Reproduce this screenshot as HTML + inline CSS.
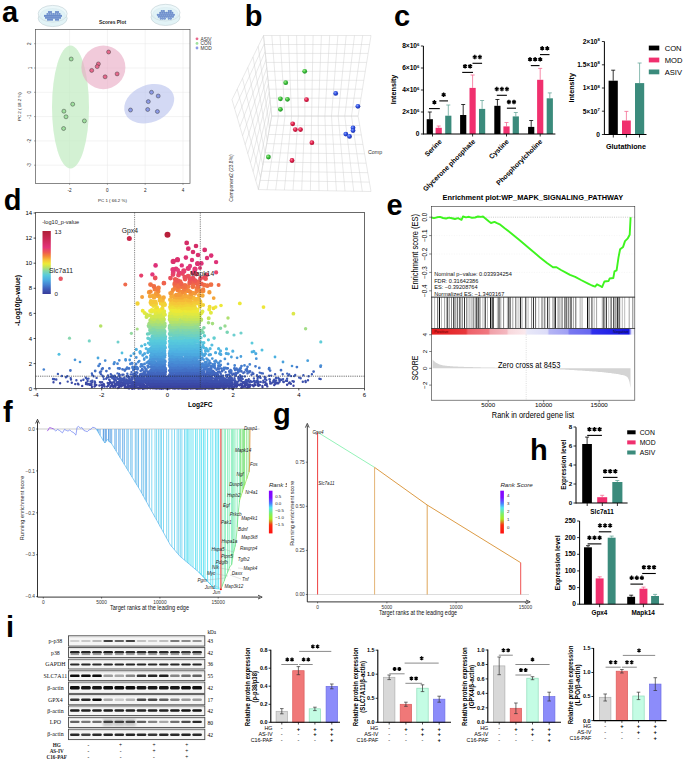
<!DOCTYPE html>
<html><head><meta charset="utf-8"><title>Figure</title>
<style>html,body{margin:0;padding:0;background:#fff;}svg{display:block;}</style>
</head><body>
<svg width="685" height="761" viewBox="0 0 685 761" font-family="'Liberation Sans', sans-serif">
<rect width="685" height="761" fill="#fff"/>
<text x="2.1" y="21.6" font-size="29" font-weight="bold">a</text>
<g transform="translate(52.7 13.7)"><ellipse cx="0" cy="4.6" rx="14.5" ry="8.3" fill="#e2f3f6" stroke="#bfcfd4" stroke-width="0.6"/><ellipse cx="0" cy="0" rx="14.5" ry="8.3" fill="#ecf8fa" stroke="#bfcfd4" stroke-width="0.6"/><ellipse cx="0" cy="1.4" rx="12.6" ry="6.6" fill="#e0f2f6" stroke="#d3e6eb" stroke-width="0.4"/><circle cx="-3.7" cy="-1.6" r="1.08" fill="#5a7ec4"/><circle cx="-1.7" cy="-1.6" r="1.08" fill="#5a7ec4"/><circle cx="3.3" cy="-1.6" r="1.08" fill="#5a7ec4"/><circle cx="5.3" cy="-1.6" r="1.08" fill="#5a7ec4"/><circle cx="-5.2" cy="0.3" r="1.08" fill="#5a7ec4"/><circle cx="-3.2" cy="0.3" r="1.08" fill="#5a7ec4"/><circle cx="-1.2" cy="0.3" r="1.08" fill="#5a7ec4"/><circle cx="0.8" cy="0.3" r="1.08" fill="#5a7ec4"/><circle cx="2.8" cy="0.3" r="1.08" fill="#5a7ec4"/><circle cx="4.8" cy="0.3" r="1.08" fill="#5a7ec4"/><circle cx="6.8" cy="0.3" r="1.08" fill="#5a7ec4"/><circle cx="-7.7" cy="2.2" r="1.08" fill="#5a7ec4"/><circle cx="-5.7" cy="2.2" r="1.08" fill="#5a7ec4"/><circle cx="-3.7" cy="2.2" r="1.08" fill="#5a7ec4"/><circle cx="-1.7" cy="2.2" r="1.08" fill="#5a7ec4"/><circle cx="0.3" cy="2.2" r="1.08" fill="#5a7ec4"/><circle cx="2.3" cy="2.2" r="1.08" fill="#5a7ec4"/><circle cx="4.3" cy="2.2" r="1.08" fill="#5a7ec4"/><circle cx="6.3" cy="2.2" r="1.08" fill="#5a7ec4"/><circle cx="8.3" cy="2.2" r="1.08" fill="#5a7ec4"/><circle cx="-6.7" cy="4.1" r="1.08" fill="#5a7ec4"/><circle cx="-4.7" cy="4.1" r="1.08" fill="#5a7ec4"/><circle cx="-2.7" cy="4.1" r="1.08" fill="#5a7ec4"/><circle cx="-0.7" cy="4.1" r="1.08" fill="#5a7ec4"/><circle cx="1.3" cy="4.1" r="1.08" fill="#5a7ec4"/><circle cx="3.3" cy="4.1" r="1.08" fill="#5a7ec4"/><circle cx="5.3" cy="4.1" r="1.08" fill="#5a7ec4"/><circle cx="7.3" cy="4.1" r="1.08" fill="#5a7ec4"/><circle cx="-4.7" cy="6" r="1.08" fill="#5a7ec4"/><circle cx="-2.7" cy="6" r="1.08" fill="#5a7ec4"/><circle cx="-0.7" cy="6" r="1.08" fill="#5a7ec4"/><circle cx="3.3" cy="6" r="1.08" fill="#5a7ec4"/><circle cx="5.3" cy="6" r="1.08" fill="#5a7ec4"/><circle cx="-3.7" cy="-1.6" r="0.5" fill="#9ab2e0"/><circle cx="-1.7" cy="-1.6" r="0.5" fill="#9ab2e0"/><circle cx="3.3" cy="-1.6" r="0.5" fill="#9ab2e0"/><circle cx="5.3" cy="-1.6" r="0.5" fill="#9ab2e0"/><circle cx="-5.2" cy="0.3" r="0.5" fill="#9ab2e0"/><circle cx="-3.2" cy="0.3" r="0.5" fill="#9ab2e0"/><circle cx="-1.2" cy="0.3" r="0.5" fill="#9ab2e0"/><circle cx="0.8" cy="0.3" r="0.5" fill="#9ab2e0"/><circle cx="2.8" cy="0.3" r="0.5" fill="#9ab2e0"/><circle cx="4.8" cy="0.3" r="0.5" fill="#9ab2e0"/><circle cx="6.8" cy="0.3" r="0.5" fill="#9ab2e0"/><circle cx="-7.7" cy="2.2" r="0.5" fill="#9ab2e0"/><circle cx="-5.7" cy="2.2" r="0.5" fill="#9ab2e0"/><circle cx="-3.7" cy="2.2" r="0.5" fill="#9ab2e0"/><circle cx="-1.7" cy="2.2" r="0.5" fill="#9ab2e0"/><circle cx="0.3" cy="2.2" r="0.5" fill="#9ab2e0"/><circle cx="2.3" cy="2.2" r="0.5" fill="#9ab2e0"/><circle cx="4.3" cy="2.2" r="0.5" fill="#9ab2e0"/><circle cx="6.3" cy="2.2" r="0.5" fill="#9ab2e0"/><circle cx="8.3" cy="2.2" r="0.5" fill="#9ab2e0"/><circle cx="-6.7" cy="4.1" r="0.5" fill="#9ab2e0"/><circle cx="-4.7" cy="4.1" r="0.5" fill="#9ab2e0"/><circle cx="-2.7" cy="4.1" r="0.5" fill="#9ab2e0"/><circle cx="-0.7" cy="4.1" r="0.5" fill="#9ab2e0"/><circle cx="1.3" cy="4.1" r="0.5" fill="#9ab2e0"/><circle cx="3.3" cy="4.1" r="0.5" fill="#9ab2e0"/><circle cx="5.3" cy="4.1" r="0.5" fill="#9ab2e0"/><circle cx="7.3" cy="4.1" r="0.5" fill="#9ab2e0"/><circle cx="-4.7" cy="6" r="0.5" fill="#9ab2e0"/><circle cx="-2.7" cy="6" r="0.5" fill="#9ab2e0"/><circle cx="-0.7" cy="6" r="0.5" fill="#9ab2e0"/><circle cx="3.3" cy="6" r="0.5" fill="#9ab2e0"/><circle cx="5.3" cy="6" r="0.5" fill="#9ab2e0"/></g>
<g transform="translate(165.5 12.6)"><ellipse cx="0" cy="4.6" rx="14.5" ry="8.3" fill="#e2f3f6" stroke="#bfcfd4" stroke-width="0.6"/><ellipse cx="0" cy="0" rx="14.5" ry="8.3" fill="#ecf8fa" stroke="#bfcfd4" stroke-width="0.6"/><ellipse cx="0" cy="1.4" rx="12.6" ry="6.6" fill="#e0f2f6" stroke="#d3e6eb" stroke-width="0.4"/><circle cx="-3.7" cy="-1.6" r="1.08" fill="#5a7ec4"/><circle cx="-1.7" cy="-1.6" r="1.08" fill="#5a7ec4"/><circle cx="3.3" cy="-1.6" r="1.08" fill="#5a7ec4"/><circle cx="5.3" cy="-1.6" r="1.08" fill="#5a7ec4"/><circle cx="-5.2" cy="0.3" r="1.08" fill="#5a7ec4"/><circle cx="-3.2" cy="0.3" r="1.08" fill="#5a7ec4"/><circle cx="-1.2" cy="0.3" r="1.08" fill="#5a7ec4"/><circle cx="0.8" cy="0.3" r="1.08" fill="#5a7ec4"/><circle cx="2.8" cy="0.3" r="1.08" fill="#5a7ec4"/><circle cx="4.8" cy="0.3" r="1.08" fill="#5a7ec4"/><circle cx="6.8" cy="0.3" r="1.08" fill="#5a7ec4"/><circle cx="-7.7" cy="2.2" r="1.08" fill="#5a7ec4"/><circle cx="-5.7" cy="2.2" r="1.08" fill="#5a7ec4"/><circle cx="-3.7" cy="2.2" r="1.08" fill="#5a7ec4"/><circle cx="-1.7" cy="2.2" r="1.08" fill="#5a7ec4"/><circle cx="0.3" cy="2.2" r="1.08" fill="#5a7ec4"/><circle cx="2.3" cy="2.2" r="1.08" fill="#5a7ec4"/><circle cx="4.3" cy="2.2" r="1.08" fill="#5a7ec4"/><circle cx="6.3" cy="2.2" r="1.08" fill="#5a7ec4"/><circle cx="8.3" cy="2.2" r="1.08" fill="#5a7ec4"/><circle cx="-6.7" cy="4.1" r="1.08" fill="#5a7ec4"/><circle cx="-4.7" cy="4.1" r="1.08" fill="#5a7ec4"/><circle cx="-2.7" cy="4.1" r="1.08" fill="#5a7ec4"/><circle cx="-0.7" cy="4.1" r="1.08" fill="#5a7ec4"/><circle cx="1.3" cy="4.1" r="1.08" fill="#5a7ec4"/><circle cx="3.3" cy="4.1" r="1.08" fill="#5a7ec4"/><circle cx="5.3" cy="4.1" r="1.08" fill="#5a7ec4"/><circle cx="7.3" cy="4.1" r="1.08" fill="#5a7ec4"/><circle cx="-4.7" cy="6" r="1.08" fill="#5a7ec4"/><circle cx="-2.7" cy="6" r="1.08" fill="#5a7ec4"/><circle cx="-0.7" cy="6" r="1.08" fill="#5a7ec4"/><circle cx="3.3" cy="6" r="1.08" fill="#5a7ec4"/><circle cx="5.3" cy="6" r="1.08" fill="#5a7ec4"/><circle cx="-3.7" cy="-1.6" r="0.5" fill="#9ab2e0"/><circle cx="-1.7" cy="-1.6" r="0.5" fill="#9ab2e0"/><circle cx="3.3" cy="-1.6" r="0.5" fill="#9ab2e0"/><circle cx="5.3" cy="-1.6" r="0.5" fill="#9ab2e0"/><circle cx="-5.2" cy="0.3" r="0.5" fill="#9ab2e0"/><circle cx="-3.2" cy="0.3" r="0.5" fill="#9ab2e0"/><circle cx="-1.2" cy="0.3" r="0.5" fill="#9ab2e0"/><circle cx="0.8" cy="0.3" r="0.5" fill="#9ab2e0"/><circle cx="2.8" cy="0.3" r="0.5" fill="#9ab2e0"/><circle cx="4.8" cy="0.3" r="0.5" fill="#9ab2e0"/><circle cx="6.8" cy="0.3" r="0.5" fill="#9ab2e0"/><circle cx="-7.7" cy="2.2" r="0.5" fill="#9ab2e0"/><circle cx="-5.7" cy="2.2" r="0.5" fill="#9ab2e0"/><circle cx="-3.7" cy="2.2" r="0.5" fill="#9ab2e0"/><circle cx="-1.7" cy="2.2" r="0.5" fill="#9ab2e0"/><circle cx="0.3" cy="2.2" r="0.5" fill="#9ab2e0"/><circle cx="2.3" cy="2.2" r="0.5" fill="#9ab2e0"/><circle cx="4.3" cy="2.2" r="0.5" fill="#9ab2e0"/><circle cx="6.3" cy="2.2" r="0.5" fill="#9ab2e0"/><circle cx="8.3" cy="2.2" r="0.5" fill="#9ab2e0"/><circle cx="-6.7" cy="4.1" r="0.5" fill="#9ab2e0"/><circle cx="-4.7" cy="4.1" r="0.5" fill="#9ab2e0"/><circle cx="-2.7" cy="4.1" r="0.5" fill="#9ab2e0"/><circle cx="-0.7" cy="4.1" r="0.5" fill="#9ab2e0"/><circle cx="1.3" cy="4.1" r="0.5" fill="#9ab2e0"/><circle cx="3.3" cy="4.1" r="0.5" fill="#9ab2e0"/><circle cx="5.3" cy="4.1" r="0.5" fill="#9ab2e0"/><circle cx="7.3" cy="4.1" r="0.5" fill="#9ab2e0"/><circle cx="-4.7" cy="6" r="0.5" fill="#9ab2e0"/><circle cx="-2.7" cy="6" r="0.5" fill="#9ab2e0"/><circle cx="-0.7" cy="6" r="0.5" fill="#9ab2e0"/><circle cx="3.3" cy="6" r="0.5" fill="#9ab2e0"/><circle cx="5.3" cy="6" r="0.5" fill="#9ab2e0"/></g>
<text x="112.6" y="24.3" font-size="5.8" text-anchor="middle" font-weight="bold" fill="#222" textLength="27" lengthAdjust="spacingAndGlyphs">Scores Plot</text>
<rect x="35.5" y="29.4" width="154.5" height="154" fill="#fff"/>
<line x1="69.6" y1="29.4" x2="69.6" y2="183.4" stroke="#e6e6e6" stroke-width="0.5"/>
<line x1="107.4" y1="29.4" x2="107.4" y2="183.4" stroke="#e6e6e6" stroke-width="0.5"/>
<line x1="145.2" y1="29.4" x2="145.2" y2="183.4" stroke="#e6e6e6" stroke-width="0.5"/>
<line x1="183" y1="29.4" x2="183" y2="183.4" stroke="#e6e6e6" stroke-width="0.5"/>
<line x1="35.5" y1="43.7" x2="190" y2="43.7" stroke="#e6e6e6" stroke-width="0.5"/>
<line x1="35.5" y1="68" x2="190" y2="68" stroke="#e6e6e6" stroke-width="0.5"/>
<line x1="35.5" y1="92.3" x2="190" y2="92.3" stroke="#e6e6e6" stroke-width="0.5"/>
<line x1="35.5" y1="116.6" x2="190" y2="116.6" stroke="#e6e6e6" stroke-width="0.5"/>
<line x1="35.5" y1="140.9" x2="190" y2="140.9" stroke="#e6e6e6" stroke-width="0.5"/>
<line x1="35.5" y1="165.2" x2="190" y2="165.2" stroke="#e6e6e6" stroke-width="0.5"/>
<ellipse cx="70.5" cy="107" rx="18.5" ry="61.5" fill="#c4ecc4" fill-opacity="0.75"/>
<ellipse cx="103.4" cy="67.4" rx="22" ry="21.8" fill="#e9aac4" fill-opacity="0.62"/>
<ellipse cx="149.2" cy="103.7" rx="25.9" ry="18.6" fill="#b8c2ee" fill-opacity="0.62" transform="rotate(-22 149.2 103.7)"/>
<circle cx="71.2" cy="59" r="2" fill="#9ee09e" stroke="#333" stroke-width="0.45"/>
<circle cx="72.7" cy="104.2" r="2" fill="#9ee09e" stroke="#333" stroke-width="0.45"/>
<circle cx="63.9" cy="111.2" r="2" fill="#9ee09e" stroke="#333" stroke-width="0.45"/>
<circle cx="66" cy="116.8" r="2" fill="#9ee09e" stroke="#333" stroke-width="0.45"/>
<circle cx="84.4" cy="120.9" r="2" fill="#9ee09e" stroke="#333" stroke-width="0.45"/>
<circle cx="63.6" cy="128.5" r="2" fill="#9ee09e" stroke="#333" stroke-width="0.45"/>
<circle cx="108.6" cy="52" r="2" fill="#e8688c" stroke="#333" stroke-width="0.45"/>
<circle cx="98.4" cy="63.9" r="2" fill="#e8688c" stroke="#333" stroke-width="0.45"/>
<circle cx="97.2" cy="66.6" r="2" fill="#e8688c" stroke="#333" stroke-width="0.45"/>
<circle cx="91.7" cy="70.4" r="2" fill="#e8688c" stroke="#333" stroke-width="0.45"/>
<circle cx="105.1" cy="76.8" r="2" fill="#e8688c" stroke="#333" stroke-width="0.45"/>
<circle cx="117.1" cy="73.9" r="2" fill="#e8688c" stroke="#333" stroke-width="0.45"/>
<circle cx="151.5" cy="92.3" r="2" fill="#8c9ae6" stroke="#333" stroke-width="0.45"/>
<circle cx="158.2" cy="96" r="2" fill="#8c9ae6" stroke="#333" stroke-width="0.45"/>
<circle cx="148.3" cy="101.6" r="2" fill="#8c9ae6" stroke="#333" stroke-width="0.45"/>
<circle cx="130.5" cy="110" r="2" fill="#8c9ae6" stroke="#333" stroke-width="0.45"/>
<circle cx="147.7" cy="109.5" r="2" fill="#8c9ae6" stroke="#333" stroke-width="0.45"/>
<circle cx="157.4" cy="111.5" r="2" fill="#8c9ae6" stroke="#333" stroke-width="0.45"/>
<rect x="35.5" y="29.4" width="154.5" height="154" fill="none" stroke="#555" stroke-width="0.7"/>
<line x1="69.6" y1="183.4" x2="69.6" y2="184.9" stroke="#555" stroke-width="0.5"/>
<text x="69.6" y="192.1" font-size="4.6" text-anchor="middle" fill="#222">-2</text>
<line x1="107.4" y1="183.4" x2="107.4" y2="184.9" stroke="#555" stroke-width="0.5"/>
<text x="107.4" y="192.1" font-size="4.6" text-anchor="middle" fill="#222">0</text>
<line x1="145.2" y1="183.4" x2="145.2" y2="184.9" stroke="#555" stroke-width="0.5"/>
<text x="145.2" y="192.1" font-size="4.6" text-anchor="middle" fill="#222">2</text>
<line x1="183" y1="183.4" x2="183" y2="184.9" stroke="#555" stroke-width="0.5"/>
<text x="183" y="192.1" font-size="4.6" text-anchor="middle" fill="#222">4</text>
<line x1="34" y1="43.7" x2="35.5" y2="43.7" stroke="#555" stroke-width="0.5"/>
<text x="31.5" y="43.7" font-size="4.6" text-anchor="middle" fill="#222" transform="rotate(-90 31.5 43.7)">2</text>
<line x1="34" y1="68" x2="35.5" y2="68" stroke="#555" stroke-width="0.5"/>
<text x="31.5" y="68" font-size="4.6" text-anchor="middle" fill="#222" transform="rotate(-90 31.5 68)">1</text>
<line x1="34" y1="92.3" x2="35.5" y2="92.3" stroke="#555" stroke-width="0.5"/>
<text x="31.5" y="92.3" font-size="4.6" text-anchor="middle" fill="#222" transform="rotate(-90 31.5 92.3)">0</text>
<line x1="34" y1="116.6" x2="35.5" y2="116.6" stroke="#555" stroke-width="0.5"/>
<text x="31.5" y="116.6" font-size="4.6" text-anchor="middle" fill="#222" transform="rotate(-90 31.5 116.6)">-1</text>
<line x1="34" y1="140.9" x2="35.5" y2="140.9" stroke="#555" stroke-width="0.5"/>
<text x="31.5" y="140.9" font-size="4.6" text-anchor="middle" fill="#222" transform="rotate(-90 31.5 140.9)">-2</text>
<line x1="34" y1="165.2" x2="35.5" y2="165.2" stroke="#555" stroke-width="0.5"/>
<text x="31.5" y="165.2" font-size="4.6" text-anchor="middle" fill="#222" transform="rotate(-90 31.5 165.2)">-3</text>
<text x="112.5" y="202.3" font-size="4.4" text-anchor="middle" fill="#222">PC 1 ( 66.2 %)</text>
<text x="20.8" y="106.6" font-size="4.4" text-anchor="middle" fill="#222" transform="rotate(-90 20.8 106.6)">PC 2 ( 18.2 %)</text>
<circle cx="197" cy="38.8" r="1.4" fill="#e8688c"/>
<text x="200.6" y="40.5" font-size="4.8" fill="#333">ASIV</text>
<circle cx="197" cy="43.4" r="1.4" fill="#9ee09e"/>
<text x="200.6" y="45.1" font-size="4.8" fill="#333">CON</text>
<circle cx="197" cy="48" r="1.4" fill="#8c9ae6"/>
<text x="200.6" y="49.7" font-size="4.8" fill="#333">MOD</text>
<text x="244.7" y="25.6" font-size="29" font-weight="bold">b</text>
<path d="M263.5 35.5L271.7 116.1M271.8 35.5L278.3 116.1M280 35.5L285 116.1M288.3 35.5L291.6 116.1M296.6 35.5L298.3 116.1M304.8 35.5L304.9 116.1M313.1 35.5L311.6 116.1M321.4 35.5L318.2 116.1M329.7 35.5L324.9 116.1M337.9 35.5L331.5 116.1M346.2 35.5L338.2 116.1M354.5 35.5L344.8 116.1M362.7 35.5L351.5 116.1M371 35.5L358.1 116.1M263.5 35.5L371 35.5M264.4 44.5L369.6 44.5M265.3 53.4L368.1 53.4M266.2 62.4L366.7 62.4M267.1 71.3L365.3 71.3M268.1 80.3L363.8 80.3M269 89.2L362.4 89.2M269.9 98.2L361 98.2M270.8 107.1L359.5 107.1M271.7 116.1L358.1 116.1M271.7 116.1L258.4 189.6M278.3 116.1L267.1 189.7M285 116.1L275.7 189.9M291.6 116.1L284.4 190M298.3 116.1L293 190.2M304.9 116.1L301.7 190.3M311.6 116.1L310.4 190.5M318.2 116.1L319 190.6M324.9 116.1L327.7 190.8M331.5 116.1L336.4 190.9M338.2 116.1L345 191.1M344.8 116.1L353.7 191.2M351.5 116.1L362.3 191.4M358.1 116.1L371 191.5M271.7 116.1L358.1 116.1M270 125.3L359.7 125.5M268.4 134.5L361.3 134.9M266.7 143.7L362.9 144.4M265 152.8L364.6 153.8M263.4 162L366.2 163.2M261.7 171.2L367.8 172.7M260.1 180.4L369.4 182.1M258.4 189.6L371 191.5M263.5 35.5L271.7 116.1M258.2 46.2L269.5 128.3M253 56.9L267.3 140.6M247.8 67.6L265 152.8M242.5 78.3L262.8 165.1M237.2 89L260.6 177.3M232 99.7L258.4 189.6M263.5 35.5L232 99.7M264.3 43.6L234.6 108.7M265.1 51.6L237.3 117.7M266 59.7L239.9 126.7M266.8 67.7L242.6 135.7M267.6 75.8L245.2 144.7M268.4 83.9L247.8 153.6M269.2 91.9L250.5 162.6M270.1 100L253.1 171.6M270.9 108L255.8 180.6M271.7 116.1L258.4 189.6" stroke="#d2d2d2" stroke-width="0.5" fill="none"/>
<defs><radialGradient id="sg" cx="0.38" cy="0.35" r="0.7"><stop offset="0" stop-color="#a6f08c"/><stop offset="0.45" stop-color="#3fbf3f"/><stop offset="1" stop-color="#1e8a23"/></radialGradient><radialGradient id="sr" cx="0.38" cy="0.35" r="0.7"><stop offset="0" stop-color="#ff8aa2"/><stop offset="0.45" stop-color="#e0204c"/><stop offset="1" stop-color="#a80f30"/></radialGradient><radialGradient id="sb" cx="0.38" cy="0.35" r="0.7"><stop offset="0" stop-color="#8aa4ff"/><stop offset="0.45" stop-color="#2f4fe0"/><stop offset="1" stop-color="#1a2fa0"/></radialGradient></defs>
<circle cx="304.7" cy="71.3" r="2.4" fill="url(#sg)"/>
<circle cx="285.7" cy="82.7" r="2.4" fill="url(#sg)"/>
<circle cx="280.4" cy="98.8" r="2.4" fill="url(#sg)"/>
<circle cx="287.4" cy="99.3" r="2.4" fill="url(#sg)"/>
<circle cx="280.4" cy="109.3" r="2.4" fill="url(#sg)"/>
<circle cx="268.4" cy="157" r="2.4" fill="url(#sg)"/>
<circle cx="306.5" cy="99.7" r="2.4" fill="url(#sr)"/>
<circle cx="292.7" cy="123.8" r="2.4" fill="url(#sr)"/>
<circle cx="295.3" cy="129.6" r="2.4" fill="url(#sr)"/>
<circle cx="300.5" cy="129.6" r="2.4" fill="url(#sr)"/>
<circle cx="311.9" cy="142.7" r="2.4" fill="url(#sr)"/>
<circle cx="292" cy="160.5" r="2.4" fill="url(#sr)"/>
<circle cx="335.7" cy="93.4" r="2.4" fill="url(#sb)"/>
<circle cx="357.9" cy="106.3" r="2.4" fill="url(#sb)"/>
<circle cx="353" cy="127.8" r="2.4" fill="url(#sb)"/>
<circle cx="353" cy="130.6" r="2.4" fill="url(#sb)"/>
<circle cx="345.8" cy="134.1" r="2.4" fill="url(#sb)"/>
<circle cx="349.5" cy="136.4" r="2.4" fill="url(#sb)"/>
<text x="368" y="154.3" font-size="5.3" fill="#333">Comp</text>
<text x="232.8" y="178" font-size="5" text-anchor="middle" fill="#333" transform="rotate(-90 232.8 178)">Component2 (23.8%)</text>
<text x="394" y="25.6" font-size="29" font-weight="bold">c</text>
<line x1="429.8" y1="119.2" x2="429.8" y2="112" stroke="#000" stroke-width="0.8"/>
<line x1="427.8" y1="112" x2="431.8" y2="112" stroke="#000" stroke-width="0.8"/>
<rect x="426.7" y="119.2" width="6.2" height="14.8" fill="#000000"/>
<line x1="438.7" y1="127.8" x2="438.7" y2="126" stroke="#f46c93" stroke-width="0.8"/>
<line x1="436.7" y1="126" x2="440.7" y2="126" stroke="#f46c93" stroke-width="0.8"/>
<rect x="435.6" y="127.8" width="6.2" height="6.2" fill="#f0306e"/>
<line x1="448.3" y1="115.7" x2="448.3" y2="105" stroke="#6aa89c" stroke-width="0.8"/>
<line x1="446.3" y1="105" x2="450.3" y2="105" stroke="#6aa89c" stroke-width="0.8"/>
<rect x="445.2" y="115.7" width="6.2" height="18.3" fill="#3b8b7c"/>
<line x1="463.2" y1="115" x2="463.2" y2="104.5" stroke="#000" stroke-width="0.8"/>
<line x1="461.2" y1="104.5" x2="465.2" y2="104.5" stroke="#000" stroke-width="0.8"/>
<rect x="460.1" y="115" width="6.2" height="19" fill="#000000"/>
<line x1="472.6" y1="87.9" x2="472.6" y2="75" stroke="#f46c93" stroke-width="0.8"/>
<line x1="470.6" y1="75" x2="474.6" y2="75" stroke="#f46c93" stroke-width="0.8"/>
<rect x="469.5" y="87.9" width="6.2" height="46.1" fill="#f0306e"/>
<line x1="482.1" y1="108.9" x2="482.1" y2="100.5" stroke="#6aa89c" stroke-width="0.8"/>
<line x1="480.1" y1="100.5" x2="484.1" y2="100.5" stroke="#6aa89c" stroke-width="0.8"/>
<rect x="479" y="108.9" width="6.2" height="25.1" fill="#3b8b7c"/>
<line x1="497.4" y1="105.8" x2="497.4" y2="99.5" stroke="#000" stroke-width="0.8"/>
<line x1="495.4" y1="99.5" x2="499.4" y2="99.5" stroke="#000" stroke-width="0.8"/>
<rect x="494.3" y="105.8" width="6.2" height="28.2" fill="#000000"/>
<line x1="506.5" y1="126.4" x2="506.5" y2="122.5" stroke="#f46c93" stroke-width="0.8"/>
<line x1="504.5" y1="122.5" x2="508.5" y2="122.5" stroke="#f46c93" stroke-width="0.8"/>
<rect x="503.4" y="126.4" width="6.2" height="7.6" fill="#f0306e"/>
<line x1="515.8" y1="116.4" x2="515.8" y2="112.5" stroke="#6aa89c" stroke-width="0.8"/>
<line x1="513.8" y1="112.5" x2="517.8" y2="112.5" stroke="#6aa89c" stroke-width="0.8"/>
<rect x="512.7" y="116.4" width="6.2" height="17.6" fill="#3b8b7c"/>
<line x1="531.2" y1="126.9" x2="531.2" y2="120.5" stroke="#000" stroke-width="0.8"/>
<line x1="529.2" y1="120.5" x2="533.2" y2="120.5" stroke="#000" stroke-width="0.8"/>
<rect x="528.1" y="126.9" width="6.2" height="7.1" fill="#000000"/>
<line x1="540.2" y1="79.8" x2="540.2" y2="68.4" stroke="#f46c93" stroke-width="0.8"/>
<line x1="538.2" y1="68.4" x2="542.2" y2="68.4" stroke="#f46c93" stroke-width="0.8"/>
<rect x="537.1" y="79.8" width="6.2" height="54.2" fill="#f0306e"/>
<line x1="549.8" y1="98.3" x2="549.8" y2="92.9" stroke="#6aa89c" stroke-width="0.8"/>
<line x1="547.8" y1="92.9" x2="551.8" y2="92.9" stroke="#6aa89c" stroke-width="0.8"/>
<rect x="546.7" y="98.3" width="6.2" height="35.7" fill="#3b8b7c"/>
<line x1="423.4" y1="46" x2="423.4" y2="134.5" stroke="#000" stroke-width="1"/>
<line x1="423.4" y1="134" x2="555.4" y2="134" stroke="#000" stroke-width="1"/>
<line x1="420.9" y1="134" x2="423.4" y2="134" stroke="#000" stroke-width="0.8"/>
<text x="419.4" y="136.2" font-size="6.6" text-anchor="end" font-weight="bold">0</text>
<line x1="420.9" y1="112" x2="423.4" y2="112" stroke="#000" stroke-width="0.8"/>
<text x="419.4" y="114.2" font-size="6.6" text-anchor="end" font-weight="bold">2×10<tspan font-size="4.2" dy="-2.6">6</tspan></text>
<line x1="420.9" y1="90" x2="423.4" y2="90" stroke="#000" stroke-width="0.8"/>
<text x="419.4" y="92.2" font-size="6.6" text-anchor="end" font-weight="bold">4×10<tspan font-size="4.2" dy="-2.6">6</tspan></text>
<line x1="420.9" y1="68" x2="423.4" y2="68" stroke="#000" stroke-width="0.8"/>
<text x="419.4" y="70.2" font-size="6.6" text-anchor="end" font-weight="bold">6×10<tspan font-size="4.2" dy="-2.6">6</tspan></text>
<line x1="420.9" y1="46" x2="423.4" y2="46" stroke="#000" stroke-width="0.8"/>
<text x="419.4" y="48.2" font-size="6.6" text-anchor="end" font-weight="bold">8×10<tspan font-size="4.2" dy="-2.6">6</tspan></text>
<line x1="432.5" y1="134" x2="432.5" y2="136.5" stroke="#000" stroke-width="0.8"/>
<line x1="472.6" y1="134" x2="472.6" y2="136.5" stroke="#000" stroke-width="0.8"/>
<line x1="506.5" y1="134" x2="506.5" y2="136.5" stroke="#000" stroke-width="0.8"/>
<line x1="540.2" y1="134" x2="540.2" y2="136.5" stroke="#000" stroke-width="0.8"/>
<text x="395.5" y="89.5" font-size="7.2" text-anchor="middle" font-weight="bold" transform="rotate(-90 395.5 89.5)">Intensity</text>
<text x="442.3" y="142" font-size="6.9" text-anchor="end" font-weight="bold" transform="rotate(-45 442.3 142)">Serine</text>
<text x="475.6" y="142" font-size="6.9" text-anchor="end" font-weight="bold" transform="rotate(-45 475.6 142)">Glycerone phosphate</text>
<text x="509.3" y="142" font-size="6.9" text-anchor="end" font-weight="bold" transform="rotate(-45 509.3 142)">Cystine</text>
<text x="542.8" y="142" font-size="6.9" text-anchor="end" font-weight="bold" transform="rotate(-45 542.8 142)">Phosphorylcholine</text>
<line x1="429" y1="108.6" x2="439.8" y2="108.6" stroke="#000" stroke-width="1.1"/>
<path d="M434.4 100.1V104.6M432.5 101.3L436.3 103.5M432.5 103.5L436.3 101.3" stroke="#000" stroke-width="1.35" fill="none"/>
<line x1="439.3" y1="100.9" x2="448" y2="100.9" stroke="#000" stroke-width="1.1"/>
<path d="M443.6 92.5V97M441.7 93.6L445.6 95.8M441.7 95.8L445.6 93.6" stroke="#000" stroke-width="1.35" fill="none"/>
<line x1="462.2" y1="72.4" x2="473" y2="72.4" stroke="#000" stroke-width="1.1"/>
<path d="M465.1 64V68.5M463.1 65.1L467 67.3M463.1 67.3L467 65.1M470.2 64V68.5M468.2 65.1L472.1 67.3M468.2 67.3L472.1 65.1" stroke="#000" stroke-width="1.35" fill="none"/>
<line x1="472.5" y1="63.3" x2="482.1" y2="63.3" stroke="#000" stroke-width="1.1"/>
<path d="M474.8 54.8V59.3M472.8 56L476.7 58.2M472.8 58.2L476.7 56M479.9 54.8V59.3M477.9 56L481.8 58.2M477.9 58.2L481.8 56" stroke="#000" stroke-width="1.35" fill="none"/>
<line x1="496.8" y1="95.3" x2="506.9" y2="95.3" stroke="#000" stroke-width="1.1"/>
<path d="M496.8 86.8V91.3M494.8 88L498.7 90.2M494.8 90.2L498.7 88M501.9 86.8V91.3M499.9 88L503.8 90.2M499.9 90.2L503.8 88M506.9 86.8V91.3M505 88L508.9 90.2M505 90.2L508.9 88" stroke="#000" stroke-width="1.35" fill="none"/>
<line x1="506.9" y1="108.2" x2="516" y2="108.2" stroke="#000" stroke-width="1.1"/>
<path d="M508.9 99.8V104.2M507 100.9L510.8 103.1M507 103.1L510.8 100.9M514 99.8V104.2M512.1 100.9L515.9 103.1M512.1 103.1L515.9 100.9" stroke="#000" stroke-width="1.35" fill="none"/>
<line x1="530.8" y1="65.6" x2="539.5" y2="65.6" stroke="#000" stroke-width="1.1"/>
<path d="M530 57.1V61.6M528.1 58.3L532 60.5M528.1 60.5L532 58.3M535.1 57.1V61.6M533.2 58.3L537.1 60.5M533.2 60.5L537.1 58.3M540.2 57.1V61.6M538.3 58.3L542.2 60.5M538.3 60.5L542.2 58.3" stroke="#000" stroke-width="1.35" fill="none"/>
<line x1="540" y1="54.6" x2="549.5" y2="54.6" stroke="#000" stroke-width="1.1"/>
<path d="M542.2 46.1V50.6M540.3 47.3L544.1 49.5M540.3 49.5L544.1 47.3M547.3 46.1V50.6M545.4 47.3L549.2 49.5M545.4 49.5L549.2 47.3" stroke="#000" stroke-width="1.35" fill="none"/>
<line x1="613.2" y1="80.7" x2="613.2" y2="70.2" stroke="#000" stroke-width="0.8"/>
<line x1="611.2" y1="70.2" x2="615.2" y2="70.2" stroke="#000" stroke-width="0.8"/>
<rect x="608.6" y="80.7" width="9.2" height="53.8" fill="#000000"/>
<line x1="626.4" y1="120.5" x2="626.4" y2="111.4" stroke="#f46c93" stroke-width="0.8"/>
<line x1="624.4" y1="111.4" x2="628.4" y2="111.4" stroke="#f46c93" stroke-width="0.8"/>
<rect x="622" y="120.5" width="8.8" height="14" fill="#f0306e"/>
<line x1="639.6" y1="83.1" x2="639.6" y2="63" stroke="#6aa89c" stroke-width="0.8"/>
<line x1="637.6" y1="63" x2="641.6" y2="63" stroke="#6aa89c" stroke-width="0.8"/>
<rect x="635" y="83.1" width="9.2" height="51.4" fill="#3b8b7c"/>
<line x1="604.4" y1="41.5" x2="604.4" y2="135" stroke="#000" stroke-width="1"/>
<line x1="604.4" y1="134.5" x2="646.5" y2="134.5" stroke="#000" stroke-width="1"/>
<line x1="601.9" y1="134.5" x2="604.4" y2="134.5" stroke="#000" stroke-width="0.8"/>
<text x="599.9" y="136.7" font-size="6.6" text-anchor="end" font-weight="bold">0</text>
<line x1="601.9" y1="111.2" x2="604.4" y2="111.2" stroke="#000" stroke-width="0.8"/>
<text x="599.9" y="113.5" font-size="6.6" text-anchor="end" font-weight="bold">5×10<tspan font-size="4.2" dy="-2.6">7</tspan></text>
<line x1="601.9" y1="88" x2="604.4" y2="88" stroke="#000" stroke-width="0.8"/>
<text x="599.9" y="90.2" font-size="6.6" text-anchor="end" font-weight="bold">1×10<tspan font-size="4.2" dy="-2.6">8</tspan></text>
<line x1="601.9" y1="64.8" x2="604.4" y2="64.8" stroke="#000" stroke-width="0.8"/>
<text x="599.9" y="67" font-size="6.6" text-anchor="end" font-weight="bold">1.5×10<tspan font-size="4.2" dy="-2.6">8</tspan></text>
<line x1="601.9" y1="41.5" x2="604.4" y2="41.5" stroke="#000" stroke-width="0.8"/>
<text x="599.9" y="43.7" font-size="6.6" text-anchor="end" font-weight="bold">2×10<tspan font-size="4.2" dy="-2.6">8</tspan></text>
<line x1="613.3" y1="134.5" x2="613.3" y2="137.5" stroke="#000" stroke-width="0.8"/>
<line x1="626.4" y1="134.5" x2="626.4" y2="137.5" stroke="#000" stroke-width="0.8"/>
<line x1="639.5" y1="134.5" x2="639.5" y2="137.5" stroke="#000" stroke-width="0.8"/>
<text x="626" y="148.8" font-size="7.2" text-anchor="middle" font-weight="bold">Glutathione</text>
<text x="574.5" y="87.8" font-size="7.2" text-anchor="middle" font-weight="bold" transform="rotate(-90 574.5 87.8)">Intensity</text>
<rect x="648.8" y="45.6" width="10.5" height="4.8" fill="#000000"/>
<text x="664.7" y="50.8" font-size="7.6">CON</text>
<rect x="648.8" y="57.6" width="10.5" height="4.8" fill="#f0306e"/>
<text x="664.7" y="62.8" font-size="7.6">MOD</text>
<rect x="648.8" y="69.5" width="10.5" height="4.8" fill="#3b8b7c"/>
<text x="664.7" y="74.7" font-size="7.6">ASIV</text>
<text x="3.8" y="209.9" font-size="29" font-weight="bold">d</text>
<path d="M192.9 388h0M189.1 387.5h0M177.8 388.1h0M191.4 387.8h0M196 387.4h0M142.3 387.8h0M178.3 388.5h0M159.1 387.7h0M160.9 388.1h0M205.8 388.3h0M210 388.4h0M187.8 387.4h0M158.2 387.6h0M179.1 387.6h0M190.9 387.8h0M179.8 387.7h0M117.9 388.1h0M199.2 387.3h0M179.4 387.7h0M210.1 387.6h0M187.1 387.7h0M162.9 387.7h0M144.8 388.2h0M167.5 387.6h0M196.9 388.5h0M187 387.8h0M141.6 387.5h0M175 388.1h0M124.8 387.4h0M181.9 388.2h0M161.2 387.4h0M141.1 387.4h0M160.8 388h0M174.3 388.3h0M187.6 388.2h0M168.6 388.4h0M182.2 387.6h0M225 387.6h0M162.8 388.2h0M196.7 388.7h0M165.4 387.8h0M125.1 387.9h0M201.4 388.5h0M187 388.2h0M155.5 388.4h0M159.6 388.6h0M179.1 387.5h0M163.5 388.1h0M172.8 388.3h0M247.2 387.5h0M161.3 388h0M184.8 388.6h0M209 388.6h0M186.9 388h0M172.2 388.1h0M203.4 388.3h0M187.2 388h0M132.2 388.7h0M208.4 387.8h0M135.2 387.8h0M196.6 387.4h0M145.5 388.1h0M206.8 387.4h0M159 388.4h0M139 387.7h0M231.6 388.3h0M149.1 387.9h0M155.9 387.7h0M156.8 388.5h0M212.5 388.6h0M212.3 387.8h0M163.4 388.1h0M208.5 387.5h0M186.3 388.3h0M210.8 387.4h0M199.7 388h0M166 388.3h0M182.4 388.3h0M187.2 388.5h0M125.1 387.3h0M219.4 388.1h0M192.6 388h0M153.2 387.6h0M203.5 387.8h0M151.4 387.8h0M208.9 387.8h0M160.6 388.1h0M183 387.5h0M175.2 388.4h0M176.3 387.4h0M157.4 387.5h0M197.2 388.7h0M164.9 388h0M163.6 388.1h0M202.2 387.7h0M196.3 388h0M218.8 387.9h0M162.7 387.4h0M188.4 387.7h0M147.4 387.3h0M213.8 388h0M222.9 387.6h0M174.5 387.5h0M210 387.7h0M190.4 387.8h0M166.4 387.6h0M179.1 387.8h0M133.1 388h0M171.5 387.9h0M181.1 387.9h0M192.8 387.4h0M206.4 388h0M160.6 387.8h0M177.7 387.6h0M187 387.5h0M126.4 387.8h0M196.5 388h0M213.7 388.5h0M162.2 387.9h0M183.3 388.4h0M207.4 388h0M209.1 388.4h0M190.1 387.8h0M165.8 387.5h0M178.2 388.5h0M217.5 387.4h0M154.5 387.4h0M193.5 387.4h0M217 388h0M169.1 388.1h0M154.5 387.5h0M169.9 388.3h0M194.9 387.5h0M138.5 388.6h0M198.8 387.5h0M186.6 387.4h0M176 387.6h0M165.6 387.7h0M186 388.5h0M153.7 388.1h0M207.2 387.4h0M172.8 388h0M193.9 387.6h0M208.4 387.6h0M192.4 387.8h0M163.4 388.5h0M159.8 388h0M181.9 388.5h0M196.8 387.7h0M200.6 388.3h0M142.9 388.7h0M135.4 387.9h0M197.4 387.5h0M153.7 387.7h0M156.8 387.3h0M214.1 387.8h0M177.3 388.1h0M139.7 387.7h0M197.3 387.3h0M159.7 388.1h0M161.6 388h0M166.7 388.6h0M203 388.5h0M193.2 388.2h0M183.1 388.2h0M232.9 388.7h0M199.8 388.6h0M186.6 388.2h0M161.3 387.8h0M201.3 388.4h0M142 387.6h0M159.6 388.6h0M151.8 387.6h0M207 388.1h0M155.9 388h0M155.8 387.9h0M168.6 387.7h0M174.9 388.5h0M183.3 387.4h0M194.7 387.6h0M168.6 387.6h0M200.7 388.3h0M131.5 387.7h0M223.8 388.7h0M205.3 388.3h0M179.7 388h0M170.1 387.9h0M179.1 387.4h0M128.1 388h0M170.1 387.4h0M182.9 387.4h0M172.6 387.4h0M136.9 387.6h0M188.2 387.5h0M199.5 388.1h0M150.4 388.3h0M180 388.3h0M194.4 387.4h0M203.3 387.9h0M183.8 388h0M208.3 388h0M163.4 388.5h0M161.3 388.4h0M180.6 387.4h0M179.8 388.4h0M177.2 387.8h0M160.9 388h0M166.4 388.4h0M175.8 388.3h0M175.9 387.6h0M205.2 388.7h0M200.2 387.6h0M174.5 387.8h0M141.8 388.1h0M184.1 388.2h0M163.9 388.3h0M118.6 387.6h0M177.6 388.1h0M134.3 388.6h0M158.8 388.2h0M195.4 388.4h0M216.2 387.4h0M192.5 387.5h0M178.1 388h0M152.1 387.4h0M163.8 387.7h0M187.9 388.2h0M211.5 388.5h0M210.1 387.9h0M218.3 388h0M198.8 387.9h0M173.3 387.4h0M182.8 387.7h0M217.9 387.4h0M194.5 387.4h0M196.3 388.5h0M183.1 388.5h0M152.4 387.6h0M185.9 388.6h0M140.5 387.7h0M150.5 387.4h0M171.4 387.8h0M224.8 387.5h0M202.7 388.4h0M187.7 388.7h0M182.7 387.9h0M197 387.7h0M198.1 388.5h0M174 388h0M151.5 387.6h0M190.6 388.6h0M168.1 387.7h0M168.5 388.5h0M165.7 388.3h0M166.9 388.6h0M153.9 387.5h0M167.9 387.4h0M191.6 388.4h0M174.8 387.9h0M191.7 388.3h0M201.5 387.9h0M144.1 387.6h0M139.8 388.4h0M194.6 387.7h0M147.2 388.3h0M161.9 388.1h0M129.1 388.4h0M213.7 387.4h0M153 388.3h0M143.1 388h0M186.9 387.4h0M197.2 388.5h0M159.5 387.5h0M190.8 388h0M167.5 388h0M229 388.3h0M152.1 387.9h0M163.9 387.5h0M151 387.4h0M183.6 387.6h0M172.5 388.2h0M160.7 387.7h0M168.8 387.8h0M152.2 387.6h0M119.1 387.4h0M164.4 388.1h0M158.8 388.3h0M207.6 387.6h0M191.3 387.9h0M161.5 388.7h0M168 388.2h0M207.6 387.4h0M192.2 387.5h0M220.2 387.4h0M174 387.7h0M241.4 387.7h0" stroke="#383c9a" stroke-width="2.4" stroke-linecap="round"/>
<path d="M151 386.8h0M192.5 386.2h0M184.3 386.6h0M149.1 384.8h0M212.4 385.6h0M210.9 385.9h0M167.1 385h0M167.8 384.7h0M222.1 384.9h0M133.9 385.9h0M216.3 385.3h0M176.7 385.6h0M156.4 385.3h0M131.5 385.7h0M157.3 387h0M156.8 387.2h0M262.4 386h0M193.5 385.3h0M89.7 384.7h0M157.2 384.7h0M171.8 384.8h0M220 387.2h0M169.1 385.7h0M132.1 384.7h0M150.2 386.9h0M134.6 385.5h0M151.1 385.3h0M205.3 385.1h0M194.9 385.2h0M143.1 386h0M122.4 385.3h0M188.8 387h0M175.5 385.7h0M203.3 385.5h0M162.9 384.8h0M165.8 385.3h0M184.9 386.7h0M199.6 384.7h0M163.4 387h0M184.5 386.1h0M197.1 387.3h0M190.6 387h0M168.7 385.4h0M234.5 385.9h0M183.4 384.8h0M164.2 386.1h0M203.3 384.9h0M162.3 385.9h0M130.2 386.2h0M122 385.4h0M213.6 386.2h0M91.9 387h0M185.1 386.2h0M172.8 385.7h0M257.9 385.2h0M159.1 386.6h0M210.6 387.2h0M194.8 386.4h0M125.5 387.1h0M244.5 385.9h0M163.5 386.7h0M144 385h0M187.9 385.4h0M177 384.9h0M197.3 386.9h0M168.5 385.5h0M203.7 386h0M125.1 384.7h0M133.2 386.8h0M181.6 386h0M144.9 385.6h0M177.3 385.8h0M141.1 384.8h0M248.6 384.8h0M186.9 386.7h0M230 385h0M154 385.7h0M149.4 385.1h0M184.1 384.8h0M190 385.6h0M163.1 384.8h0M216.3 385h0M191 384.9h0M136.1 385.8h0M154.6 384.6h0M178.4 385.9h0M184.9 386.9h0M223.2 384.8h0M149.2 385.5h0M131.6 385.1h0M187.4 384.9h0M215.4 386h0M127.8 385.8h0M140.9 384.7h0M122.9 385.6h0M162.1 387.3h0M173.1 385.2h0M189.7 386.7h0M197.8 386h0M155 386.6h0M203.6 385h0M115.1 384.7h0M202.4 385.5h0M133.4 387.3h0M212.8 384.8h0M234.5 387h0M173.9 386.7h0M114.4 386.2h0M160.9 385h0M178.3 385.4h0M177.2 384.8h0M196.2 385.9h0M192.9 385.2h0M229.3 387.2h0M197.2 387.1h0M174.1 386.4h0M112.6 386.1h0M165 384.8h0M115 386.1h0M120.1 386.4h0M236.7 386.7h0M212.5 385.6h0M172.9 385.2h0M192.5 386.2h0M225.9 385h0M143.4 386.8h0M192.6 387.1h0M177.6 385.2h0M176.6 386.9h0M144.5 386.6h0M196.4 385h0M211.8 384.9h0M177.9 384.9h0M159.2 387.1h0M169.7 386.6h0M157.3 386.3h0M259.8 384.9h0M205.4 385.3h0M179.6 386.6h0M227.3 386.2h0M228.8 386.4h0M182.4 386.9h0M196.1 386.6h0M200.8 384.8h0M221.6 386.5h0M238.9 384.8h0M158.1 387h0M184.7 386h0M183.7 386.6h0M181.3 386.6h0M120.5 386.3h0M230.2 385.6h0M212.6 384.7h0M167.1 387.2h0M253.6 386.3h0M147.2 386.2h0M250.2 384.7h0M155.3 387.3h0M175.1 387.1h0M178.4 385.7h0M210.6 385.7h0M131.4 385.8h0M220.6 385.1h0M129.2 385.6h0M179.4 386.2h0M213.8 387.1h0M184.7 385.2h0M174.2 384.8h0M125.2 386.2h0M153.1 385.5h0M177 385.9h0M141.2 385.2h0M208.3 386.8h0M96.3 385h0M180.7 387h0M170.3 387.1h0M189 385.4h0M177.6 385.3h0M206.2 385.8h0M198.4 386.8h0M232.5 386.9h0M227.4 386.5h0M221.2 385.5h0M157.8 385.4h0M255.2 385.1h0M130.9 387.2h0M168.2 385.1h0M219 386.3h0M227.6 385.8h0M185.5 386.3h0M178.9 387.2h0M213.4 385.4h0M115.5 385.4h0M230.9 385.1h0M157.6 385h0M163.4 385.1h0M212.2 385.1h0M262.5 387.1h0M131.2 385.6h0M128.1 386.4h0M224.6 385.3h0M204 384.9h0M136.4 385.4h0M156.9 385.1h0M168.9 385.2h0M195.3 386h0M207.4 384.9h0M244.8 384.8h0M203.4 387.1h0M153.8 386.5h0M207.1 386.5h0M161.5 386.1h0M204.5 385.9h0M242 385.8h0M170.6 385.9h0M182.7 385.8h0M163.2 385.1h0M180.6 387.1h0M124.2 384.7h0M160.5 386.1h0M193.9 386.5h0M127.6 387.2h0M94.5 386.5h0M147.1 385h0M104.6 386.5h0M182.3 386.1h0M220.5 387h0M82.2 385.9h0M155.4 386.7h0M171.4 384.8h0M208.2 384.9h0M120.4 385.3h0M140.5 385.5h0M169.8 385.8h0M224.3 385h0M226.3 386.9h0M191.3 385.3h0M194.6 387.3h0M252.4 385.2h0M185.5 386.9h0M245.7 384.8h0M171 386.6h0M146.4 386.5h0M162.4 386h0M174.8 386.6h0M152.4 386.3h0M197.1 385.3h0M134.1 385.2h0M154.9 386.5h0M193.5 385.7h0M232 384.7h0M189.4 386.2h0M182.9 386.6h0M169.7 385.3h0M182.2 385.5h0M248.5 384.8h0M190.9 386h0M199.3 385.6h0M189.6 384.9h0M190.2 386.3h0M194.1 384.7h0M139.5 385.1h0M153.5 385.7h0M184.5 386.1h0M199.3 387h0M104.3 386.3h0M147 385.5h0M237.1 385.4h0M157.2 385.3h0M184.6 385.7h0M239.6 385.2h0M152.7 385.2h0M213.4 386h0M118.2 385.2h0M166.4 386.3h0M178.5 384.9h0M229.6 387.2h0M185.7 386.8h0M159.9 386.6h0M168.9 384.9h0M190.9 385.1h0M227.6 384.9h0M193.3 385.3h0M107.1 386.6h0M177.5 387.3h0M118.8 385.8h0M191.2 385.7h0M236.5 385.6h0M147 386.6h0M182.9 385.9h0M136 386.9h0M114.5 385.6h0M185.5 387.2h0M199.4 385.8h0M186.7 385.2h0M167.5 384.6h0M133.4 386.2h0M154.5 385.3h0M197.3 385.1h0M113.3 387.1h0M201.9 384.7h0M171.6 386.7h0M247.3 384.7h0M186.3 385.7h0M218.2 385.7h0M190.8 385.7h0M156.8 384.9h0M222.7 385.7h0M205.5 386.3h0M139.4 385.9h0M170 386.4h0M212.8 385.9h0M193.8 385.9h0M185 386h0M195.4 385h0M184.9 386.8h0M189.4 384.8h0M187.4 386.4h0M149.4 385.8h0M213.9 384.8h0M199 387h0M201.3 387.2h0M193.6 385.9h0M192.8 387.1h0M134.5 386.5h0M188.6 387h0M206.5 386.3h0M226.5 386.2h0M187.1 386.6h0M197.8 386.7h0M195.2 385.5h0M182.2 385.1h0M165.9 385.6h0M188.8 385.4h0M185.9 385.4h0M249.9 386h0M196.6 386.2h0M193 386.5h0M183.9 387.2h0M215.3 386.3h0M102 387.1h0M207 385.7h0M259.4 385.2h0M191.6 387.3h0M222.9 387.1h0M175.2 385.9h0M206.2 385.9h0M168.9 386.6h0M189.6 385.5h0M151.8 386.3h0M189.5 386h0M214.6 384.7h0M247.7 384.8h0M202.2 386.6h0M205.1 385h0M180.8 386.5h0M164.7 386.8h0M181.3 385.9h0M168.8 387.1h0M192.3 385.6h0M172.2 386.6h0M184.7 385.8h0M188.6 386.8h0M187.9 386.9h0M179 385h0M166.9 386.4h0M155.5 386.2h0M216.7 385.9h0M131.7 386.2h0M204.9 385h0M203.8 386.8h0M132.4 386.2h0M184.9 385.3h0M231.1 385.8h0M179.7 387h0M163.3 387.1h0M114.4 385.8h0M184.2 386.3h0M230.3 386.4h0M178.2 385.2h0M154 386h0M180.2 386.9h0M174 385.8h0M167.3 385.3h0M217.5 386h0M161 387h0M158.2 386.3h0M209.1 386.1h0M218.8 386.4h0M153.8 384.9h0M183.7 386.8h0M198.3 386.1h0M180.6 386.9h0M247.3 384.8h0M184.1 385.1h0M253.9 385.4h0M186.9 385.1h0M198.6 386.5h0M206.7 384.7h0M139.8 386h0M179.8 385.7h0M167.8 386.4h0M198.7 385.3h0M142.1 385.6h0M155.7 385.7h0M175.3 387.1h0M183.9 386.1h0M161.9 387h0M168.6 385.7h0M157.9 385.6h0M156.4 387h0M154.2 385.9h0M187.9 387.2h0M143.3 386.7h0M134 385.2h0M189 386h0M132.8 384.8h0M170.1 386.9h0M199.7 386.7h0M287.1 384.8h0M159 384.9h0M118.3 385.2h0M206.7 386.3h0M212.4 385.5h0M142.5 385h0M181 387h0M193 387.2h0M192.1 387.1h0M177.8 385.8h0M165.1 386.4h0M146.8 384.9h0M193.6 385.1h0M181.3 385.2h0M226 385h0M166 385.3h0M169.1 385.4h0M188.8 387.2h0M208.4 385.6h0M194.4 387.2h0M232.1 386.1h0M175 386h0M169 384.8h0M162.5 386.2h0M218.1 386.8h0M188 386.1h0M173.6 386.2h0M136.7 386.2h0M186.3 386.4h0M193 385.9h0M184.7 387.3h0M161.9 384.6h0M149.5 385.5h0M198.1 386.6h0M160.4 386h0M274.2 385.1h0M156.5 386.5h0M172.4 386h0M133.8 386.6h0M215.8 386h0M210.5 385.9h0M121.2 386.6h0M183.8 387.2h0M214.6 385.9h0M135.6 385.8h0M149.6 385.6h0M180.1 386.2h0M170.5 385h0M166.1 384.8h0M157.5 386.1h0M157.8 386h0M218.1 387.1h0M130.5 386.2h0M165.7 387.2h0M191.3 386h0M207.3 385.9h0M152.5 384.7h0M197.7 385.3h0M167.1 385.4h0M171.7 385h0M181.3 385.4h0M189.1 385.6h0M165.2 385.2h0M162 387.1h0M149.7 386.5h0M180.6 386.6h0M267.3 386.4h0M156.4 386.4h0M134.4 385.3h0M193.8 384.8h0M184.3 386.8h0M151.3 384.9h0M191.9 385.1h0M193.5 384.6h0M193.8 386.1h0M206.8 385.4h0M241.5 384.9h0M161.3 384.7h0M206.6 384.8h0M165.4 385.3h0M180.7 384.7h0M178.7 385.4h0M173.7 384.8h0M128.7 386.8h0M190.8 385.8h0M179.7 386h0M169.6 386.4h0M204.3 386.3h0M203.6 387.1h0M220.6 386.3h0M159.9 387.3h0M115.5 386.6h0M176.1 387h0M162.8 387.3h0M234.8 385.9h0M156.7 385.9h0M186.1 385.4h0M161.5 385.6h0M133.4 384.9h0M202.2 387.2h0M152.3 385.5h0M218.7 385.9h0M153.7 386.4h0M181.7 386.7h0M151.8 384.6h0M162.2 384.8h0M183.4 385.1h0M179.4 385.9h0M203.1 386.4h0M195.4 386.4h0M293.5 385.8h0M179.3 387h0M178.9 386.1h0M110.3 387.2h0M190.2 386.4h0M140.6 386.5h0M224.1 386.5h0M172.9 386.3h0M115.1 386h0M158.3 385.3h0M218.6 385.7h0M206.9 385.5h0M175.9 386.3h0M201.5 386h0M190.6 386h0M163.8 384.9h0M127.6 386h0M161 386.3h0M217 386.3h0M161.2 386.9h0M183 385.6h0M190.2 385.4h0M186.6 385.3h0M186.6 385.9h0M157.8 387.3h0M207.2 385.2h0M197.6 387.3h0M257.7 384.9h0M265.2 384.9h0M189.1 386.1h0M187 386.5h0M142.8 387.3h0M210.2 385.1h0M172.7 384.7h0M225.7 385.1h0M91.5 384.9h0M155.9 387.1h0M191.9 386.9h0M151.2 386.1h0M243.7 386.6h0M155.5 386.7h0M201.8 386.5h0M175.6 387.1h0M226.8 386.3h0M186.5 385.5h0M160.2 385h0M157.8 387h0M208.6 386.3h0M202.5 387.2h0M236.1 384.9h0M194.3 385.4h0M201.6 387.2h0M248.1 386.5h0M192 387.1h0M178.5 386.3h0M212.6 386.1h0M182.4 384.9h0M171.9 385.3h0M167.8 386.5h0M197.9 386.1h0M115.5 386.8h0M186.5 384.7h0M119.8 385.8h0M133.5 386.5h0M201.9 385.3h0M243.3 386.8h0M226.3 385.3h0M174 386.4h0M172.7 385.5h0M188.2 385.6h0M172.9 385.9h0M241.8 387.3h0M188.7 385.5h0M150.7 385.3h0M163.9 384.9h0M175.6 385.8h0M151.9 385.7h0M211.3 385h0M163.8 387.2h0M162.9 384.8h0M145.3 386.4h0M165.3 386.8h0M155.1 386.3h0M186.7 385.2h0M176.5 386.1h0M159.3 385.5h0M223.9 386.6h0M190.6 385h0M183.7 387.2h0M230.6 385.6h0M266.7 384.7h0M188.4 386.9h0M183.3 384.7h0M138.9 385.3h0M187.7 384.7h0M157.7 387.2h0M187.3 386.1h0M142.9 385.2h0M216 385h0M210.7 385.1h0M176.3 387.2h0M162.7 384.8h0M147.8 384.9h0M175.2 387.3h0M187.5 385.1h0M199.9 385.2h0M202.3 387.1h0M221.1 385.6h0M208.4 386.4h0M171.1 386.5h0M224.3 386.3h0M249.8 386.8h0M194.6 385h0M132.7 386h0M99.4 385.5h0M193.3 385.1h0M180.8 386.4h0M188.6 386.9h0M161.4 385.4h0M213.8 386h0M258.4 385.7h0M179.1 386.3h0M181.2 386.8h0M102.7 385h0M202.4 386.9h0M185.1 387.1h0M151.4 385.2h0M193.3 386.8h0M196.1 384.6h0M196.3 385.3h0M225 385.6h0M186.5 385.5h0M183.4 386.8h0M155.7 386.8h0M121.8 385.1h0M221 384.9h0M121 385.5h0M255 384.9h0M111.6 385.8h0M167.8 386.7h0M112.3 385h0M187.5 386h0M163 386.2h0M202.9 384.8h0M168.9 386.2h0M170.9 386.1h0M192.6 385.5h0M219.1 385.8h0M144.2 386.8h0M178.2 386.5h0M128.6 385.5h0M191.6 386.1h0M142.8 384.9h0M183.1 386.6h0M101.6 384.9h0M222.6 386.2h0M157.8 385.1h0M156 386.1h0M150.6 384.9h0M171.4 386.4h0M196.6 386.7h0M179 387h0M162.7 385.2h0M198.7 385.1h0M108.1 385.8h0M142.5 385.3h0M157.3 386.8h0M185.6 385.2h0M116.2 384.7h0M167.4 386.5h0M158.2 385.2h0M151.6 386.4h0M149.6 385.6h0M215.8 385h0M162.5 385.7h0M132.9 386.7h0M177.5 385.2h0M170.6 384.9h0M168.2 386.7h0M207.8 386.9h0M153.6 385.6h0M151.6 386.2h0M164.8 386.8h0M209.6 386.8h0M195.1 385.4h0M193.1 385h0M189.6 385.8h0M133.4 386.4h0M167.1 386.4h0M125.3 387.1h0M191 386.2h0M151.5 387.2h0M111.2 385.7h0M155.3 385.2h0M236.9 386.6h0M151.7 385.9h0M194.8 385.2h0M156.9 384.9h0M214.1 386.4h0M198.8 386.2h0M193 386.3h0M189.7 387.1h0M154.6 386.2h0M180.4 384.7h0M190.1 386.2h0M248.7 387.2h0M214.7 386.9h0M159.7 386.5h0M151.8 387h0M164.7 386.2h0M208 385.1h0M224.2 384.9h0M209.8 386.4h0M150.9 387h0M242.6 387h0M158.8 387.2h0M152.1 385.2h0M175.9 386.5h0M95 386.1h0M195.4 386.6h0M134 386.7h0M187.7 385.7h0M172 385.9h0M206.2 385.1h0M137.8 384.9h0M95.6 385.3h0M177.9 384.8h0M245.1 386.8h0M192.7 385.3h0M166.5 386.5h0" stroke="#3943a0" stroke-width="2.4" stroke-linecap="round"/>
<path d="M195.8 383h0M182.7 384.2h0M174.7 384h0M162.8 382.7h0M188.9 383.3h0M187.8 384.5h0M166.9 384.1h0M189.8 383.6h0M169.5 383.1h0M192.7 383.6h0M119.7 382h0M171.4 383.3h0M157.2 382.9h0M194.3 382.4h0M165 383.5h0M162.3 382.3h0M186.9 383.9h0M186.3 382.2h0M161.8 384.3h0M167.6 381.9h0M176 384.5h0M193.9 382.8h0M225.2 382.2h0M166.2 382.2h0M133.4 382.8h0M172.4 383.5h0M182.4 384.5h0M198 383.1h0M166.3 384.2h0M60.1 383.2h0M102.1 382.1h0M86.5 382.9h0M174.8 383.1h0M158.4 382.1h0M169.8 382.6h0M158.8 382.1h0M161.5 382.3h0M193.9 384h0M266.5 383.7h0M161.9 384.4h0M222.8 383.2h0M197.7 383.1h0M163.8 383.2h0M162.8 382.9h0M158.3 383.6h0M194.1 382.7h0M175.1 383.1h0M182.5 382.1h0M132.9 383.4h0M218.6 383.9h0M163.3 383.6h0M277 382.8h0M161.1 384.2h0M119 384.1h0M151.5 384.1h0M199.1 384h0M202.4 382.6h0M137 384.4h0M218.6 383h0M195.3 382.6h0M223.6 382h0M203.3 384.5h0M236.5 383.4h0M165 382.5h0M133 383.6h0M179.6 383.2h0M206.4 384.1h0M196.8 384.3h0M203.3 382.9h0M165 383.5h0M223.9 382.6h0M177.6 383h0M174.2 382.9h0M168.7 382.2h0M179.7 382.2h0M199.5 384.3h0M180.1 383.5h0M192.3 383.8h0M87.8 384.4h0M263.3 382.4h0M235.5 382.9h0M167.9 383.5h0M230.7 384.2h0M257.6 383.6h0M201.5 382.9h0M225.9 382.9h0M178.9 382.1h0M191.8 383.1h0M226.5 384h0M135.9 383.9h0M174.3 383h0M216.7 383.5h0M215.8 382.4h0M140 382.3h0M219.3 383.9h0M177.7 384.2h0M185.7 384.3h0M154 383.2h0M148.7 382.5h0M156.6 383h0M221.9 383.3h0M208.7 383.7h0M112.1 382.5h0M165.7 384.5h0M150.2 383.9h0M133.1 383.5h0M186.7 383.5h0M208.7 384.1h0M190.9 383.7h0M220.4 383.6h0M227.7 383.2h0M265.4 382.2h0M211.5 384.4h0M189.3 382.2h0M94.8 384.2h0M180.9 383.9h0M170.7 382.3h0M177.7 384.1h0M135.9 384.2h0M186.6 383.7h0M192.5 384h0M192.9 381.9h0M288.9 383.2h0M151.8 383.1h0M99.9 382.1h0M138.7 384h0M200.8 382h0M156.2 384.4h0M156.5 382.1h0M135 383.8h0M172.9 383h0M175.8 383.8h0M209.2 383.8h0M198.8 384.2h0M201.3 384.3h0M208.5 384.2h0M171.3 384.2h0M146.2 382.6h0M168.2 383.5h0M172.1 384h0M77.9 383.7h0M176.2 384.5h0M191.5 382.5h0M172.3 383.7h0M153.3 382.6h0M178.7 384.3h0M161.8 384.1h0M200.9 383.6h0M240.7 383.7h0M192 384.3h0M164.5 382.6h0M168.2 384.6h0M158.7 384.5h0M119.3 382.5h0M194.4 382.6h0M103.6 384h0M160.1 383.3h0M208.9 381.9h0M194 382.8h0M155.6 382.2h0M188.5 384.2h0M196.6 383.4h0M172.9 381.9h0M95.1 382.5h0M176.7 382.2h0M217 384h0M177.9 382.7h0M187.6 384.5h0M216.8 384.5h0M148.5 382.2h0M172.2 384.5h0M174.5 384.3h0M121.4 384.6h0M272.8 382.4h0M127.6 383.9h0M177.3 384.5h0M217.7 382.1h0M173.2 383.9h0M86.7 383.2h0M128.6 384.1h0M199.4 383.4h0M199.2 383h0M227.1 382.8h0M146.7 384.5h0M243.7 382.2h0M207 382.7h0M177.2 383.1h0M224.2 383.6h0M186.5 382h0M254.6 383.2h0M146.6 382h0M197.3 383.2h0M195.9 382.7h0M71.8 382.7h0M156.6 384h0M169.4 382.1h0M215.2 383.7h0M174.8 382.1h0M171.3 382.6h0M256.2 382.1h0M188.4 382.3h0M100.9 382.5h0M156.7 384.6h0M191 382.6h0M107.7 383h0M283.7 382h0M168.4 383.3h0M201.7 382.9h0M86 384.1h0M164.2 382.5h0M154.9 382.5h0M175 384h0M172.5 384.5h0M143.3 383.2h0M147 383.4h0M131.1 382.6h0M162.5 384.5h0M179 383.7h0M114.9 383.6h0M176 382.3h0M150.6 384.6h0M160.6 383.9h0M109.2 384.5h0M53.5 382.3h0M207.2 382.9h0M148.1 383.6h0M160.8 383.7h0M137 382.6h0M149.2 384.4h0M189 383.7h0M195.8 382.4h0M137.6 382.9h0M220.6 383.5h0M206.2 384.3h0M159.7 383.7h0M217.9 383.2h0M160.1 382.8h0M176.4 383.4h0M180.5 382h0M173 382.2h0M138.6 383.3h0M138.3 384.3h0M211.8 382.6h0M191.5 383.5h0M172.2 383.4h0M161.1 382.3h0M185.8 384h0M203.3 384.2h0M217.2 384h0M192.6 382.4h0M206.6 384.5h0M160.6 384.2h0M152.6 383h0M142.8 383.3h0M206.9 383.6h0M161.8 384.1h0M183.5 383.1h0M216.3 382.7h0M177.3 384.4h0M149.5 384.3h0M197.1 384.4h0M215.8 384.3h0M208.2 383.4h0M275.1 384h0M278.4 383.3h0M118.6 383.6h0M203.5 383.5h0M186.3 382.5h0M136.7 383.9h0M134.6 382.2h0M186.3 382.1h0M135.1 384h0M125 384.5h0M194.8 382.1h0M178.9 382.3h0M110.1 382h0M173.1 382.9h0M196.1 384.4h0M154.8 382.4h0M154.6 384.2h0M163.2 382.3h0M109 382.9h0M119.5 382.3h0M158.8 384.5h0M145.5 382.7h0M156.9 382.3h0M127.8 383.8h0M216.1 383.3h0M165.2 382.8h0M204.7 383.2h0M192.8 382.3h0M149.7 382.7h0M168.4 382.4h0M132.9 382h0M223.2 382.9h0M155.8 384.2h0M178.9 383.1h0M149 382.8h0M166.6 382.5h0M265.8 384h0M152.6 382.2h0M151.9 383h0M170.3 383.6h0M161.5 384.4h0M130.8 382.5h0M171.7 383.6h0M191.1 382.5h0M164.7 384.3h0M177.4 382.1h0M219.7 383.5h0M162.9 383.5h0M187.1 382.2h0M177.6 382h0M189.4 384.4h0M141.8 383.4h0M169.4 384.5h0M181.8 382.4h0M289.7 382.5h0M214 384.4h0M197.1 382.1h0M225.1 384.1h0M206.6 383.1h0M204.9 383.1h0M186.3 382.4h0M177.7 383.1h0M231.3 384.1h0M213.2 382.4h0M88.8 384h0M191.4 382.8h0M164.8 382.3h0M178.8 381.9h0M155.8 382.3h0M185.1 382.6h0M118 382.3h0M247.2 384.6h0M167.3 383.2h0M184.4 384.6h0M116.8 382.3h0M202.2 383.3h0M163.7 383.2h0M151.2 384h0M205.1 382.4h0M234.9 382.9h0M123.8 382.7h0M205.2 382.1h0M174 383h0M171.6 383.6h0M157.7 382.5h0M225.1 382.7h0M258.4 383.6h0M171.1 382.2h0M148.1 384.5h0M208.9 384.1h0M290.9 383.7h0M244.8 382.3h0M138.6 384.5h0M132.7 382.6h0M170.9 382.1h0M139.4 383.5h0M91.1 383.9h0M198.4 382.1h0M173.1 381.9h0M162.8 383.2h0M148.8 381.9h0M180.3 382.4h0M184.3 383.5h0M177.2 383.5h0M194.9 383.2h0M169 383.3h0M195.7 384h0M134.4 383h0M276.4 383h0M194 382.4h0M213.9 382.8h0M171.9 382.7h0M185.4 383.4h0M141.4 384h0M151.8 382.9h0M78.5 384.4h0M110.9 382.9h0M159.5 382.9h0M190.1 383.6h0M187.8 382h0M155 383.3h0M169.9 383.5h0M185 384.4h0M172.8 383h0M199.9 382.5h0M141.4 383.9h0M166.4 382.9h0M178 382.4h0M150.9 384.2h0M208.5 384.4h0M188.2 382.8h0M222.3 382h0M86.1 382.8h0M179.3 382.2h0M168 383.9h0M171.9 382.4h0M190.8 382.3h0M180.1 384.2h0M150.2 384.5h0M174.8 384.3h0M165.3 382h0M216.7 383.1h0M206.9 384h0M242.7 382.3h0M214.8 384h0M183.8 383.6h0M237 384.1h0M234.5 383.3h0M249.7 382.2h0M197.5 383.4h0M149.7 383.5h0M152.1 384.4h0M182.9 382.8h0M179.1 382.9h0M179.4 383.5h0M149.7 383.6h0M104 384.5h0M218.8 382.7h0M165 383.7h0M179.2 382.2h0M193.7 383.5h0M183.9 382.3h0M246.2 383.4h0M207.8 383.6h0M276.7 383.2h0M170.3 382.5h0M158 384.1h0M150.8 383.6h0M124.4 382.3h0M199.7 384h0M189.9 382.5h0M149.3 383.6h0M173.8 384.5h0M210.1 384.1h0M150.6 383.9h0M201 384h0M174.2 382.3h0M158.4 382.8h0M227.9 383.6h0M180.9 382.9h0M232.2 382.7h0M207.4 382.5h0M186.1 384.4h0M184 383.4h0M190.8 383.4h0M173 383.5h0M174.3 384.1h0M270.2 383.6h0M163.6 382.2h0M237.2 383.7h0M194.8 383.2h0M245.6 382.8h0M167.4 382.9h0M92.3 382.3h0M157.6 382.7h0M151.8 384.5h0M131.1 383.1h0M214 383.8h0M190.4 382.4h0M174.7 383.9h0M181.8 384.3h0M128.2 384.4h0M156.9 384.1h0M152 384.5h0M151.5 382.1h0M305.7 382.1h0M166.7 384.3h0M163.1 384.5h0M244.2 382.8h0M108.5 384.6h0M189 382.6h0M212.5 381.9h0M232.9 384.6h0M187.3 383.1h0M178.6 382.9h0M201.4 382.9h0M193.4 382.2h0M171.4 382.8h0M197 383.2h0M175.4 384h0M173.8 384.3h0M127.6 384h0M155.5 383h0M177.7 383.3h0M153.9 382.1h0M220.9 382.9h0M223.3 382h0M247.1 384.4h0M184.2 383.2h0M222.2 384.2h0M200 383.5h0M159.9 382.4h0M162.4 382.3h0M258.6 382.1h0M235 382.9h0M115.9 384.4h0M156.6 382.6h0M163.4 382.9h0M157.8 383.6h0M150 384.3h0M234.5 384.2h0M172.3 382.2h0M187.7 382.1h0M219.2 384.4h0M202.3 383h0M195.9 382.2h0M219 383.1h0M190.9 383.2h0M180.9 383.1h0M122.8 382.4h0M185.8 384h0M158.2 383.8h0M169.6 382.5h0M120.6 383.4h0M144 382.4h0M158.8 383.9h0M229.4 384.4h0M175.4 384h0M186.8 382.8h0M230.9 383.2h0M175.2 384.2h0M132.7 383.8h0M173.2 383.4h0M168.1 382.1h0M190.7 382.6h0M134 383.8h0M120.8 382.2h0M141.8 384.2h0M197.1 382.9h0M166.2 383.8h0M275.3 383h0M201.8 383.8h0M191.4 383.5h0M228.4 382.2h0M196.5 382.5h0M196.2 383.1h0M166.8 383.6h0M136.8 382.2h0M177.2 383.8h0M118.7 382.9h0M214.5 384h0M192.9 382.5h0M153.2 384.5h0M182 383.2h0M192.8 382.8h0M133.9 383.9h0M170.5 383h0M125.3 384h0M205.6 384.1h0M198.5 382.7h0M175.1 384.5h0M184.8 383h0M246.8 383h0M185.4 384.3h0M197.3 382h0M179.7 384.3h0M236.7 383.1h0M134.3 381.9h0M180.6 382.6h0M164.6 384.3h0M187.9 384.6h0M224.7 382.8h0M140.4 383.5h0M169.6 382.5h0M179.5 383.9h0M141.8 382.3h0M212.7 383.9h0M153.4 384.1h0M156.2 383.9h0M162.4 383.5h0M139.6 383h0M167.2 383.6h0M230.1 382.8h0M271.3 383.4h0M152.8 382.1h0M155 383.9h0M137.5 383.3h0M176.2 383.9h0M168.6 383.7h0M224.1 382.4h0M112.4 382.8h0M166.9 381.9h0M162.8 382.9h0M154 383.4h0M171.6 383.5h0M193.2 383.3h0M217.7 384.4h0M224.9 384.1h0M190.8 383h0M168.9 384.5h0M189.3 384.1h0M182.5 383h0M183.6 384.1h0M129.3 382.7h0M185.1 383.1h0M209.8 382.5h0M157.2 384.2h0M227.9 382.5h0M173.3 383.2h0M141.2 383.9h0M162.2 382.1h0M167.4 383h0M163.7 382.8h0M160.4 383.6h0M186.7 384.6h0M153.1 383.2h0M131.3 384h0M160.9 383.6h0M176.6 382.3h0M176.7 384.6h0M161.6 384.5h0M152.8 384.2h0M140.1 382h0M198.6 382.8h0M146.4 382.1h0M152.1 382.4h0M166.7 381.9h0M153.9 384.5h0M146.6 383.2h0M217.9 384.4h0M174.2 382.3h0M130.4 382.4h0M186.7 383h0M210.2 384.3h0M155 383.9h0M166.8 382.4h0M170.7 383.8h0M117.1 383.8h0M153.9 384.5h0M242.2 384.4h0M211.6 382.6h0M162.3 382.1h0M138.9 382.3h0M209 382.4h0M183 382.1h0M187.1 383.5h0M159.8 382.8h0M185.6 384.2h0M162 383.6h0M127.3 382.7h0M219.3 382.9h0M184 384.4h0M187 384.4h0M147.4 383.2h0M204.6 383.2h0M205.2 383.8h0M130.8 382.8h0M242.2 384h0M178.8 383.6h0M153.4 382.6h0M75.2 384.1h0M181.6 383.9h0M160.7 384.3h0M161.4 383.3h0M157.1 383.7h0M160.2 382.1h0M185.8 384.1h0M114 382.2h0M194.8 382.8h0M210.1 383.7h0M157 382.6h0M226.3 383.9h0M152.7 383.6h0M194.6 384.4h0M158.2 382.4h0M138.6 382.4h0M179.8 382.8h0M178.7 383.4h0M160.5 383.9h0M216.5 383.8h0M229.6 383.3h0M146.6 382.3h0M172.2 384h0M176.8 383.6h0M188 382.2h0M195.5 383.5h0M177.2 383.3h0M178.2 384.4h0M122.9 383.9h0M184.6 383.9h0M237.3 383.1h0M186.7 384h0M125.8 382.9h0M220.7 382.7h0M184.1 382h0M151.7 383.2h0M172.9 382.7h0M144.8 382.5h0M163.7 383.5h0M190.7 384.1h0M132.8 383.7h0M199.5 383.2h0M118.4 382h0M185.7 383.7h0M185.6 382.4h0M190.1 384.2h0M209.3 383.8h0M212.4 383.8h0M206.6 383.2h0" stroke="#3b49a6" stroke-width="2.4" stroke-linecap="round"/>
<path d="M121.8 380.8h0M161.8 381.2h0M184.9 381.1h0M83.4 379.8h0M124.8 381.9h0M183 381.1h0M209.8 381.7h0M225.1 380.8h0M194.5 380.8h0M190 381h0M178.6 381.8h0M222.4 381.8h0M183.7 381.7h0M189.8 381.8h0M202 379.6h0M120.5 379.4h0M131.4 380.8h0M179.3 379.7h0M153.8 379.7h0M126.1 380.4h0M217.5 379.9h0M186.8 380.5h0M173.3 380.1h0M232.1 380.8h0M166.5 381.8h0M187.8 381.7h0M215.9 381.7h0M166.8 380.2h0M226 379.4h0M226.8 381h0M209.8 380.9h0M241.3 380.9h0M138.7 381h0M257.3 380.6h0M148.1 380h0M159.8 380.9h0M230.8 381.5h0M195 381.6h0M139.3 380.4h0M181.9 381.5h0M231.9 379.7h0M292.5 381.1h0M129.4 381.8h0M185.5 381.7h0M210.9 381.6h0M280.3 379.7h0M186.1 379.9h0M199.6 380h0M161.9 380.7h0M159.8 379.9h0M173 381.7h0M132.5 379.5h0M248.8 381.6h0M160.1 381.6h0M124.1 379.4h0M128.9 380.1h0M193.5 381.2h0M184.1 381.8h0M208.4 379.9h0M193.2 380.4h0M155.8 379.8h0M67.7 381.6h0M150.3 379.4h0M167.9 380.1h0M177.5 381h0M181.4 379.9h0M198.3 380h0M143.9 381.8h0M187.5 381.5h0M170 380.8h0M217.3 381.8h0M213.6 380.9h0M132.4 379.6h0M185.8 380.5h0M214.3 381.9h0M81.1 380.6h0M247.9 380.2h0M146.1 380h0M189.3 380.4h0M176.5 380h0M176.6 380.3h0M216.7 379.3h0M162.8 379.5h0M138.7 381.3h0M181.7 380.4h0M183.3 381.2h0M199.5 381h0M190.5 380.1h0M109.2 379.8h0M160 379.8h0M213.7 380.6h0M151.7 379.3h0M187 381.1h0M149.8 380h0M149 379.7h0M158 380.5h0M274.2 379.7h0M209.8 380.9h0M253.7 381h0M150.1 380.8h0M144.1 381.1h0M293.8 381.5h0M149.1 380.5h0M146.8 379.9h0M177.4 380.1h0M163.3 380.9h0M175.5 381.8h0M183.8 380.3h0M177.8 381.5h0M162.4 379.9h0M205.8 380.4h0M206.7 380.3h0M178 379.4h0M176.4 379.3h0M126.3 381.9h0M305.5 381h0M172.6 379.5h0M169.9 380.1h0M175 379.7h0M150.1 381.5h0M184.8 380.5h0M150.6 380.1h0M228.3 380.1h0M188.4 379.4h0M166.1 380.1h0M154.5 380.9h0M219.3 381.2h0M293.7 381.8h0M170.3 379.3h0M146.2 379.4h0M225.6 381.3h0M188.2 380h0M173.9 381.5h0M212.2 381.6h0M200.1 379.3h0M154.4 379.8h0M179.9 381.3h0M208.5 380.2h0M163 381.2h0M115.2 379.6h0M164.4 380.4h0M152.1 381.3h0M154 381.6h0M266.4 380.1h0M197.2 381.4h0M217.2 379.7h0M188 380.9h0M256.4 381h0M199.8 380.5h0M160 380.4h0M153.4 380.3h0M178.9 379.9h0M199.1 380.4h0M195.7 379.2h0M192.6 380.1h0M169.2 380.2h0M172.4 380.7h0M178.2 380.8h0M169.2 381.1h0M224 380.7h0M165.9 380.8h0M158.4 381.1h0M140 380.9h0M203.5 379.4h0M190.1 380.9h0M221.9 379.6h0M166.4 380.7h0M187.4 380.6h0M183.3 380.5h0M92.3 380.6h0M168.9 379.4h0M130.1 381.8h0M152.2 381.2h0M247.5 381.4h0M206 381.2h0M164.4 379.8h0M224.9 380.4h0M176.5 380.6h0M167.7 379.8h0M161 380.5h0M170.1 381.8h0M186.6 379.5h0M124 381.3h0M164.2 381.3h0M173.9 379.3h0M159.7 379.7h0M180.1 381.6h0M160 379.6h0M145.6 380.1h0M215.2 380.4h0M140.7 381.5h0M204.5 379.7h0M190.8 381.4h0M197.9 380.1h0M124.8 380.9h0M199.3 379.8h0M161.9 380.8h0M159.3 381.8h0M276.1 380.5h0M137.8 381.1h0M209.5 380.2h0M183.4 380.3h0M196.8 379.8h0M56.3 379.5h0M194.7 381.8h0M187.2 381.1h0M169.5 381.1h0M167.8 380.9h0M168.2 379.7h0M218.8 381.8h0M150.2 381.1h0M184.7 380.3h0M171.9 380h0M204.6 381.8h0M209.8 380.6h0M153.2 381h0M152.3 380h0M114.4 381.1h0M150.8 380h0M191.1 381.8h0M76.4 380.2h0M199.5 380.6h0M170.6 381.7h0M115.9 380.3h0M167.7 380.6h0M163.3 381.9h0M180.1 380.1h0M195.9 379.9h0M149.6 380h0M302.8 381.8h0M177.6 381h0M163.5 380h0M228.4 380.3h0M149.9 379.5h0M145.2 380.6h0M195.6 380.2h0M194.4 381.7h0M221.7 381.5h0M145.7 379.3h0M127.3 381.2h0M199.5 380.6h0M157.3 380.3h0M154.4 381.8h0M151.5 380.5h0M228.6 380.2h0M178 379.6h0M155.3 381.9h0M174 379.4h0M177.9 380.9h0M274.9 381.8h0M122.3 379.7h0M164.7 381.5h0M167.8 381.7h0M184.2 379.4h0M192.8 380.6h0M185.4 380h0M155.1 380.1h0M221.8 380.4h0M201.5 379.4h0M195.1 380.1h0M184.9 380.8h0M167.3 380.7h0M159 379.3h0M219.5 381.6h0M166.9 380.7h0M164.6 380.8h0M209.5 380.8h0M132 379.4h0M179.6 380.6h0M208 379.7h0M188.2 380.4h0M195.6 379.3h0M172.2 379.5h0M161.2 380.1h0M200.5 381.3h0M165.6 381.2h0M135.6 380.7h0M146 380.2h0M214.5 380.9h0M178.8 379.5h0M162.7 381.3h0M208.3 381.6h0M205.8 379.2h0M220.1 379.7h0M173.1 379.3h0M183.9 381.8h0M154.5 380.8h0M269.8 379.6h0M169.1 380.9h0M160.6 379.4h0M196.7 380.6h0M184.9 379.8h0M234 380.1h0M194.8 380.3h0M152.2 381.8h0M197.1 380.6h0M156 381.7h0M189 380h0M162.9 379.8h0M208.7 379.9h0M177.4 380.6h0M179.2 381.8h0M140.1 379.3h0M208.1 380.5h0M181.5 381.9h0M174.3 379.5h0M182.9 379.4h0M226.7 380.3h0M128.1 381.8h0M190 380.9h0M175.3 381.4h0M225.8 379.9h0M170 381.3h0M186 379.2h0M170.4 380.1h0M219.9 381.1h0M238.4 381.4h0M169.4 381.3h0M155.5 379.6h0M155 379.6h0M163.3 381.5h0M175 380h0M124.7 381.8h0M190.2 381.3h0M273.4 380.8h0M142.5 380.5h0M157.4 381.8h0M165.4 380.5h0M158.2 380.7h0M189.9 381.7h0M210.6 379.9h0M235.2 380.5h0M169.6 381.7h0M158.1 381.1h0M161.2 379.9h0M161.9 381.5h0M181.5 379.4h0M180.1 381.7h0M193.9 380.1h0M184.1 381.1h0M225.3 379.5h0M179.8 379.9h0M175.9 379.6h0M123.4 380.3h0M209.4 380.8h0M221.1 380.2h0M213.5 380.5h0M222.8 381.8h0M199 381.9h0M151.5 379.2h0M164.5 379.3h0M227.3 379.8h0M234.6 381h0M123.7 380.4h0M120.3 379.4h0M283.3 381.6h0M160.8 379.4h0M159.9 381h0M177 380.7h0M204.4 381.4h0M54.3 379.3h0M215.5 381.2h0M164.5 381.8h0M185.9 380.9h0M178 381.9h0M166.8 379.9h0M251.7 381.9h0M285.9 380.8h0M211.6 379.6h0M181.1 379.7h0M144.8 381.5h0M189.9 379.8h0M263.3 380.6h0M162.5 380.8h0M168.4 380.8h0M169.2 380h0M190.2 381.9h0M236.2 381.8h0M144.6 380h0M260.7 381.9h0M183.3 380.6h0M137.5 380.5h0M161.1 379.4h0M152 380.9h0M204 381.2h0M199 381.2h0M137.5 381.5h0M179.7 379.6h0M147.5 380.4h0M164 381.4h0M254.1 381h0M159.9 381.9h0M157.3 380.1h0M193.4 379.8h0M230 380.4h0M183.1 381.1h0M234.9 381.3h0M223.4 380.1h0M199.6 381.7h0M166.3 380.7h0M138.3 379.8h0M153.5 380.4h0M215.1 381.5h0M178.9 380.2h0M174.7 379.5h0M143.6 380.4h0M209.3 379.5h0M209.7 380.1h0M211.3 381.3h0M186.6 379.5h0M155.2 380.2h0M173.7 379.5h0M166.5 380.7h0M190 379.6h0M238.8 379.8h0M146.7 380.6h0M145.9 380.1h0M215 379.5h0M178.4 380.2h0M184.8 380.1h0M287.1 380.9h0M176.5 381.5h0M154.8 381.7h0M156 381h0M215 381.5h0M170.3 380.6h0M215.6 380.3h0M194.8 381.9h0M176.2 379.5h0M173.4 381.2h0M196.8 381h0M160.1 379.8h0M168.7 380.7h0M173.4 380.3h0M189.2 381h0M126.5 379.4h0M175.4 381.4h0M155.6 381.5h0M188.9 381.7h0M193.6 380.7h0M115.1 379.2h0M181.9 381.4h0M192.3 381.6h0M142.2 381.9h0M177.3 380.8h0M194.6 381.6h0M200 381.5h0M197.2 381.8h0M199.2 380.7h0M182.1 380.2h0M200.2 380.3h0M170 380.5h0M263.6 381.4h0M175.8 379.3h0M308 380.3h0M156.1 381.5h0M144.6 381h0M157.7 380.4h0M193.7 380.3h0M191.7 381.5h0M209.9 379.5h0M184.2 379.5h0M207.3 380.1h0M178.4 381.3h0M173.5 381.6h0M190 380.1h0M178.5 381h0M186 379.2h0M248.8 379.2h0M187.5 380h0M199.7 379.7h0M143.8 381.5h0M71 379.5h0M230.4 381.8h0M114.1 379.5h0M143.3 380.4h0M192.2 379.9h0M182.1 380.3h0M192.9 381h0M163.1 379.4h0M149.6 381.7h0M196.8 379.4h0M162.2 380.2h0M201.6 381.9h0M119.5 381.5h0M246.4 380.2h0M193.7 380.2h0M187.1 380.5h0M197.7 381.6h0M210.1 380.8h0M192.6 380.3h0M213.4 381.8h0M124.3 381.4h0M156.6 381.8h0M185.7 380.9h0M188.7 380.8h0M195.9 380.7h0M182.2 381.8h0M225.2 381.7h0M186.9 381.2h0M226.3 381.4h0M184.3 380.4h0M144.3 380.3h0M190.1 379.3h0M193.9 379.7h0M201.4 379.3h0M125.4 381.1h0M160.7 381.4h0M230.3 379.7h0M197.4 380.6h0M211.7 381h0M148.4 380.4h0M193.9 381.2h0M197.2 381.8h0M209.1 381.8h0M227.4 381.7h0M184.5 380.2h0M174 380.1h0M194.5 381.6h0M214.1 380.6h0M225.1 381.6h0M165.2 381h0M141.3 380.5h0M197.3 380.2h0M175.9 379.2h0M258.2 381.5h0M119.5 380.8h0M182.6 380.2h0M180.8 381.3h0M281.6 379.7h0M139 381.5h0M163.6 381.8h0M171.3 381.3h0M167.6 380.5h0M185.2 379.4h0M196.7 381.5h0M245.6 380.7h0M205.5 381.3h0M87.6 381h0M138.7 380.5h0M195.7 380.4h0M193.3 379.4h0M125.1 380.5h0M161.8 381.3h0M157.1 379.8h0M151.2 379.5h0M160.4 380.3h0M175.6 379.8h0M94.7 381.5h0M140.5 381.6h0M138.2 380.7h0M141.6 379.2h0M204.3 379.6h0M240.6 380.2h0M169.5 379.6h0M160 380h0M197.6 380.6h0M211.5 381.7h0M202.5 380.6h0M109.6 379.9h0M179.4 381.3h0M280.2 380.3h0M189.8 381.1h0M228.8 380h0M181.3 380.4h0M183.2 380h0M153.2 380.6h0M175.9 379.8h0M120.9 381.1h0M170.3 381h0M228.5 381.8h0M171.6 380.8h0M172 381.7h0M177.4 379.7h0M153.5 380h0M177.2 381.4h0M149.5 380.8h0M209.9 381.7h0M189.4 380.6h0M171.4 381.8h0M130.8 381.4h0M250.6 381h0M147 381.9h0M195.3 379.3h0M200.7 379.8h0M129.4 379.7h0M247.1 380.8h0M201.5 381.2h0M196.8 380.7h0M166 381.6h0M279.4 380.8h0M195.2 381.4h0M138.5 379.8h0M189.9 379.3h0M174.8 380.7h0M225.8 381h0M162 381.6h0M171 379.8h0M161.7 380.7h0M191.2 380.6h0M279.6 381.8h0M151.5 380.3h0M270.1 381.7h0M165.8 380.6h0M165.6 380.6h0M138.6 379.7h0M197.7 380.7h0M256.9 381.9h0M144.1 381.8h0M162.1 380.6h0M151.3 381.8h0M160 381.1h0M153.5 380.3h0M211.6 380.3h0M201 380.5h0M205.2 379.8h0M90.6 381.5h0M172.2 381.3h0M192.5 381.6h0M181.5 381.2h0M193.4 381.5h0M178.6 380h0M190 381.8h0M195 381.9h0M212.6 381.4h0M127.1 380.1h0M146.4 380.6h0M164.7 380.8h0M184.7 379.5h0M208.9 381h0M198 380.1h0M185.6 381.1h0M246.1 380h0M143.8 380.3h0M223.8 379.8h0M191.9 379.8h0M165.5 381.8h0M163.3 380.3h0M189.1 381.7h0M165 381.1h0" stroke="#3c50ad" stroke-width="2.4" stroke-linecap="round"/>
<path d="M183.5 377.6h0M192 378.1h0M219 377.3h0M188.4 379.1h0M225.2 378.8h0M145.8 378.8h0M128.6 377.8h0M112.3 378.2h0M159 378.7h0M146.5 379h0M173.4 377.3h0M178.2 378.4h0M197.5 376.5h0M232 378.2h0M211.7 377.8h0M192.9 379.1h0M215.2 378.2h0M197.6 377.5h0M180.5 376.6h0M161.5 376.8h0M162.6 379.1h0M241.8 378.4h0M184 376.5h0M181.6 378.1h0M174.9 376.9h0M160.9 377.9h0M183.1 378.6h0M219.5 378.1h0M131.9 377.1h0M218.4 376.5h0M184.4 377.3h0M185.1 378.1h0M157.1 376.8h0M149.4 378.7h0M161.1 377.5h0M136.7 379h0M173.9 377.2h0M193 378h0M173.3 378.8h0M124.3 377.6h0M166.1 378.2h0M124.5 377.9h0M208.9 378.3h0M180.4 377.4h0M178.8 377.1h0M166.4 377.2h0M196.4 378.1h0M157.7 378h0M194 378.7h0M158.3 377.8h0M186.2 376.8h0M146.4 378h0M199.8 377.1h0M156.3 378.2h0M181 376.5h0M223.8 378.2h0M260.5 377.9h0M180.9 376.7h0M190.7 378.7h0M160.3 377.6h0M181.9 378.2h0M169.9 378.4h0M163.2 377.8h0M220.4 377.7h0M200.2 377.6h0M216.9 376.8h0M176.2 377.8h0M179.1 378.7h0M193.2 377.7h0M240.6 376.9h0M187.2 377.5h0M209.7 379h0M180.4 377h0M189.8 377.9h0M137.7 376.8h0M204 377h0M147.9 377.4h0M129.4 376.9h0M103.3 376.8h0M210.1 377.1h0M189.6 377h0M181.9 377.7h0M183.7 377.1h0M117.2 378.6h0M175.7 378.8h0M176 378.9h0M162.7 379.1h0M144.7 378.5h0M165.1 378.8h0M157.5 378.4h0M159.8 377.4h0M206.8 377.7h0M169.2 379h0M215.8 377.1h0M222.3 377.9h0M192.9 376.9h0M180.5 377.3h0M191 376.6h0M186.4 377.1h0M143.4 378.9h0M299.1 377.6h0M196.2 377.1h0M259.8 377.1h0M154.3 378.5h0M150.3 376.9h0M241.3 377h0M200.8 379h0M165.4 376.6h0M221.4 379.1h0M179.4 379h0M112.6 377.3h0M197.5 376.8h0M181.2 377h0M161.5 376.8h0M179.4 377.8h0M138.6 379.1h0M158.7 378.1h0M151 377.8h0M207.9 377.1h0M238.3 378.2h0M216.9 376.6h0M208.3 377.5h0M181 376.6h0M187.2 379h0M209.9 377h0M124.6 378.4h0M208.3 378.8h0M186.6 378.8h0M173.7 376.7h0M198.3 376.8h0M197.1 377.8h0M171.9 376.7h0M70.7 378.1h0M207 378.8h0M185.9 377.3h0M228.5 379h0M65.9 377.2h0M163.3 377.6h0M106.9 377.8h0M152.9 377.8h0M132.5 378.2h0M182.5 376.9h0M216.7 378h0M228.9 377.8h0M185.6 376.5h0M166.4 379h0M203.2 377.3h0M198.3 378.6h0M160 377.8h0M177.2 379.1h0M182.2 378.1h0M169.2 376.7h0M187.3 377.4h0M149.3 377.7h0M118.2 379.1h0M257.5 376.7h0M184.6 377.4h0M186.5 378.2h0M226.8 376.7h0M193.2 377.5h0M220.2 379h0M210.7 379.1h0M196.4 378.6h0M156.6 378.9h0M88.5 378.6h0M172.1 377.1h0M184 377.3h0M163.6 379.1h0M183.9 378h0M279.3 378.9h0M164.4 378.3h0M118.8 378.8h0M178.5 376.8h0M206.7 377.2h0M212.5 377.8h0M193.4 376.9h0M178.7 376.9h0M209.6 376.5h0M121.5 379h0M140.4 378.4h0M212.2 378.3h0M176 377.6h0M204 378.9h0M190.6 378.4h0M175.4 379.1h0M183.5 377.5h0M197.4 378.9h0M144.2 376.6h0M180.7 377.3h0M185.4 377.3h0M116.8 377.5h0M161.2 377.4h0M172.8 377.2h0M179.6 377.4h0M195 378.7h0M158.3 378.7h0M186.4 377.3h0M190.7 376.6h0M168.9 378.5h0M170 378h0M161.3 377.7h0M265.6 377.8h0M278.3 378h0M200.5 377.3h0M222.7 378.4h0M195.6 377.1h0M265 379h0M134.8 376.8h0M173.8 377.2h0M154.1 377.3h0M161.4 378.8h0M264.6 377h0M221.9 377.1h0M173.1 378.7h0M183.9 377h0M217.4 379.1h0M157.3 377.2h0M208.8 377.2h0M168.5 376.5h0M320.7 379.1h0M196.6 377.5h0M196.4 378.9h0M179.9 377.2h0M164.3 378.9h0M211.4 377.6h0M184.2 379h0M147.1 377.2h0M242.7 379h0M114.9 376.7h0M120.6 378.7h0M196.9 377.9h0M178.4 376.7h0M170.4 376.9h0M132.7 378h0M238.3 377h0M183.1 377.2h0M183.1 377.4h0M204 378.3h0M96.6 377.9h0M173.8 376.8h0M163.2 378.2h0M184.6 378.8h0M150.8 376.8h0M216.2 378.1h0M151.9 379h0M166.9 377.8h0M173.1 377.4h0M162.3 376.5h0M171 376.6h0M173.8 377.7h0M178.7 376.6h0M253.9 378.4h0M53 379h0M113.1 377h0M187.5 377.5h0M159.3 377.8h0M199.1 376.9h0M86.9 378.7h0M179.1 379.1h0M122.5 378.6h0M188.7 378.3h0M178.1 378.3h0M157.9 378.3h0M174.2 377.6h0M214.7 378.4h0M145.9 379.1h0M234.6 378.4h0M167.5 377.1h0M194.7 376.8h0M106.2 378.7h0M161 377.3h0M175.2 376.7h0M177.4 378.2h0M210.6 378.4h0M137.9 377.4h0M177.9 378.9h0M165.8 378.1h0M152.6 376.8h0M181.5 378.6h0M177.5 378.7h0M136.3 376.6h0M135.1 378.9h0M85.8 377.7h0M188.3 376.8h0M137 376.5h0M178.6 377h0M186.6 378.9h0M151.6 377h0M129.2 377.1h0M179.6 376.6h0M182.8 378.3h0M130.4 379.2h0M232.1 378.9h0M163.7 376.7h0M137.7 378.6h0M153.4 377.4h0M234.5 378.1h0M171.6 377.8h0M148.8 376.8h0M283.1 379.1h0M163.8 378.4h0M172.7 378.4h0M187.6 377.4h0M189.2 376.8h0M154.2 378.3h0M186.4 378.4h0M172.9 376.6h0M224.9 378.5h0M140.8 379h0M194 378h0M203 377.9h0M180.3 378.5h0M160 377.2h0M172.7 378.5h0M173.4 378.5h0M205.6 376.8h0M179.2 376.7h0M158.9 379.2h0M220 376.9h0M197.2 377.8h0M197.8 379.1h0M129.5 377.7h0M197.2 377.8h0M164.2 378.2h0M177.5 378.1h0M156.7 377.8h0M146.8 376.6h0M157 377.5h0M198.9 376.9h0M141.2 377.3h0M180.7 378.9h0M190.8 378h0M148.3 378.9h0M139.9 379h0M230.8 378.2h0M164.7 377.1h0M164 378.2h0M160.3 379h0M191.5 377h0M141.7 378h0M154.1 377.6h0M161.4 377.6h0M120.2 377.5h0M169.8 378.8h0M211.3 376.8h0M157.4 377.5h0M167.4 378.2h0M173.7 378.3h0M161.8 376.6h0M159.2 378.4h0M120.3 378.5h0M165 379.1h0M161.6 377.8h0M239 377.8h0M144.9 378.4h0M176.4 379h0M154.2 377.8h0M155.1 378.7h0M212.6 377.9h0M174 379.1h0M157.9 376.6h0M127.3 376.5h0M202.7 377.6h0M152.1 378.1h0M191.1 378h0M143.7 378.5h0M152.7 377.2h0M186.2 377.7h0M154.8 377.2h0M199.9 379.1h0M175.1 378.2h0M160.7 377.4h0M151.9 376.7h0M319.4 378.7h0M191.1 378.9h0M208.4 376.7h0M194.6 378.5h0M174.9 377.7h0M197 377.4h0M200.5 378.8h0M185.3 378.1h0M184.5 376.7h0M142.9 377.4h0M177.5 377.4h0M176.5 376.7h0M185.7 378.6h0M202.8 378.9h0M287.1 378.8h0M137.8 377.9h0M195 376.6h0M143.7 378.6h0M173.6 376.8h0M197 378.6h0M172.6 377.8h0M103.8 379.1h0M230.5 376.7h0M179.5 378.9h0M257.6 378.8h0M170.3 377.3h0M163.8 378.3h0M178.7 378.9h0M182 378.1h0M191.8 377.8h0M171.7 379h0M269.5 379.1h0M186.7 377.4h0M179.9 377.9h0M164.8 378.7h0M113.5 378.3h0M182.3 376.5h0M278.5 378.6h0M240.9 378.5h0M136.6 379h0M178.6 377.3h0M142.3 377.4h0M182.1 378.5h0M231.9 378.9h0M170.1 377.7h0M108.4 377.3h0M178.1 378.4h0M192.1 376.9h0M197 377.9h0M174 376.5h0M217.2 377.3h0M217.8 378.1h0M276 377.9h0M180.9 376.6h0M152.9 377.2h0M184.9 378.2h0M173.4 376.7h0M179.9 377.3h0M199.7 377.6h0M154.5 378h0M186.6 377.9h0M204.2 378h0M175.1 379.1h0M170 377.9h0M215.6 377.8h0M162.9 378.5h0M165.2 378.7h0M190.1 377.8h0M300.7 378.3h0M149.6 376.9h0M206.3 378.3h0M195.3 378.1h0M196.8 379.2h0M186 378.1h0M208.1 377.9h0M198.4 379h0M165.5 377.9h0M194.9 377h0M139.9 378h0M177.3 377.3h0M224.1 378.1h0M149.3 378h0M147.8 376.8h0M160.1 379.1h0M198.2 377.8h0M211 377.9h0M180.8 378h0M187.8 378.8h0M170.8 377.5h0M220.7 378.8h0M191.2 377.2h0M110.7 376.8h0M209.3 378.3h0M111.6 377.3h0M200.4 378.5h0M223.3 377.7h0M171.4 378.8h0M150.2 376.8h0M259.6 376.9h0M149.9 376.5h0" stroke="#3e57b3" stroke-width="2.4" stroke-linecap="round"/>
<path d="M233.8 373.8h0M184.5 374.8h0M169.1 375.6h0M185.6 374.3h0M170.9 374.5h0M155 374.1h0M171.5 374.7h0M174.5 375.9h0M165.5 374.7h0M200.7 374h0M181.9 375.1h0M175.6 375.4h0M174.8 375.4h0M220.7 373.8h0M160.3 375.1h0M153.5 376.4h0M193.6 375.6h0M157.1 376h0M181.6 374.4h0M161.8 374.1h0M179.7 375.1h0M196 374.2h0M146.8 374.8h0M162.1 374.1h0M134.9 374.2h0M214.2 374.9h0M164.4 375.8h0M114.7 375.6h0M164.2 373.8h0M146.2 375.2h0M213.4 374.8h0M180.9 373.8h0M158 376h0M176.5 375.9h0M198.3 374.3h0M259.8 376.4h0M193.5 374.2h0M200 373.8h0M179.4 376.2h0M175.5 373.8h0M100.9 374.1h0M191.2 375.3h0M144 373.8h0M102.5 375.8h0M179 374.8h0M168.7 376.2h0M155.5 376.3h0M186.6 374.4h0M149.9 375.9h0M180.7 375.8h0M186.2 375.5h0M196.3 374.7h0M183.8 376.1h0M185.7 376.4h0M164.3 373.9h0M295.2 374.9h0M209.8 373.8h0M164.1 375.9h0M159.4 376h0M132.2 374.5h0M170.9 375.3h0M177.7 374.6h0M203.4 374h0M162.8 374.5h0M163.2 375.7h0M206 374.5h0M190.8 374.7h0M152 374.5h0M136.4 374.7h0M182.9 375.5h0M176.6 375.3h0M209.3 374.7h0M194.8 376.4h0M173.9 374.7h0M182.8 376.1h0M161.6 375.5h0M185.7 376.2h0M219.3 376.4h0M201 375.9h0M198.2 375.8h0M204.9 374.9h0M176.4 375.8h0M178.5 375.8h0M176.6 375.7h0M227 376h0M181.5 373.8h0M152.1 374.2h0M194.4 376.3h0M179.7 375.7h0M112.3 375.8h0M194.8 376.4h0M197.9 375.4h0M67.3 376.3h0M232.4 374.8h0M156 374h0M119.8 375h0M190.3 376h0M194.4 373.9h0M150.7 374.8h0M190.8 374.1h0M200.4 376.3h0M205.7 375.7h0M188.8 374.6h0M206.3 373.9h0M196.3 375.6h0M195.7 375.7h0M163.2 374.2h0M150.6 374.8h0M204.1 376.4h0M112.2 376.1h0M155.2 374.6h0M162.9 375.4h0M130.7 374.4h0M194.6 375.7h0M289.2 374.4h0M191.9 375.6h0M271.2 375.6h0M242.1 376.5h0M155.3 374.8h0M171.7 375.3h0M215.5 374.9h0M183.8 376.3h0M181.9 375.4h0M162.5 375.9h0M209.4 375h0M197.1 374.4h0M169.9 375.8h0M176.9 374.1h0M182.1 374.2h0M143 373.8h0M152.9 376.3h0M165.2 375.2h0M282.7 374.2h0M251.5 374.7h0M147.8 374.7h0M155.6 374.3h0M142.4 375.3h0M211.6 375.1h0M215.7 375.9h0M212.4 374.9h0M145 374.8h0M148.5 374.1h0M184.7 376.2h0M197 374.2h0M174.9 375.1h0M127.8 375.6h0M235.3 375.4h0M187.3 376.1h0M235.8 375.6h0M61.9 376h0M188.5 375.1h0M147.9 373.8h0M157.2 375.7h0M150.1 375.6h0M218.2 375.8h0M206.2 375.9h0M140.2 374.3h0M197 374.3h0M182.6 375h0M291.1 376.1h0M170.3 375.3h0M218 374.2h0M151.4 376.4h0M162.1 376.4h0M177.5 376h0M134.4 376.3h0M177.1 375.7h0M209.4 376.4h0M159.2 375.9h0M197.6 376.1h0M141.7 376.1h0M227.5 375h0M119.1 373.9h0M194.5 375.7h0M151 374.8h0M175.4 375h0M170.2 375.6h0M169.6 375.3h0M192.7 375.5h0M167.9 376.4h0M159.3 374h0M206.2 374.3h0M230.1 376.1h0M133.9 376.1h0M233.4 374h0M192.3 376.2h0M175.1 374.6h0M180.9 374.8h0M223.2 375.6h0M179.9 376h0M110.8 374.2h0M229.2 374.5h0M182.1 375.6h0M203.7 375h0M185.2 374.1h0M294.2 376.1h0M194.8 373.9h0M193 375.3h0M151.2 373.8h0M150.3 376.4h0M176.1 374h0M189.3 375.6h0M226.1 375.2h0M162.4 375.9h0M154.3 375.4h0M194.8 375.2h0M192 374.2h0M170.6 374.7h0M191.5 376.2h0M146.1 374.5h0M170.5 375.7h0M240.1 375.1h0M212.5 374.1h0M122.3 374.7h0M288.2 375.6h0M194.1 375h0M196.1 375.9h0M269.1 375.8h0M172.3 375.6h0M159 374.5h0M195.1 374h0M203.6 373.8h0M162.8 375.1h0M155.5 375.4h0M119 376.1h0M173.1 374.3h0M189.7 376.1h0M190.1 374.9h0M159.1 375.5h0M170.5 376.2h0M157.1 375h0M226.1 375.3h0M146.9 374.8h0M311.9 374.3h0M190.2 376.4h0M196.5 373.8h0M169.2 376.1h0M235.4 375.9h0M192.9 375.5h0M172.7 376.3h0M172.4 375.3h0M183.2 374.1h0M180.2 374.3h0M93.6 376.3h0M171.9 375.1h0M236 374.8h0M189.6 376.2h0M136 375.5h0M160.7 373.8h0M187.5 375.2h0M163 375.6h0M138.7 376.4h0M179.8 376.3h0M108 375.4h0M164.6 376h0M244.8 376.4h0M202.6 375.1h0M152.5 376h0M158.2 374h0M186.6 376.1h0M152.5 373.7h0M164.3 374.1h0M179.7 376.3h0M178 375h0M134 374.1h0M163.5 374.7h0M303.4 375.3h0M158 374.9h0M57.9 373.9h0M181.8 376h0M123.5 374.6h0M195.3 376.4h0M140.6 374.4h0M179.3 373.9h0M308.6 376.2h0M235.6 375.3h0M159.3 374.9h0M221.6 375.7h0M163.9 374.7h0M149.7 376.4h0M174.1 375.8h0M135 376.3h0M147 376.1h0M185.2 374.6h0M275.1 374.2h0M207.5 374.1h0M157.7 376.1h0M217.8 374.8h0M198.1 376.1h0M139.6 375.5h0M126.6 376.3h0M198.5 374.4h0M157.2 374.1h0M158.9 375h0M168.5 376.2h0M161.4 374.9h0M191.6 373.9h0M208.7 374.7h0M148.7 375.8h0M221.4 375.5h0M144 376.3h0M158.4 374.9h0M191.8 375.6h0M149.6 374.3h0M154 375.3h0M215.1 373.9h0M176.9 375h0M214.9 375.8h0M149.7 374.7h0M172.6 375.8h0M208.6 375.7h0M186.1 373.8h0M209.1 374.2h0M257 375.3h0M169.3 374.4h0M154.8 375.5h0M164.1 375.5h0M170.9 374.7h0M170.5 375.8h0M179.7 375.5h0M196.6 375.9h0M186.1 376.4h0M200.2 375.4h0M170.3 374.4h0M164.9 375.9h0M194.8 376h0M197.1 373.8h0M190.9 374.9h0M196.7 376.3h0M118.9 375.7h0M217 374.7h0M181.5 376.2h0M162.5 374.7h0M177.2 375.5h0M191.8 375.3h0M151.9 375.3h0M161.6 375.9h0M179.1 374.2h0M190.9 375h0M253.4 373.8h0M136.6 375.6h0M186.7 376.1h0M209.4 373.9h0M92.3 374.9h0M182.7 375.8h0M145.7 375h0M178.2 376.5h0M194.8 374.4h0M186.9 375.4h0" stroke="#3f5eb9" stroke-width="2.4" stroke-linecap="round"/>
<path d="M170.2 372.3h0M152.6 372.4h0M249.3 372.2h0M136.8 372.2h0M231.5 372.7h0M148 373.3h0M199.3 372.7h0M262.9 373.4h0M117.5 373.4h0M175.5 372.2h0M172.7 372.6h0M158.5 372.2h0M189.3 373.1h0M209.5 373.2h0M163.9 373.3h0M170.4 373.1h0M176.6 372.9h0M209.3 372.5h0M137.4 372.8h0M183.7 373.6h0M229.9 372.6h0M160.3 372.7h0M194.7 373.5h0M201.8 372.6h0M145.2 372.2h0M188.5 372.8h0M212.3 373.2h0M190.7 372.9h0M244.5 372.2h0M190.8 373.5h0M235.5 373.2h0M149.5 373.2h0M164.1 372.5h0M174.5 372.3h0M252.4 372.8h0M153 373.6h0M176.3 373.7h0M159.8 373.4h0M177.9 373.6h0M203.1 373h0M155.3 373.6h0M91.9 373.5h0M170.5 372.1h0M199.5 373.6h0M188.5 373.1h0M190.3 373.2h0M182.6 372.2h0M163.3 372.7h0M189.5 372.5h0M197.7 372.9h0M214.4 372.3h0M162.6 372.9h0M189.2 372.5h0M261.5 373.2h0M177.7 372.5h0M145 373.5h0M163.8 372.1h0M188.1 372.2h0M171.1 373.4h0M161.1 373.7h0M187.9 372.3h0M200.3 373h0M160.5 372h0M192.6 373.3h0M180.7 373.3h0M188.4 372.7h0M186.3 372.9h0M171 372.4h0M191.3 373.2h0M214 372.1h0M178.6 372.6h0M154.3 373.2h0M184.2 373.6h0M216 373.2h0M203.2 372.1h0M148.2 373.3h0M158.2 372.5h0M176.7 372.2h0M174.5 372.4h0M200.2 372.4h0M177.7 372.3h0M190 372.9h0M157.1 372.5h0M163.3 372.4h0M185.3 373.3h0M204 373.6h0M171.9 373.7h0M236.7 373.1h0M243.3 373h0M190.7 373.7h0M200.3 373.6h0M173.1 373.7h0M247.5 373.4h0M164.7 373.4h0M188.8 373.4h0M193.2 373.2h0M157.2 373.7h0M194.9 373.2h0M184.5 372.2h0M217.8 372h0M182.6 372.6h0M192.3 373.4h0M189.8 372.1h0M182.7 372.1h0M151 373.3h0M188.6 373.4h0M179.2 372.2h0M145.3 372.3h0M202.5 373.3h0M196.6 373.2h0M150.2 372.8h0M186.6 372.3h0M187.8 373h0M287.2 373.6h0M183.8 373.1h0M155.5 373.7h0M172.3 372h0M156.5 372.6h0M160.1 373h0M151 373.5h0M177 373.1h0M213.9 372.7h0M220.2 372.5h0M152 372h0M196.4 372h0M193 372.5h0M195 372h0M206.7 372.7h0M156.9 373.7h0M189.3 372.4h0M164.3 372.9h0M151.8 372.9h0M208.2 372.9h0M173.5 373.3h0M170.4 372.2h0M161.7 373.1h0M171.2 373.7h0M159.3 373.7h0M199.2 372.7h0M151 373.6h0M184.7 373.1h0M187.6 372.7h0M143.6 373.5h0M210.1 373.3h0M210.8 372.3h0M161.6 372.3h0M133.7 373.7h0M154.7 373.4h0M179 373.1h0M156.7 372.9h0M161.7 372.1h0M156.7 373.4h0M186.1 373.3h0M183 372.9h0M211.9 373.5h0M165.5 373.7h0M231.5 373.6h0M198 372h0M178.9 373.5h0M99.9 372.5h0M134.9 372.9h0M131.5 372.1h0M198 373.6h0M163.5 372.3h0M159.9 373.3h0M194.2 372.9h0M180.5 372.4h0M150.8 373.1h0M200 372.7h0M238.4 372.3h0M259.7 372.6h0M184.9 372.4h0M127.3 373.7h0M200 372.1h0M170.1 372.4h0M195.3 372.8h0M153 372.9h0M237.5 373.1h0M192.7 373.6h0M141.5 373.6h0M149.4 373.2h0M182.6 373.7h0M135.3 372.4h0M183.8 373.7h0M202.5 372.9h0M163.6 372.9h0M152.1 372.9h0M143.9 372.5h0M201.6 373.6h0M162.6 373.6h0M225.6 372.2h0M170.2 372.5h0" stroke="#4167bf" stroke-width="2.4" stroke-linecap="round"/>
<path d="M196.6 371.4h0M159.7 371.6h0M198.5 371.9h0M174 371.2h0M211.7 371.7h0M156.7 371.1h0M247.3 371.3h0M170.6 371.5h0M173.4 371h0M176.6 371.2h0M154.5 371.1h0M313.6 371.6h0M185.4 371.3h0M194.8 371.8h0M178.6 371.8h0M212.5 371.4h0M190 371.8h0M183.4 371.2h0M189.6 371.5h0M181.4 371.5h0M230.6 371.9h0M173.2 371.8h0M196.5 371.6h0M190.9 371.7h0M179.6 371.1h0M151.1 371.8h0M204.3 371.8h0M171.5 371.7h0M174.2 371.5h0M197 371.1h0M198.4 371.3h0M200.7 371.7h0M195.1 371.5h0M158.5 371.9h0M181 371.7h0M189.6 371.2h0M185.2 371.6h0M182.3 371.6h0M198.5 371.1h0M190.3 371.5h0M210.9 371.1h0M154.9 371.4h0M174.2 371.2h0M161.3 371.1h0M200.3 371.2h0M171 371.1h0M176.4 371.1h0M181.9 371.8h0M222.1 371.2h0M147.9 371.6h0M170.3 371.5h0M150.5 371.7h0M184.7 371.2h0M250 371.3h0M187.2 371.8h0M145 371.9h0M200.2 371.5h0M157.5 371.5h0M181.7 371.4h0M176.1 371.9h0M198.7 371.2h0M192.4 371.1h0M157.3 371.7h0M100.9 371.6h0M192 371.6h0M173.1 371.4h0M165 371.6h0M165.8 371.8h0M106.4 371.1h0M186.6 371.4h0M229.3 371.5h0M182.9 371.5h0M186.9 371.7h0M188.1 371.1h0M171.4 371.2h0M144 371.7h0M184.9 371.1h0M157.9 371.1h0M180.4 371h0M207.4 371.3h0M148 371.9h0M187.1 371.1h0M148.1 371.8h0M158.9 371.6h0M219.1 371.6h0M182.6 371.9h0M201.3 371.5h0M192.6 371.7h0M196.8 371.4h0M175.5 371.2h0M210.6 371.1h0M151.6 371.5h0M184 371.1h0M182.3 371.5h0M207.6 371.3h0M178.1 371.4h0M241.4 371.4h0M213.1 371.1h0" stroke="#4167bf" stroke-width="2.8" stroke-linecap="round"/>
<path d="M216.6 369.7h0M165.5 368.7h0M153.6 370h0M181.7 369.6h0M188.5 369h0M140.7 370.8h0M160.1 369.9h0M186.2 370.3h0M181.7 370.5h0M145.8 369.8h0M176.8 370.8h0M162.8 370.7h0M184.4 369.1h0M145.8 370.7h0M171.4 370.1h0M119.6 368.5h0M198.8 370.8h0M178.8 368.4h0M172.9 369.9h0M160.9 369.1h0M162.2 370.3h0M165.8 369.7h0M176.2 368.5h0M269 369.1h0M247.2 371h0M133.6 370.2h0M189.6 369.6h0M196.8 369.3h0M180 368.6h0M158.5 370.3h0M210 370.9h0M184.6 370h0M156.5 369.3h0M184.7 368.9h0M177 369.1h0M179.3 368.4h0M187.1 369.2h0M205.7 369.4h0M163.6 368.5h0M157.3 369.8h0M146.4 369.7h0M129 368.5h0M235.2 370h0M163.7 370.2h0M178.4 369.1h0M174.4 369.4h0M170.8 370.3h0M153.2 370.7h0M179.1 369.6h0M184.4 368.8h0M187.5 368.3h0M176.7 369.2h0M175.4 370.3h0M191.7 370h0M188.7 370.7h0M198.8 370.6h0M209.4 368.8h0M172.6 369h0M238 370.8h0M194.9 369.4h0M238.6 369.9h0M200.6 370.4h0M239.9 368.8h0M180.1 368.4h0M218.9 368.8h0M160 368.9h0M160.3 370.8h0M190 368.5h0M196.1 369.3h0M190.7 369h0M150.9 369.8h0M182 369.5h0M153.7 368.4h0M178 368.3h0M193.7 370.4h0M185.9 370.4h0M195.6 368.7h0M172.7 370.7h0M124.8 370.5h0M200.5 369.2h0M175.6 370.2h0M182.6 368.6h0M158.5 369h0M237.9 369.8h0M160.8 368.7h0M211.3 369h0M187 369.2h0M177.4 370.6h0M194.9 370.9h0M189.7 368.9h0M198.2 370.9h0M177.3 370h0M239.5 370.9h0M142.2 369.2h0M164.1 368.7h0M178.5 369.9h0M171.9 368.9h0M186.4 368.9h0M185.6 370.6h0M136.4 368.8h0M173 370.5h0M184.8 368.7h0M245.8 369.9h0M203.4 370.2h0M177.5 368.8h0M204.2 369.1h0M169.2 370.6h0M191.5 369.7h0M179.9 370.6h0M95.2 371h0M183.2 370.9h0M236.6 369.2h0M153.4 368.3h0M197.4 369.1h0M102.7 368.5h0M186.5 369.4h0M156.1 369.4h0M189 368.8h0M194.1 370.6h0M172.2 369.2h0M154.4 369.9h0M145.6 369.2h0M145.7 369.4h0M153.4 370.1h0M211.2 370.1h0M165.3 368.8h0M185.3 370.7h0M188.3 368.3h0M180.9 370.6h0M211.3 369.1h0M161.5 370.6h0M185.8 369h0M199.8 368.3h0M196.2 370.8h0M203.3 370.3h0M196.5 369.9h0M192.4 370.9h0M158 369.4h0M175.6 370h0M182.7 370.5h0M187.8 369.6h0M270.1 370.6h0M161.4 370.8h0M188.6 368.5h0M192.1 368.4h0M173.1 370.1h0M133.3 370h0M126.6 368.8h0M195.6 371h0M186.8 368.3h0M152.3 368.5h0M164.4 369.3h0M160.3 369.2h0M210.1 368.8h0M191 369.6h0M173.6 370.5h0M157.3 369.9h0M188.8 370.1h0M155.8 370.9h0M221.5 368.6h0M185.2 369.6h0M181.1 370.4h0M230.6 370.1h0M156.7 369.3h0M174.3 370.6h0M170.3 369.3h0M194.7 370.6h0M164.3 370.8h0M160.1 370.5h0M137.6 369.3h0M182.8 370.2h0M160.8 369.4h0M158 368.5h0M193.7 370.7h0M170 370.4h0M193.1 370.7h0M180.3 370.6h0M191.3 371h0M156.3 368.8h0M161.2 371h0M154.7 369.8h0M122.5 369.3h0M174.3 369.6h0M174.7 368.6h0M182.2 369.9h0M152.6 370.8h0M157 369.4h0M171.8 371h0M178.1 370.9h0M223.9 369.7h0M189.5 369.7h0M192.2 370.7h0M188 369.8h0M188.7 368.5h0M193.5 370.3h0M281 370.2h0M227.8 368.3h0M137.8 368.8h0M175.7 369.1h0M192.4 369.6h0M124.9 370h0M231.3 371h0M226.7 368.4h0M159 369.1h0M199.1 368.5h0M198.8 368.6h0M158.4 368.4h0M164.4 368.8h0M181.1 368.9h0M176.4 370.6h0M177.9 369h0M142.6 369.8h0M183.2 370.6h0M178.9 370.4h0M195.2 369.1h0M205.2 369h0M217.7 368.5h0M240.1 369.6h0M153.4 369.2h0M178.6 370.6h0M151.1 370.1h0M196.6 368.6h0M161.6 370.9h0M153.4 370h0M173.5 371h0M186.1 369.1h0M234.4 368.5h0M188.1 370.8h0M176.8 370.9h0M164.6 369.5h0M175.2 371h0M178.5 370.4h0M159.7 370.6h0M246.8 369.2h0M207.9 368.8h0M190.1 369.3h0M236.5 368.6h0M183.5 369.3h0M193.8 369.6h0M194.8 371h0M162.4 368.9h0M70.4 370.5h0M179.5 368.7h0M193.7 369.2h0M102 369.2h0M196.5 370.3h0M174.1 368.7h0M157.7 370.1h0M183.5 369.3h0M134.2 369h0M207.5 370.3h0M109.4 368.4h0M158 368.7h0M150.4 370.8h0M153 369h0M164 368.7h0" stroke="#4371c6" stroke-width="2.8" stroke-linecap="round"/>
<path d="M255.5 366.3h0M179.5 367.7h0M179.1 365.8h0M148 367.4h0M159 367.3h0M241.5 366.1h0M194.5 368.2h0M186.2 367.1h0M158.1 368.1h0M185.6 366.6h0M165.3 367.9h0M194.8 366.1h0M194.9 366.1h0M176.1 366.1h0M184.2 366h0M150.6 366.7h0M196.4 365.8h0M189 368h0M218.8 366.1h0M153 368.3h0M176.9 368.1h0M165.4 368.3h0M152.7 367h0M196.5 365.7h0M163.5 367.6h0M160.7 368h0M194.7 367.7h0M180.5 367.9h0M240.7 368h0M175.4 366.5h0M225.5 368h0M132.6 367h0M175.3 367.2h0M156.5 366.6h0M206.5 368.3h0M174.6 367.8h0M210.8 366.1h0M154.1 368h0M153.8 367.2h0M162.9 365.9h0M154.7 366.6h0M269.2 368.2h0M196.2 366.7h0M212.9 366h0M157 365.9h0M159.8 368.2h0M170 366.9h0M194.9 367h0M296.9 367.1h0M158.1 365.7h0M183.9 366.2h0M247.5 366.8h0M190.2 366h0M154 367.2h0M180.5 365.9h0M173.3 367.7h0M189 366.9h0M173.8 366.3h0M170.3 368.1h0M163 365.8h0M214.9 368.2h0M184.3 366.9h0M163.6 367.2h0M160.1 366.2h0M179.1 365.7h0M190.2 368.1h0M195.2 367.4h0M161.2 366.2h0M182 366.1h0M173.3 368.3h0M189.5 367.4h0M165 368h0M199 366.9h0M157.2 367.7h0M178.1 367.7h0M204.5 367.8h0M162.7 367h0M159.4 365.7h0M118.1 368.3h0M157.5 367.4h0M214.3 366.1h0M153.5 366.8h0M202.5 366.6h0M178.4 367.6h0M176.3 367.2h0M219.8 366.6h0M159.4 365.9h0M205.9 366.2h0M211 367.4h0M179.2 366.9h0M177.5 366h0M178.9 366.2h0M203 366.7h0M182.4 367h0M182.3 367.3h0M159.3 365.7h0M175.7 366.5h0M189.3 366.1h0M320.6 366.7h0M185.9 367.1h0M200 367.6h0M160.8 366.8h0M178.1 366.8h0M135.3 366.7h0M200.4 367.8h0M174.7 366.2h0M163.6 368.1h0M150.6 366.6h0M180.2 368.2h0M132.7 368h0M188.8 366.3h0M161 367.6h0M208 366.2h0M173.6 368.2h0M191.9 367.3h0M189.1 366.6h0M196.4 366.6h0M181.5 366.7h0M176.2 368.1h0M162.7 365.7h0M205.9 366.1h0M182.9 367.3h0M158.8 367.9h0M163.6 366.8h0M173.1 367.4h0M188.2 366.9h0M147.9 366.5h0M183.1 367.6h0M192.8 367.4h0M224 368h0M140.6 366.6h0M197.9 366.8h0M184 366.6h0M151.8 367.8h0M98.6 365.9h0M177.3 366.6h0M157.3 367.3h0M163.2 366.1h0M157.7 367.2h0M259.3 367.9h0M203.4 367.7h0M170.6 366.1h0M178.2 367.4h0M150.7 367.2h0M163.4 366.4h0M152.2 366h0M171.6 366h0M213.5 366.8h0M179.7 367.4h0M144.6 367.5h0M135.3 368.2h0M132.5 367.7h0M177.4 366.2h0M181.6 368h0M171 368.1h0M201.5 367.1h0M137.5 367.9h0M195.1 366.5h0M163.8 368.3h0M176.7 367.1h0M188.3 367.8h0M195.3 367.4h0M161.7 367.9h0M163 366.6h0M177.3 368h0M200.8 368.1h0M132.6 367.2h0M134.4 367.3h0M127.1 367.6h0M205.8 366h0M162.2 366.3h0M173.7 366h0M191.6 366.3h0M169.8 367h0M187.9 365.7h0M170.7 366.7h0M189.7 365.6h0M147.7 365.8h0M214.7 366.1h0M162.3 366.4h0M136.7 367.1h0M182.5 365.8h0M185.9 366.5h0M199.1 367.6h0M188.2 368h0M164.7 367.1h0M197.5 367h0M161.6 368.1h0M154.5 366.4h0M191.9 365.9h0M219.8 366.4h0M142.3 366.2h0M195.6 367.4h0M202.9 365.8h0M202.4 367.2h0M161.5 367.4h0M152.6 367.9h0M199.8 366h0M164.9 367.7h0M187.4 366.5h0M172.2 366.5h0M162 366.4h0M156.6 367.4h0M162.3 367.6h0M178 368h0M163.5 367.2h0M174.6 367.3h0M153.5 366.8h0M159.6 365.9h0M188.2 366.2h0M152.6 366.6h0M178.5 368.1h0M150.8 366.9h0M198.7 367.5h0M179.9 368.3h0M181.7 366.7h0M183.6 366h0M178.3 366.2h0M218.4 366h0M178 365.6h0M154.7 368h0" stroke="#447acc" stroke-width="2.8" stroke-linecap="round"/>
<path d="M186.8 364.4h0M161.1 362.9h0M179 364.8h0M155.9 364.5h0M176.3 365.5h0M180.6 364.3h0M163.9 364.6h0M196.6 363.9h0M203.6 364.5h0M117.5 363.7h0M171.9 363.5h0M182 365.1h0M196.8 364.9h0M175.9 365.3h0M190.5 364.3h0M172.2 364.2h0M176.5 363.1h0M194.8 364.5h0M153 363.7h0M170.5 364.7h0M193.8 364.3h0M198.4 365.2h0M187.1 365.6h0M151.1 363.6h0M174.8 364.4h0M99.8 364.1h0M210.4 363.1h0M171 363.2h0M189.4 364.7h0M180.3 362.9h0M185.6 364.1h0M202.5 363.7h0M249.8 364.4h0M161.5 363.6h0M144.6 364h0M194 363.4h0M174.6 364.3h0M174.7 365.5h0M165 364.8h0M185.8 365.2h0M148.8 363.6h0M149.8 362.9h0M142.4 364.6h0M178.4 364h0M234.7 365.5h0M181.4 363.6h0M196.9 365.5h0M154.9 363.3h0M175.7 364.6h0M158.5 362.9h0M185.8 363.2h0M184.2 363.1h0M157.5 363.3h0M188 364.5h0M151.8 364.5h0M162.6 364.2h0M154.3 363.5h0M175.1 365.3h0M193.7 363.8h0M192.3 363.6h0M200.2 365.5h0M183.1 365.4h0M195.1 364.2h0M164.6 363.7h0M154.6 364.1h0M181.2 363.6h0M170.2 364.8h0M161 363.9h0M159 364.2h0M155.9 364.7h0M157.7 365.5h0M180 364.1h0M196.1 365.4h0M178.2 364.8h0M150.3 364.3h0M169.9 363.5h0M156.7 363.2h0M184.1 364.2h0M169.7 363.1h0M176.1 365.4h0M186.6 363.3h0M194.7 364.3h0M183.7 365.2h0M189.5 365h0M194.6 365.1h0M185.4 364.6h0M193.2 363.1h0M214.9 363.7h0M220.7 364.9h0M141.1 364.4h0M152 364.7h0M186.5 365.4h0M171.6 363h0M209.2 365.2h0M186.1 363.1h0M184.2 363.8h0M184.1 365.4h0M171.5 364h0M162.4 363.5h0M182 363.7h0M152.9 363.8h0M170.2 362.9h0M156.3 365.4h0M170.2 364.9h0M194.9 363.9h0M156.4 364h0M209 363.3h0M190.7 363.7h0M202 364.4h0M195 363.3h0M155.2 363.2h0M191.9 363.9h0M136.1 363.9h0M195.7 363.7h0M186.6 363.3h0M193.1 363.2h0M196.1 364.8h0M157.4 364h0M169.6 364.5h0M169.1 365.5h0M161.2 364.9h0M150 364.2h0M189.6 364h0M130.4 363.9h0M184.8 365.1h0M152.3 364.8h0M177.2 364.7h0M113.9 363.9h0M184.1 365h0M174.3 365.4h0M155.2 364.3h0M191.6 365.5h0M181.8 365h0M200.4 364h0M191.1 365.1h0M159.7 364.8h0M204.9 365.3h0M183.4 365h0M181.8 365h0M180.3 364.1h0M158.8 364.1h0M172.4 365.5h0M197.4 364h0M176.5 363.2h0M175.9 364.4h0M190 365.4h0M171.9 365.5h0M132.2 363.5h0M180.6 363.1h0M198.5 363.5h0M163.4 364h0M191.1 364.6h0M164.3 364.7h0M173.2 365.4h0M187.2 363.6h0M152.1 363.7h0M218.4 363.5h0M192.9 363h0M171.3 364h0M154.9 364.7h0M152.2 363h0M185.8 364.6h0M183 364.9h0M153.4 364.4h0M198.6 364h0M174.3 364.7h0M195.1 363.8h0M190.4 363.7h0M186.9 365.1h0M160.9 363.8h0M179.4 364.5h0M197.7 365.4h0M179.9 362.9h0M197.1 363.9h0M228 363.9h0M163 363.9h0M174.7 363.7h0M244.5 365.4h0M196 365.1h0M176.5 363.2h0M160.8 364.2h0M179.8 365.5h0M173.5 362.9h0M187.2 364.6h0M160.6 365.3h0M158.1 363.8h0M183.2 364h0M205.2 364.5h0M162.3 363.8h0M131.9 363.2h0M200.5 364.4h0M194.6 363.7h0M191.8 364.9h0M191.8 364.7h0M212.8 364.4h0M160.8 363.9h0M203.2 365.5h0M192.6 364.4h0M174.5 363.8h0M174.6 364h0M155.5 364.5h0M187.1 364.1h0M206.7 364.5h0" stroke="#4684d2" stroke-width="2.8" stroke-linecap="round"/>
<path d="M183.8 362.6h0M169.3 362.8h0M154.9 361.9h0M182.1 361.4h0M175 361.1h0M176.1 360.8h0M163.9 362.7h0M161.7 361.7h0M183.6 362.6h0M193.2 362.1h0M192.9 362h0M105.2 360.6h0M172.7 361.6h0M186.4 360.7h0M179.8 362h0M163.5 362.9h0M170.9 361.9h0M114.5 362.5h0M160.5 361.1h0M180.5 362.8h0M190.8 362.1h0M164.1 361.9h0M198.9 361.9h0M198 362.3h0M165.1 361.2h0M157.5 360.3h0M157.7 362.2h0M165.4 361.7h0M176.5 362.7h0M154.7 362.8h0M178.8 360.9h0M181.4 360.5h0M153.5 360.5h0M138.3 362.1h0M146.8 362.7h0M165.1 360.7h0M159.7 362.2h0M175.9 362.6h0M185.7 362.1h0M192.8 362.1h0M176.2 362.6h0M119.3 360.3h0M180.4 361.5h0M173.6 361.8h0M189.4 362.2h0M153.5 361.4h0M220.5 361.2h0M196.2 362.3h0M196.4 362.1h0M209.4 360.9h0M190.2 361.2h0M160.4 362.6h0M188.2 361.3h0M218.7 362.8h0M193.6 361.5h0M214.5 361.3h0M164.4 361.2h0M192.5 362.4h0M186.9 360.7h0M193.2 362h0M197.1 361.4h0M206.6 361.9h0M159.6 361h0M150.6 361.8h0M163 362h0M199.5 360.9h0M192.2 362h0M150.9 361.5h0M174.6 360.7h0M190 360.8h0M163.2 361.9h0M190.8 362.8h0M181.9 361.9h0M180.7 361h0M163.8 362.2h0M180.5 362.2h0M194.2 360.6h0M177.7 362.7h0M195.6 360.3h0M178 360.9h0M178.5 361.2h0M153.3 361.9h0M151.8 362.3h0M179.6 361h0M177.8 361.7h0M194.6 362.6h0M153.6 360.5h0M186.4 362.1h0M176.6 360.6h0M154.4 360.8h0M178.2 360.7h0M187.9 361.1h0M157.7 361.3h0M179 360.4h0M173 361.8h0M157.5 360.6h0M193 360.6h0M189.4 361.2h0M170.6 360.3h0M170.1 362.4h0M204.9 362.3h0M182.6 361.2h0M184.1 362h0M161.4 361.1h0M171.7 360.5h0M188.9 361.4h0M159.7 361h0M175.3 360.4h0M180.6 361.3h0M165.2 361h0M162.5 362.8h0M215.7 360.7h0M154 362.6h0M152.8 362.7h0M151.7 361.3h0M125.7 360.3h0M185.3 361.4h0M172.2 361.2h0M180.4 361.2h0M176.3 360.3h0M189.2 361.1h0M139.2 361.1h0M163.7 360.4h0M162.5 361.7h0M151.3 361.8h0M157.6 362.3h0M199.4 362.1h0M152 360.6h0M184.7 362.1h0M175.3 362.8h0M200.4 360.3h0M191.3 361.3h0M154.3 362h0M196.9 362.6h0M189 362.8h0M157.7 361.8h0M182.1 362.5h0M157.7 361.9h0M181.4 361.9h0M176.2 362.9h0M164.4 362h0M182.4 362.7h0M182.7 361.7h0M169.8 360.9h0M148.5 361.4h0M153.7 361.8h0M161.9 360.9h0M163.7 362.4h0M172.5 360.2h0M174 362.3h0M195.4 361.4h0M194.1 360.2h0M160.3 362h0M216.3 361.6h0M186.4 361.1h0M186.6 362.8h0M158.4 361.1h0M178.7 360.9h0M190.3 360.8h0M163.2 362.8h0M182.5 361.6h0M160 360.7h0M161.2 360.4h0" stroke="#478dd5" stroke-width="2.8" stroke-linecap="round"/>
<path d="M175.9 359.4h0M195.3 359.3h0M174.3 359.2h0M163.6 359.2h0M151.7 358.2h0M198 357.8h0M157.8 357.9h0M174.3 360.1h0M154.1 358.1h0M182.8 358.6h0M201.8 358.2h0M183.8 360.1h0M190.1 357.6h0M202.4 358.9h0M198.5 357.6h0M188.6 359.9h0M151.5 358.6h0M153.4 357.5h0M174.6 358.7h0M181.5 359.8h0M256.3 358.7h0M181.5 358.2h0M181.6 359.9h0M207.7 359.7h0M129.7 360h0M187.6 357.8h0M153.2 360h0M196.2 357.7h0M144.3 358.7h0M181.3 358.1h0M196.7 358h0M151.6 359.6h0M163.4 358.7h0M182.4 359.5h0M155.9 358.9h0M206.5 358.7h0M184.8 359h0M185.8 359.4h0M193.1 358.8h0M190.4 359.2h0M174 358.1h0M158.1 357.5h0M188.6 359.3h0M186.7 359.8h0M169.5 359.2h0M153.9 358h0M180.1 358.3h0M161.8 357.5h0M159.4 359.5h0M182.8 359.6h0M154.6 359.7h0M194.8 358.5h0M200 358.1h0M150.6 358.9h0M157.2 359.2h0M180.2 360.1h0M163 360h0M158 360.1h0M149.9 359.6h0M203.5 359.4h0M195.1 357.9h0M177.8 359.1h0M175.9 357.4h0M197.4 359.1h0M188.1 360.1h0M75 359.8h0M174.7 359.8h0M181.7 359.1h0M157.7 360h0M171.5 357.5h0M180.5 358.3h0M170.2 359.6h0M178.2 359.1h0M175.1 357.6h0M171.8 358.8h0M144.2 359.5h0M189.1 359.8h0M190.4 359.9h0M186.5 358.8h0M212.3 358.6h0M151.1 358.6h0M193.8 359.1h0M180.9 360h0M199.8 357.5h0M182.6 359.1h0M191.2 359.3h0M184.2 358.6h0M159.2 357.4h0M174 358.9h0M162.2 359.8h0M183.9 358.6h0M170.3 357.9h0M158.9 358.5h0M186.8 358.3h0M171.3 357.7h0M173.8 357.6h0M152.8 357.6h0M195.2 359.4h0M173.4 359.8h0M237.1 357.8h0M183.6 358.8h0M161.4 359.6h0M186.3 359.3h0M186.2 358.8h0M161.3 357.5h0M194.8 359.9h0M191.1 359.1h0M156.7 358.8h0M172.2 358.6h0M176.4 359.4h0M190.8 358.5h0M161.3 359.8h0M177.3 358.5h0M136.3 357.5h0M185.8 359.3h0M195 358h0M153.8 358h0M178.5 358.1h0M203.6 359.7h0M196.7 358.9h0M156.3 358.4h0M190.7 358.2h0M172.2 359.8h0M175.5 358h0M192.8 358.2h0M157.4 358.9h0M202.3 357.6h0M224.9 358.9h0M188.6 360h0M169.9 358.4h0M191.4 359.1h0M180.1 359.9h0M196 357.7h0M160.6 358.9h0M125.6 359.5h0" stroke="#4996d9" stroke-width="2.8" stroke-linecap="round"/>
<path d="M146.4 357h0M164.4 356.7h0M188.3 356.2h0M197.6 356.3h0M151.4 355.6h0M177.5 355.7h0M172.4 355.3h0M198 356.6h0M160 357h0M169.4 356.3h0M181.8 355.8h0M152.5 356.8h0M185.7 355.8h0M171.2 355.8h0M180.5 357.2h0M181.3 356.9h0M174.5 357.2h0M154.7 356.5h0M240.9 356.5h0M153.9 356.6h0M188.7 356.1h0M150.7 356h0M198.3 355.9h0M159.6 357.2h0M156.5 356.3h0M179.3 357.4h0M173.9 357.4h0M186 355.9h0M155.2 355.4h0M180.8 356.5h0M179.1 356.2h0M165.2 355.6h0M174 355.9h0M150.7 357.4h0M130.9 355.8h0M157.7 355.9h0M152.9 355.3h0M198.2 357.3h0M185.2 355.4h0M150.7 355.6h0M177.4 356.4h0M185.9 356.7h0M180 355.3h0M179.3 356.4h0M231.4 357h0M163.1 357.4h0M181.4 357.3h0M188.5 357.4h0M179.2 356.8h0M162.3 357h0M161.7 356h0M181.2 356.6h0M192.3 355.7h0M181.7 356.1h0M157.9 355.6h0M172.5 355.4h0M178.7 356.3h0M177.6 356.2h0M174 357.2h0M188.8 355.6h0M188.9 355.8h0M154.8 356.5h0M171.3 357.1h0M162.9 355.7h0M174.8 355.9h0M154.2 355.9h0M191.1 357.3h0M176.1 356.8h0M150.4 355.8h0M197.1 356.5h0M192.6 356.8h0M169.5 355.4h0M164.6 356.4h0M172.9 356h0M191.2 356.1h0M156.1 356.9h0M188.5 355.3h0M153 356.2h0M146.9 357.4h0M184.8 355.3h0M185.8 356.1h0M173.5 356.8h0M154.7 355.8h0M163 356.3h0M190.5 356.3h0M185 357.2h0M186.1 356.2h0M156.1 356h0M195.6 356.1h0M150.9 356.1h0M154.4 356.7h0M156.7 356.3h0M163.1 355.5h0M172.9 355.4h0M158.6 356.8h0M173.5 357.3h0M159.2 356h0M190.5 355.4h0M169.9 356.6h0M181.3 356h0M194.1 355.8h0M204.4 355.6h0M171.3 355.4h0M164 355.9h0M199.1 357.4h0M174.9 356.2h0M165.1 355.8h0M198.1 356.6h0M165 357.4h0M189.1 356.8h0M157.2 355.4h0M188.2 356.6h0" stroke="#4aa0dc" stroke-width="2.8" stroke-linecap="round"/>
<path d="M151.3 354.7h0M179.4 355.2h0M184.3 354.8h0M185.2 355h0M188.1 355.1h0M161.7 355h0M181.7 355h0M192.7 354.9h0M154.9 354.9h0M159.2 354.9h0M176.8 355h0M199.6 355.1h0M191.1 354.8h0M184.4 355.2h0M157.9 355h0M186.7 354.8h0M185.8 354.8h0M209.1 354.8h0M178.7 354.7h0M182.1 355.1h0M203.3 355.1h0M164 355.1h0M157 354.8h0M188.7 354.7h0M191.8 355h0M183.1 354.8h0M173.2 355.1h0M157.3 355h0M198.9 354.7h0M142.8 355.2h0M204.1 355h0M170.4 355.1h0M173.6 354.8h0M187.9 355.1h0" stroke="#4aa0dc" stroke-width="3.2" stroke-linecap="round"/>
<path d="M215.6 352.7h0M155.2 352.5h0M174.2 352.2h0M175.8 354h0M194 353.7h0M180.3 353.7h0M195 353.7h0M157.4 354.5h0M133.9 353.5h0M190.5 352.6h0M181.6 354h0M158.9 353.4h0M220.8 354.4h0M178.6 354.1h0M188 352.3h0M178.1 353.8h0M177.8 354.5h0M151.4 352.3h0M196.6 354.6h0M173.9 352.2h0M196 353h0M163.7 352.4h0M161.1 353.9h0M177.9 352.4h0M181.4 353h0M147.8 352.5h0M192 353h0M152.7 354.4h0M159.6 353.7h0M210.5 354.6h0M192.1 354.6h0M186.5 353.2h0M202.4 354.4h0M140.2 353.1h0M174.9 354.4h0M193.6 353.8h0M151.7 352.1h0M163 353.9h0M189.6 353h0M201.1 352.7h0M170.4 353.5h0M192.3 354.6h0M199.7 354.2h0M159.9 353.2h0M156.6 352.4h0M191.5 353.5h0M156.2 353.9h0M197.1 353.9h0M157.1 353.2h0M184.1 353.5h0M164.7 353h0M152.9 352.1h0M178.8 353.5h0M197.6 352.5h0M157.4 352.2h0M175.9 353.9h0M158 352.5h0M177.3 354.1h0M163.8 352.8h0M188.2 354.1h0M194.1 354.6h0M195.8 353.2h0M197.2 353.1h0M158.2 353h0M191.2 353.6h0M174.5 353.6h0M197.9 354.5h0M164.9 353.8h0M151.4 354.7h0M172.9 352h0M176.2 354.5h0M187.8 353h0M184.8 354.2h0M201.2 352.3h0M190.6 354h0M161.6 353.7h0M178.9 354.4h0M173.5 353.7h0M174.1 354h0M188.3 352.4h0M189.9 352h0M198.8 352.9h0M153.6 352.5h0M191.2 352.3h0M169.3 353.5h0M144.6 353.6h0M185.2 353.6h0M162.6 354.2h0M187.4 354.5h0M255.8 353.6h0M195.1 352.8h0M170.1 354.1h0M182.4 354.1h0M189.5 352.6h0M153.8 352.6h0M186.3 353.2h0M180.8 352h0M190.4 353.1h0M172.6 353.4h0M140 352.2h0M182.2 354.6h0M199.9 354.2h0M164.3 352.7h0M205.4 353.7h0M160.6 353.1h0M180.5 352.8h0M192 353.7h0M185.7 352.6h0M153.2 353.2h0M162.3 352.4h0M186.1 352.7h0M160.1 353.2h0M157.4 354.4h0M197.3 354.1h0M226.3 353.4h0M176.1 353.9h0M179.8 352.4h0M156.7 354.1h0M153.3 352.7h0M160.2 354.4h0M195.8 353.6h0M193 354.5h0M173.1 352.3h0M195.7 354.6h0M183.9 354.5h0M169.8 352.1h0M180 354.6h0M157.8 352.2h0M188.6 354.4h0M202.2 353.8h0M160.9 354.6h0M228.3 353.8h0M164.2 353.5h0M219.6 353.5h0M171.6 352.4h0M154.7 353h0M177.9 353.2h0M161.3 354.4h0M156.1 352.7h0M181 353.6h0M153.3 352.3h0M170.3 353.3h0M188.9 354.5h0M190.6 353.1h0" stroke="#4ca9df" stroke-width="3.2" stroke-linecap="round"/>
<path d="M196.8 350.9h0M181.1 350.8h0M188 351.1h0M180.5 350.2h0M153.5 349.4h0M149.4 350.2h0M195.8 351.6h0M198.6 349.4h0M190.3 349.5h0M182.2 351.3h0M192.5 351.3h0M172.7 349.3h0M152.7 349.5h0M148.5 351.9h0M196.3 351.8h0M189.9 351.3h0M190.5 351.7h0M170.9 351.3h0M192.6 350.3h0M158.8 349.7h0M152.9 351.4h0M192 350.1h0M170.8 349.6h0M189.1 349.5h0M187.3 351.2h0M188.1 351.3h0M191 350.9h0M155.4 349.9h0M136.3 349.4h0M176.7 351.4h0M171.4 349.7h0M158.6 349.5h0M178.7 351.1h0M188.8 351.4h0M155 351.4h0M180.2 349.8h0M163.2 349.5h0M176.6 350h0M190.7 350.2h0M187.6 350.4h0M170.8 351.2h0M185.8 350h0M199.2 351.8h0M172.5 350.4h0M140.2 351.7h0M186 351.5h0M159.7 351.4h0M194 350.3h0M193.6 349.5h0M158 350h0M179.6 351.3h0M197.7 349.5h0M169.9 350.5h0M155.6 349.8h0M182.6 351.4h0M184.8 351h0M192.4 351.9h0M196.4 349.9h0M182.1 351.5h0M158 349.8h0M232.8 351.2h0M189.1 350.6h0M179.7 349.6h0M194.7 350.4h0M182.9 349.5h0M197.4 351h0M189.1 350.1h0M189.5 349.6h0M180.3 350.3h0M207 349.7h0M180.6 351.1h0M178.9 351.7h0M194 351.4h0M201.1 350.3h0M155.7 349.6h0M156 350.5h0M149.9 350.7h0M172.3 350.3h0M162.9 350.3h0M158.6 349.3h0M174.2 349.8h0M185.6 349.7h0M220.5 350.9h0M156.8 351.3h0M158.1 349.3h0M187.4 349.9h0M200.9 349.4h0M176.4 350.6h0M253.8 351.4h0M170.6 350.8h0M196.3 350.2h0M189.4 351.6h0M170.1 350.3h0M196.6 349.4h0M158.2 350.4h0M185.4 350h0M158.1 350.7h0M170.3 351.3h0M150.7 350.2h0M182.4 350.7h0M179.1 349.4h0M180.3 351.6h0M177.5 351.3h0M200.7 350h0M161.2 349.6h0M173.2 350.7h0M188 349.5h0M164.7 350.3h0M148.1 349.9h0M160.3 349.4h0M150.7 350.6h0M174.8 351.5h0M164.2 351.4h0M189 349.4h0M173.4 350h0M184.6 351.7h0M195.6 349.7h0M157 349.8h0M164.8 351.1h0M170.3 351.8h0M182.1 349.4h0M172.9 350.9h0M197.4 349.8h0M187.7 350.6h0M205.5 350.7h0M178.4 350.4h0M157.2 350.4h0M193.8 349.6h0M208.1 350.9h0M178.9 351.6h0M180.7 351h0" stroke="#4eb1e2" stroke-width="3.2" stroke-linecap="round"/>
<path d="M157.1 348.9h0M185 348.1h0M178.8 346.7h0M151.7 349h0M161.1 349.1h0M151.2 347.5h0M190 347.8h0M192.1 347.9h0M180.5 347.4h0M158.5 347.5h0M172.2 347.8h0M180.6 348.1h0M178.9 347.2h0M157.1 348.6h0M180 347.9h0M164.9 348.3h0M165.4 347.7h0M184.9 346.9h0M180.7 347.9h0M206.2 348.9h0M171.1 348.1h0M203.8 347.7h0M173.4 348.7h0M182.3 348.4h0M191.4 348.3h0M149.5 349h0M189.1 348.8h0M151.2 349h0M206.1 348.4h0M200.7 347.3h0M165.3 348.1h0M183.8 349.1h0M146.2 348.5h0M177.2 347.7h0M203.3 346.9h0M180.3 347.6h0M188.3 346.7h0M161.8 346.7h0M192.8 348.3h0M218.6 348.7h0M192.5 346.9h0M189 347.7h0M171.2 348.7h0M163 347.8h0M179.5 348.8h0M175.3 347.1h0M193.4 347.7h0M189.5 346.9h0M162.2 348.9h0M157.9 348.8h0M186 348.6h0M194.9 347.9h0M174 349.2h0M175 349h0M196.5 347.5h0M182.8 349.2h0M155.9 348.7h0M156.4 348.8h0M180 349h0M185.5 346.7h0M154.2 348.3h0M155.2 347.2h0M184.9 348.2h0M180.9 349h0M161 347.8h0M180.9 348.5h0M187.7 348.3h0M154.1 347.4h0M172.5 347.5h0M188 348.5h0M155.9 347.7h0M175.3 347.9h0M152.9 348.3h0M195 346.7h0M161.2 349.1h0M210.1 348.7h0M185.2 348.1h0M181.2 348.3h0M190.8 346.8h0M170.3 347.7h0M198.6 348.5h0M195.8 347.5h0M162.2 348.3h0M152.1 347.6h0M182.2 347.1h0M188.8 348.9h0M177.5 347.6h0M162 348.4h0M226.5 348.9h0M155.1 346.6h0M185.7 348.7h0M178.2 346.6h0M192.9 348.5h0M180.4 346.6h0M190.3 347.9h0M191.4 347h0M186 348.4h0M163.1 348.8h0M169.8 347.5h0M187.2 347h0M192 347.2h0M192.1 348.3h0M186.4 348h0M198.7 347.1h0M172.7 347.4h0M176.2 347.7h0M182.5 348.6h0M171.8 349h0M190.3 347.1h0M193.7 348h0M179.1 349.1h0M185.9 347.1h0M182.1 347.8h0M176.6 347.3h0M153.1 348.3h0M182.9 347.1h0M163.6 348.5h0M183.4 349h0M164.7 346.6h0M157 347.8h0M155.6 348.7h0M196.2 348.3h0M188.7 346.7h0M198.4 348.4h0M170.7 347.2h0M178.8 347.1h0M191.6 347h0M158 346.8h0M173.9 348.6h0" stroke="#50b8e0" stroke-width="3.2" stroke-linecap="round"/>
<path d="M141.6 346h0M164.1 346.5h0M170.3 344.5h0M188.1 344.9h0M179.9 344.8h0M187.9 344.6h0M191.4 345.6h0M195.6 346.2h0M155.6 345.5h0M170.1 346h0M190.9 344.5h0M155.5 345.7h0M202.8 345h0M178.1 346.2h0M162 346h0M175.8 346.4h0M153.5 344.2h0M157.4 346.4h0M199.4 345h0M170.8 346.3h0M181.7 344h0M174.5 346.1h0M157.6 345.5h0M152.7 343.9h0M187.9 344.2h0M171.6 344.2h0M161.7 346h0M190.5 346.1h0M191.8 346.1h0M156.5 345.5h0M157.1 346.2h0M156.6 344h0M181.9 346h0M180.6 344.5h0M185.7 346.3h0M156.2 344.1h0M155 344.8h0M195.6 345.4h0M164.7 346.5h0M193.9 345.4h0M177.1 344.4h0M211.9 345h0M157.4 344.8h0M185.9 344.8h0M160.2 344.9h0M155.5 345.7h0M169.8 344.9h0M186.5 346h0M157.9 344.4h0M154.7 346.5h0M187.3 346.1h0M155.1 346h0M152.6 346.4h0M158.3 346.2h0M184.4 345.4h0M157.5 344.6h0M175.8 344h0M154.3 346.4h0M192 346h0M195.4 344.6h0M188.6 346h0M156.9 345.5h0M164.7 345.7h0M197.9 345.9h0M161.1 345h0M173.7 345.6h0M186.9 345.1h0M199.2 344.6h0M187.6 344h0M157.4 345.1h0M194.8 346.5h0M155.3 344.2h0M194.9 345h0M150 344.4h0M161.3 345.9h0M187.2 344.9h0M173.5 346.3h0M193.8 346.3h0M192.3 345.5h0M145 344.6h0M175.2 344.2h0M181.9 346.2h0M180.7 344.4h0M180.5 345.8h0M194.1 345.7h0M157.4 346.1h0M196.2 344.9h0M183.3 346.1h0M158.1 345.5h0M183 345.8h0M172 345.9h0M186.9 346h0M160.9 344.5h0M198.2 344.6h0M172.1 346.5h0M177.9 346.4h0M187.2 343.9h0M173.2 344.8h0M170.6 346.2h0M161.8 345.9h0M153.5 346.1h0M186.8 345.8h0M177.6 346.5h0M178.8 345.1h0M176.5 345.2h0M188.2 345h0M162 345.4h0M177.9 344h0M160.6 344.8h0M169.6 346.4h0M174.1 346.5h0M159.3 345.7h0M193.7 344.3h0M182.2 344.6h0M157.8 344.2h0M188.2 344.1h0M152.2 344.2h0M161 345.6h0M161.4 344.3h0M185.1 345.8h0M179.7 343.8h0M178.6 345.9h0M182.4 346h0M188.9 344h0M171.1 344.1h0M177.4 345.4h0M157.6 344.9h0M194.6 346.4h0" stroke="#53bedf" stroke-width="3.2" stroke-linecap="round"/>
<path d="M154.6 343.7h0M182.7 343.1h0M178.5 342.8h0M169.8 341.3h0M158.5 342.2h0M196.6 342.2h0M153.7 342.7h0M170.2 343.3h0M178.3 343.5h0M165.1 342.9h0M172.3 343.6h0M159.8 343.3h0M170.9 342.2h0M161.8 341.6h0M175.3 342.9h0M164.9 341.6h0M162.1 342.7h0M183.4 341.4h0M158.7 343.2h0M187.4 342h0M152.8 342.1h0M191.9 342.9h0M187.9 341.2h0M165 343.5h0M155.6 341.5h0M148.4 343h0M174 342.5h0M152.5 343.2h0M151.2 342.7h0M191.8 343.4h0M181.7 343h0M185.3 341.6h0M180.1 342.2h0M182 342.6h0M193.2 341.8h0M190.4 341.8h0M156.9 343.2h0M193.7 342.9h0M153 343.6h0M179.2 343.7h0M163.2 341.9h0M163.5 342.6h0M153.7 343.8h0M174.8 342h0M186 342.2h0M153.9 343.1h0M153 341.4h0M161.2 342.7h0M170.4 343h0M180.8 343.4h0M154.9 343.7h0M159.2 341.9h0M154.8 341.6h0M188.4 342h0M177.3 343.5h0M172.4 342.1h0M156.1 343.3h0M159.8 342h0M170.9 341.7h0M189.6 341.9h0M178.6 342.1h0M177.5 341.1h0M178.1 342.3h0M177.3 343.3h0M193.4 343.7h0M183 342.6h0M174.9 343h0M180.3 341.4h0M200.6 342.5h0M183.1 342.1h0M158.8 342.9h0M190.1 342.5h0M199.2 342h0M163.6 343.6h0M186.8 343.6h0M152.3 343.4h0M187.5 342.1h0M152.8 343.5h0M165.4 343.1h0M201.2 342.2h0M186.9 342.4h0M189.6 343h0M180.3 341.7h0M172.2 341.6h0M164.3 341.2h0M191.2 343.1h0M171.3 343.1h0M176.7 341.5h0M184 342.8h0M171.3 342.2h0M187.6 342.5h0M165.2 341.5h0M203.9 342.7h0M185.2 343.4h0M193.3 341.9h0M189.3 341.3h0M187.8 341.7h0M176.1 342.7h0M186.2 343.7h0M158.3 342.7h0M193.3 341.2h0M160.7 343.8h0M153.2 341.8h0M195.5 341.4h0M160.4 343.6h0M153.5 341.5h0M189.3 341.9h0M163.2 341.9h0M173.8 342.4h0M176.8 342.2h0M155.3 342.9h0M161.5 343h0M169.9 342.8h0M181.9 341.7h0M161 342.9h0M190.4 342.5h0M173.7 342.9h0M171 343h0M173.3 343.7h0M188.7 342.6h0M191.5 341.7h0M159.8 341.2h0M151.6 343.3h0M159 341.6h0" stroke="#55c5dd" stroke-width="3.2" stroke-linecap="round"/>
<path d="M189.2 338.9h0M163 340h0M182.8 340.2h0M161.2 338.7h0M156.1 339.9h0M190.3 339.8h0M172.4 340.3h0M154.3 339.7h0M176.6 338.8h0M174 339.5h0M172.7 339.9h0M165.4 339h0M161.6 339.8h0M189.8 338.8h0M172.6 340.3h0M196.7 340.6h0M149.2 338.8h0M173.5 339.8h0M189.3 339.6h0M162.8 340.2h0M189.7 339h0M186.7 341h0M171.9 338.5h0M175.7 340.9h0M155.9 339.5h0M192.9 339.3h0M151.4 338.8h0M173 340.5h0M152.6 340.8h0M184 340.5h0M175.3 338.7h0M196.8 340.2h0M183 340.8h0M180.7 339.5h0M159.6 340.5h0M195.5 338.9h0M191.7 340.5h0M190.6 341.1h0M174.5 338.5h0M179 339.2h0M208.4 339.8h0M174.3 340.7h0M194.7 339.3h0M160.6 339.4h0M156.3 339.7h0M197 340.4h0M188.8 339.5h0M189.3 340.7h0M173.3 339.1h0M197.3 338.7h0M198.9 338.8h0M170.7 340.1h0M182.4 339.8h0M169.3 341h0M197.9 340.6h0M183.5 340.7h0M182.3 339.6h0M177.8 339.5h0M187.3 340.1h0M185.4 340.2h0M180.2 341.1h0M178.1 340h0M152.6 339.8h0M185.5 339.4h0M163.4 339.8h0M190.8 339.7h0M152.9 341h0M192.7 340.8h0M188.2 340.4h0M159.5 338.6h0M175.4 340.9h0M178.6 340.5h0M175.8 340.3h0M194.1 339.5h0M159.9 338.6h0M152 339.4h0M157 339h0M160 340.4h0M192.2 340.5h0M151.1 340h0M186.6 340h0M164.2 340.7h0M155.9 339.8h0M156.2 340.9h0M154.9 339.6h0M157.5 339.1h0M188 340.2h0M178.7 340.8h0M164.5 339.3h0M185.6 339.2h0M183.5 340.6h0M154.7 338.8h0M163.1 341h0M165 338.5h0M192.6 340.9h0M175.4 338.6h0M160.1 340.2h0M183.6 340.5h0M189.9 340.7h0M158.6 340.7h0M174.4 340.3h0M172.8 339.2h0M180.9 340.1h0M192.8 340.5h0M192 338.5h0M159.2 341h0M177.6 339.7h0M186.7 340.7h0M185.6 340.2h0M191.4 339.5h0M151.4 341h0M150.6 340.8h0M191.3 340.2h0M179.1 340.3h0M170.6 339.1h0M164.6 339.3h0" stroke="#58cbdc" stroke-width="3.2" stroke-linecap="round"/>
<path d="M162.5 338.4h0M194.5 338.4h0" stroke="#58cbdc" stroke-width="3.6" stroke-linecap="round"/>
<path d="M185.9 336.3h0M199.8 337h0M196.6 337.8h0M195.1 336.8h0M190.2 336.8h0M181.4 338.3h0M181.1 337.7h0M163.2 336.8h0M178.8 336.8h0M182.4 338.2h0M159.2 335.8h0M198.2 338.1h0M181.4 337h0M185.6 336.1h0M164.5 337.5h0M178.5 336.2h0M188.9 337.1h0M195.8 337.8h0M177.5 337.7h0M154.9 335.8h0M152.3 338.3h0M157.2 338.3h0M156.1 337.5h0M175.5 335.9h0M154 336.1h0M180.5 336.4h0M154.7 335.9h0M184.1 336.8h0M180.6 337.1h0M184 337.3h0M191.9 337.6h0M197.9 335.8h0M181.8 337.1h0M185.5 336h0M154.2 337.5h0M182.8 335.8h0M181.3 335.7h0M155.8 336.3h0M152.3 338.4h0M190.4 337h0M198.2 336h0M188.9 336.9h0M164 338.2h0M158 337.6h0M172.2 338h0M170 338h0M162.9 336.6h0M200.8 337.8h0M181.2 338.1h0M161.8 337.7h0M161.3 335.7h0M185.3 335.9h0M186.7 336.3h0M189.6 335.9h0M152.2 336.2h0M156.9 337.3h0M186.4 337.6h0M154.1 335.8h0M159.1 337.3h0M156.1 338h0M158.5 337.2h0M180.8 335.7h0M179.2 336.9h0M180 336.9h0M179.4 336.2h0M198.6 335.8h0M188.8 337.6h0M165.4 336.7h0M148 338.2h0M187.7 337.4h0M162.1 338.2h0M159.1 336.4h0M185.2 335.9h0M179.2 336.5h0M173.5 338.4h0M179.4 337.4h0M179.3 337.8h0M162.6 337.6h0M152.7 338.3h0M181.7 335.8h0M160.9 337.2h0M157.5 337.5h0M174.5 336.5h0M161.2 336.1h0M189.4 337.1h0M182.1 336.8h0M175.8 336.8h0M177.8 338.2h0M181.8 337.7h0M154.2 337.3h0M159.7 336.3h0M158.3 336.2h0M193.3 337.1h0M175.5 337.4h0M161 337.9h0M183.6 336.2h0M153.1 337.3h0M161.9 337.8h0M179.2 338.3h0M165.4 336.7h0M162.9 336.3h0M182 338h0M164 336.7h0M152.2 336.8h0M214.1 338.1h0M204.4 335.8h0" stroke="#63cecf" stroke-width="3.6" stroke-linecap="round"/>
<path d="M180.2 334.5h0M186.4 335.1h0M163.8 334.4h0M176.5 334.7h0M187.3 334.1h0M183.7 334h0M164.3 335.3h0M192.2 334.5h0M155.1 335.5h0M180 334.3h0M171.8 333.2h0M191.3 334.2h0M158.5 334.5h0M154.8 333.5h0M159.8 334.6h0M169.6 333.7h0M172.7 334.6h0M184.3 334.8h0M157.1 333.1h0M179.6 333h0M156.8 333.4h0M160.5 334.7h0M176.9 334.9h0M189.5 335.2h0M196.9 334.3h0M190.2 333.2h0M170.1 335.1h0M156.1 335.4h0M171.4 334.8h0M170.1 333.1h0M197.1 333.9h0M177.3 335.3h0M169.6 334h0M156.7 333.3h0M200.5 333.7h0M158.4 333.6h0M162.3 334.3h0M173.5 335.3h0M179.8 333.7h0M186.8 335h0M155.1 335.3h0M185.2 333.5h0M151.7 333h0M198.7 334.9h0M198 333.6h0M191.4 335.6h0M179.1 333.8h0M170.9 334.2h0M195.3 333.1h0M195.9 335.6h0M185.5 333.5h0M178.4 333h0M191.9 333.2h0M172.8 335.2h0M158.2 333h0M195.7 335.6h0M149 333.7h0M182.1 334.7h0M188.2 333h0M189.1 333.9h0M186.2 333.7h0M188.5 334.7h0M190.7 334h0M164.2 334.8h0M187.2 334.5h0M184.3 333.6h0M194.2 335.1h0M182.8 334.4h0M192.9 335.1h0M197.9 333.8h0M185.4 334.6h0M187.1 333.3h0M185 333.5h0M197.5 333.5h0M189 333.1h0M189.8 333.6h0M192.1 335.1h0M188.4 335.3h0M179.1 334.4h0M172.2 333.4h0M196.3 334.9h0M194.7 333.5h0M164.5 334.6h0M189.4 333.7h0M164.5 334.9h0M188 334.9h0M160.5 334.7h0M172.8 335.4h0M156.7 335h0M182.4 334.5h0M161.4 334h0M189 334.6h0M178 334.8h0M181.1 333.7h0M187.7 334.8h0M198 334.1h0M158.3 335.2h0M147.6 334h0M191.7 334.7h0M161.4 333.5h0M196.5 334h0M158.9 335.5h0M173.4 334.1h0M178.3 334.5h0M187.4 333.8h0M152.6 333.1h0M172.9 334.1h0M160.2 333.9h0M159.9 334.5h0M161.7 333.8h0M161.9 335.1h0M158.3 333.4h0M175.2 333.6h0M194.5 335.4h0M196.9 333.8h0M187.8 334.8h0M189.9 333.8h0M188.8 334.5h0M197.2 333.2h0M192 333.8h0" stroke="#6ed1c1" stroke-width="3.6" stroke-linecap="round"/>
<path d="M195.4 331.6h0M161.1 331.8h0M176.2 332.5h0M162.7 330.7h0M190.3 330.6h0M200.5 330.8h0M186.6 332.9h0M184.4 331.4h0M175 332.5h0M189.4 332.3h0M198.4 331.5h0M164.7 332.5h0M160.7 331.8h0M175.8 331.8h0M185.7 332.6h0M187.1 332h0M153.8 330.4h0M191.1 330.4h0M153.5 332.6h0M183.9 332.8h0M183.1 330.6h0M185.7 331.5h0M159.2 332.4h0M154.6 331.3h0M158.3 332.9h0M187.2 332.3h0M162.2 331.6h0M174.1 332.8h0M183.6 330.4h0M157.2 330.5h0M198.2 332.2h0M185.7 331.9h0M152.1 332.6h0M170.4 331.9h0M196.5 332h0M174.6 332.6h0M175.5 332h0M164.8 331.2h0M196.6 332.4h0M196.9 330.4h0M177.7 332.6h0M173.7 330.6h0M154.7 332h0M177.5 330.4h0M197.5 330.8h0M170.7 330.6h0M154.5 331.8h0M227.2 332.3h0M188.4 331.7h0M188.6 331.2h0M193.1 332.5h0M164.6 330.8h0M182.7 331.3h0M190.4 330.9h0M198.3 332.7h0M191.3 331h0M155.9 331.4h0M184.9 331.2h0M185.1 332.4h0M174.9 330.6h0M174.3 331.4h0M154.3 332.9h0M176.9 330.8h0M199.6 330.9h0M186.7 331.4h0M180.5 332.4h0M191.8 332.1h0M163.8 331.6h0M180.9 332.5h0M192.1 332.1h0M150.6 331.4h0M161 331h0M197.1 332.3h0M179.2 330.5h0M198 330.3h0M178.6 331.1h0M190.6 331.1h0M157 331.7h0M161.5 332.7h0M173.4 332.4h0M203.1 332.5h0M175.8 331.4h0M185.6 330.8h0M192.6 332.2h0M189.9 332.6h0M160.8 332.7h0M159.6 332.7h0M187 331.1h0M151.7 331h0M186.8 332.6h0M191.7 331h0M183 332h0M185.4 332.9h0M174.9 330.3h0M155.4 332.9h0M187.8 332.9h0M194.3 330.7h0M182.8 331h0M196.4 332.3h0M155.5 331.3h0M174.5 330.6h0M162.4 331.1h0M161.2 331.3h0M186.4 331.6h0M193.9 332.9h0M160 330.6h0M153 331.4h0M171.1 330.9h0M175.2 332h0M177.6 330.8h0M152.6 332.1h0M194.2 332h0M150 330.4h0M196.9 331.5h0M156.7 330.5h0" stroke="#79d4b4" stroke-width="3.6" stroke-linecap="round"/>
<path d="M180.4 330.2h0M192.3 330.1h0M193.3 330.2h0M194.9 330.1h0M180.1 327.5h0M163.6 330.2h0M155 328.3h0M170.9 329.7h0M156.1 328.3h0M181.4 327.8h0M186.9 329.7h0M185.5 329.6h0M175.5 327.9h0M185 328.5h0M192.8 327.6h0M155.6 328.4h0M178.5 328.1h0M183.7 328h0M153.5 329.3h0M174.9 328.6h0M152 328.7h0M187.4 329h0M172.4 329.2h0M188.6 328.6h0M150.1 328.1h0M169.5 328h0M193 327.9h0M186 329.7h0M172.8 328.5h0M153.8 328.7h0M184.2 328.2h0M191.3 329.8h0M183.7 328h0M199.1 330.1h0M194.1 329.8h0M172.5 330h0M173.3 330.1h0M179.1 328.4h0M184.1 329.2h0M179.8 327.8h0M192.6 329.4h0M170 329.8h0M189.5 329.1h0M220.5 328.3h0M155.7 328.9h0M184.2 329.7h0M186.7 328.8h0M193 329.1h0M196.5 329.4h0M193.8 328.8h0M175.9 328.8h0M151.7 327.7h0M171.6 329.2h0M194 329.5h0M181.9 327.8h0M157.7 329.3h0M188.2 328.8h0M187.3 328.7h0M173.4 328.8h0M184.1 327.6h0M191.9 329.4h0M193.5 328.8h0M153.6 329.1h0M187.9 328.6h0M186.2 329.2h0M161.6 328.5h0M170 328.1h0M173.8 329.1h0M201.8 330.2h0M196 328.7h0M188.8 329h0M179.7 328.2h0M159.9 327.9h0M180 327.6h0M152.4 329.8h0M184.5 329h0M170.8 329.6h0M162.9 328.7h0M176.8 329.1h0M157.5 330.2h0M189.7 328.8h0M184.2 327.8h0M203.9 327.8h0M150.3 329.9h0M194.7 329h0M174.6 329.2h0M152.9 327.8h0M176.5 327.7h0M161.5 327.7h0M156.4 328.4h0M198.6 328.9h0M160.4 330h0M173.6 329.5h0M151.5 329.1h0M191.6 329.9h0M158.8 328.8h0M186.3 329.3h0M176.5 328.1h0M192.9 328.5h0M154.2 328.1h0M157.6 329.2h0M190.9 328.4h0M195.9 329.4h0M171.9 329.9h0M171.3 329.1h0" stroke="#84d7a7" stroke-width="3.6" stroke-linecap="round"/>
<path d="M163 326.3h0M175.6 326.7h0M185.1 326.4h0M194.3 325.1h0M163.5 325.4h0M193.2 327.3h0M178.3 325h0M182.6 326.4h0M189.1 327.5h0M180.3 327.2h0M198.1 325.4h0M180.2 325.3h0M197.7 327.4h0M191.6 327.1h0M158.4 327.5h0M177.1 326.4h0M160.6 325.8h0M195.7 325h0M163.5 327.4h0M189.7 326.8h0M170.5 325.3h0M184.9 326.8h0M193.9 325.3h0M186.7 326.9h0M169.6 325.9h0M189.2 325.7h0M178.4 326.1h0M158 326.1h0M162.6 326.8h0M191.2 327.2h0M155.8 326.1h0M175.1 326.3h0M162.3 326.1h0M187.8 326.7h0M157.3 325h0M191.2 325.8h0M178.6 326.5h0M156.1 327.1h0M160.3 327.4h0M197.5 325.7h0M148.4 325.7h0M157.6 325.1h0M158.6 326.2h0M155.8 324.9h0M195.2 326.1h0M153.8 326.2h0M185.7 326.2h0M195.8 326.8h0M185.3 327.2h0M171.7 327.4h0M188.3 325.4h0M164.9 326.2h0M164.6 327.1h0M183.3 327.2h0M152.2 325h0M180.6 327.3h0M174.8 327.2h0M173.8 327.5h0M159.3 326.1h0M192.2 325.2h0M159.5 326.2h0M150.2 325.9h0M155.9 325.7h0M159.4 326.2h0M188.7 325.2h0M180.2 327.1h0M179.5 324.8h0M161.7 326.8h0M157.5 327.1h0M160.4 327.2h0M186 326.1h0M186.5 326.9h0M178.3 325.7h0M174.6 325.5h0M150.2 327.5h0M180.9 325.8h0M186.2 325.1h0M158.4 326h0M180 324.9h0M188.2 325.1h0M191.1 325h0M159.7 324.8h0M189.9 326.3h0M183.7 325.9h0M180.9 325.8h0M176.7 327h0M194.1 326.4h0M162 327.3h0M158 325.6h0M190.3 325.7h0M154.9 325.7h0M170.8 327.5h0M161.7 325.5h0M157.9 327.4h0M196.1 325h0M186.4 327.2h0M183 325.2h0M156.6 327.3h0M156.8 325.4h0M148.8 326.8h0M188.5 325.3h0M162.2 326.9h0M179 325.2h0M175.5 327.5h0M165 325.7h0M159 324.8h0M161 327.1h0" stroke="#93db94" stroke-width="3.6" stroke-linecap="round"/>
<path d="M153.2 324.4h0M181.5 323h0M156.4 323h0M182.2 322.2h0M173.1 324.5h0M149 323.7h0M154 322.6h0M183.9 322.1h0M172.2 324.4h0M190 324.2h0M185.2 322.7h0M179.2 324.5h0M174.5 324.7h0M187.6 324.4h0M156 323h0M196.6 323.8h0M177.4 324.5h0M179.3 324h0M172.5 323.1h0M186.5 324h0M188.1 322.9h0M156.7 323.9h0M208.5 322.7h0M151.5 323.7h0M178 322.5h0M194 322.3h0M179.6 323h0M155.2 324.4h0M190 323.3h0M186.7 323.6h0M161.5 323.2h0M171 322.7h0M182.5 323.1h0M194.6 323.2h0M158.6 322.8h0M179.3 324.7h0M152.7 324.7h0M161.5 322.8h0M182.7 323.6h0M164.5 323.7h0M185.2 324.4h0M199.4 322.3h0M163.6 322.8h0M158.3 322.7h0M189 324.7h0M190.6 324.3h0M157.9 324.7h0M193.6 323.3h0M152 322.7h0M182.9 324.3h0M162.6 323.4h0M178.9 323.6h0M159.9 324.6h0M180.4 322.7h0M164.3 323.8h0M155.9 322.6h0M187.1 324.3h0M190.9 322.4h0M180.8 322.6h0M196.4 323.5h0M160 324.4h0M161.6 323.7h0M154.4 322.5h0M160.9 322.7h0M191.1 324.5h0M198.8 324.3h0M162.5 323.1h0M188.2 323.2h0M193.8 323.4h0M164 324.8h0M194.3 323.7h0M162.5 323.7h0M173.3 324.4h0M177.2 322.3h0M174.6 323.7h0M151 322.9h0M178.3 322.4h0M162 323h0M159.3 323.7h0M159.7 324.3h0M178.6 323.6h0M150.5 323.5h0M193 324.4h0M177.5 323h0M149.6 323h0M162.8 322.6h0M162.8 323.2h0M182 322.2h0M156.7 323.3h0M160.5 322.4h0M163 322.4h0M178.8 324.3h0M155.3 323.4h0M177.5 322.1h0M164.9 323.5h0M153.1 322.8h0M151.7 323.1h0M188.7 323.5h0M189.3 323h0M187.6 324.8h0M212.5 323.6h0" stroke="#a4de7f" stroke-width="3.6" stroke-linecap="round"/>
<path d="M180.5 321.9h0M191.2 321.8h0M173 322h0M177 321.8h0M176.7 321.9h0M158.1 322h0M196 321.8h0M153.9 321.8h0M161.9 321.9h0M190.8 321.9h0M170.6 321.9h0" stroke="#b5e26a" stroke-width="3.6" stroke-linecap="round"/>
<path d="M163.9 319.4h0M190.1 320.4h0M192.1 319.9h0M195.1 320.1h0M153.2 320.2h0M153.3 319.8h0M190.8 321.6h0M156.1 320.8h0M158.7 320.9h0M195.2 320.2h0M162.6 320.7h0M176.1 321.2h0M177.8 321.4h0M153 320.7h0M182.8 319.7h0M162.6 321.6h0M179.7 320.4h0M186.6 320.4h0M199 319.5h0M197.1 321h0M152.2 320.7h0M175.5 320.1h0M183.4 320.9h0M183 319.8h0M163.7 319.8h0M183 320.1h0M188.2 319.9h0M175.2 319.6h0M188.8 319.9h0M184 320.4h0M170.4 320.8h0M195.7 320.6h0M201.2 319.4h0M157.6 319.9h0M153.3 321h0M193.6 321.1h0M189.6 320.3h0M183.6 321.3h0M180.1 320h0M193.3 319.5h0M174.8 321.4h0M160.9 320.2h0M194 319.9h0M152.9 319.6h0M189.3 320.8h0M158 321.5h0M185.1 321.5h0M182.5 320.5h0M186.7 319.9h0M163.2 320.6h0M172.5 320.5h0M181.3 319.7h0M198.2 321.3h0M189.4 321.3h0M161.9 321h0M173 320.2h0M187.7 321.6h0M189.2 319.9h0M187.3 319.7h0M171.6 321.4h0M201.2 320.1h0M181.6 319.9h0M151.5 320.8h0M176.7 319.9h0M190 320.2h0M190.1 319.8h0M159.6 320.2h0M177.7 321.5h0M154.7 319.8h0M161.2 319.7h0M159.5 320h0M172.5 321.4h0M163.7 320.8h0M183.9 321.2h0M151.7 321.7h0M195.5 321.6h0M188.3 320.9h0M196 321.3h0M188.6 320.4h0M158.2 321.3h0M169.7 319.6h0M192.8 321.6h0M160.7 320.2h0M150.7 320.5h0M185.9 319.8h0M160.9 320.4h0M150.3 320.2h0M156.5 321.1h0M191.1 319.9h0M185.5 321.2h0M190.9 320.1h0M189.9 321.5h0" stroke="#b5e26a" stroke-width="4" stroke-linecap="round"/>
<path d="M162.6 317.5h0M182.9 317.5h0M194.6 318.7h0M208.7 318.2h0M161.2 317.3h0M153.1 316.8h0M175.1 316.7h0M153.2 319.1h0M158.4 317.5h0M146.5 317h0M154.6 317.4h0M160.8 317h0M172.5 318.4h0M173.6 318.6h0M187.3 319.3h0M174 317.1h0M153.7 317.2h0M188.7 316.7h0M160 317h0M155.9 317.2h0M153.8 318.5h0M158.3 317.7h0M187.3 317.3h0M163.4 318.5h0M192.8 319h0M170.9 316.9h0M187.7 316.8h0M176.8 319.2h0M182.4 318.1h0M156.4 317.3h0M178.5 316.9h0M186.1 319.4h0M189.7 318.9h0M193.3 317.8h0M187.9 318.2h0M183.4 316.8h0M172.8 317.1h0M193.3 319.3h0M184.7 318.9h0M195.9 319h0M181.2 316.7h0M182.4 317.7h0M172 318.2h0M173.7 319h0M175.2 318.6h0M177.4 319.3h0M175.9 318.9h0M153.7 317.7h0M189.9 317.1h0M186.2 317.2h0M191.3 317.7h0M186.6 317h0M177.6 316.8h0M161.1 317h0M175.2 317.8h0M170.4 317.1h0M190.2 317.3h0M172.5 318.5h0M161.7 318.7h0M193.6 317.6h0M197.4 319.2h0M158.8 316.9h0M191.5 317h0M174.5 318.4h0M188.6 317.4h0M171.8 318.8h0M157.1 316.9h0M169.9 316.8h0M183.2 318.6h0M158.8 317h0M187.7 316.9h0M194 316.7h0M174.2 317.1h0M169.9 318.8h0M160.6 318.9h0M189.2 318.8h0M183.9 316.9h0M177 318h0M172.2 317.1h0M162.3 316.9h0M177.6 317.4h0M199.7 318.2h0M189.7 318h0M154.4 319.3h0M194.7 318.7h0M151.8 318.5h0M194.1 318.1h0M187.9 318.4h0M153.9 319.3h0M162.7 317h0" stroke="#c5e558" stroke-width="4" stroke-linecap="round"/>
<path d="M169.7 316.1h0M188 314h0M189.3 315.8h0M189.1 314.4h0M189.6 314.2h0M155.5 314.6h0M180.7 315.4h0M160.2 314.7h0M183.8 314h0M171.7 315.8h0M187.6 314.5h0M188.4 315.4h0M182.8 314.9h0M199 316.1h0M190.9 315.5h0M190.5 316h0M177.5 314.9h0M200.3 314h0M181.6 316.6h0M178.2 315.9h0M147.8 315.6h0M164.9 314.8h0M187.3 316.6h0M156 314.3h0M172.1 315.8h0M177.2 315.3h0M199 316.6h0M170.1 316.1h0M185 315.7h0M178.7 315.8h0M191.1 316.6h0M155.2 316.1h0M191 315.5h0M158.9 315.6h0M183.1 315.5h0M194.4 316.3h0M178.9 314.4h0M196.7 314.5h0M152 316.4h0M177.8 316.6h0M184.9 315.3h0M189.5 314.9h0M194.3 315.8h0M197.7 315.7h0M156.9 315.5h0M199.6 315.4h0M188.8 314.2h0M171.7 315.6h0M178.4 316.3h0M175.4 315.8h0M186 315.4h0M170.3 315.3h0M146.6 314.4h0M171.6 314.4h0M196.6 316.1h0M179.4 315.5h0M156.5 314.4h0M189.7 314.7h0M189.7 314.8h0M159.7 316.4h0M188.7 315.7h0M176.9 314.9h0M192.4 316.6h0M175.8 315.6h0M178.7 314.7h0M192.1 316.3h0M181.8 315.5h0M171.6 315.1h0M177.6 315h0M160.8 314.8h0M173.5 315.4h0M197.4 314.7h0M181.4 316.6h0M158.1 315.1h0M174.7 314.6h0M175 316.2h0M156.2 316.6h0M196.1 314.4h0M149.9 315.3h0M180.9 315.3h0M155.9 316.4h0M194.6 314.5h0M162.9 316.1h0M196.3 316.3h0M161.2 316.2h0" stroke="#d3e74c" stroke-width="4" stroke-linecap="round"/>
<path d="M163.9 313.9h0M201.6 313.1h0M183.9 311.7h0M171.5 311.5h0M191 312.9h0M190.1 313h0M157.1 312.1h0M175.8 313h0M157.3 312.3h0M180 313.6h0M174.5 313.6h0M181 311.9h0M171.6 311.5h0M197 313.9h0M155.4 312.1h0M157.5 312.3h0M159.3 312.6h0M184.9 311.8h0M195.8 311.3h0M189.1 312.9h0M195.9 313.1h0M188.1 313.8h0M193.8 313.8h0M190.7 311.2h0M210.9 312.7h0M173.2 312.5h0M174.4 313.1h0M183.5 311.6h0M151.8 311.3h0M191.4 311.8h0M170.2 313.2h0M177.1 313.9h0M178.1 311.4h0M159.1 312.6h0M144.6 313.1h0M194.8 312.4h0M186.4 311.4h0M177.3 312.4h0M181.8 313.9h0M182.3 313.1h0M173.6 312.1h0M189 312.2h0M175.9 311.7h0M181.2 313.5h0M156.6 311.6h0M172.9 312h0M190.1 312.9h0M187.9 312.4h0M159.3 312h0M176.8 313.3h0M151.8 311.8h0M164.2 311.3h0M180.1 313.3h0M193.3 311.3h0M197.2 311.3h0M184.5 313h0M185.7 313h0M172.1 312.4h0M185.4 312.3h0M191.5 313.8h0M157.1 312h0M202.5 311.5h0M190.9 312.7h0M164.1 312h0M161.6 311.3h0M176.6 311.2h0M176.2 312.1h0M171.8 312h0M173.4 311.3h0M186.8 311.3h0M164 312.2h0M178.9 311.4h0M186.7 312.2h0M184.1 311.5h0M179.2 313.6h0M157.1 311.3h0M184.9 311.6h0M176.1 313.1h0M179.9 312.3h0M176.6 312.4h0M189.6 313.5h0M156.6 312.2h0M189.6 313.2h0M190 312h0M175.8 313.8h0M190.9 313.3h0M174.5 313.7h0M193 313.9h0M194.8 312.3h0M170.8 313h0M155.5 313.3h0M191.6 313.8h0M171.5 311.9h0M185.5 312.1h0M188.8 311.6h0" stroke="#e1e940" stroke-width="4" stroke-linecap="round"/>
<path d="M181.1 308.9h0M173 309.2h0M181.7 310.6h0M179.1 310.9h0M189.8 310.7h0M186.6 309.1h0M197.5 309.5h0M186 310.9h0M191.4 308.6h0M158.9 310.8h0M193.2 311.1h0M162.3 308.7h0M197.4 311h0M188.5 310.1h0M187.7 309.1h0M186.4 309.9h0M188.6 310.5h0M195.5 310.8h0M160.9 309.6h0M191 309.8h0M177 310.9h0M186.5 309.5h0M175.6 310.9h0M185.7 310.9h0M191.7 309.5h0M190.7 310.7h0M179.4 309.8h0M209.2 309.4h0M193.7 309.1h0M192.3 310.1h0M178.9 310.1h0M160.2 310.3h0M194.6 310.4h0M172.9 310.6h0M151.8 310h0M193.3 310.4h0M187.2 310.6h0M176.2 309.2h0M177.6 310.4h0M142.7 310.8h0M182.8 309.5h0M175.3 310.7h0M196.1 311h0M186.4 309.6h0M173.2 310.7h0M176 308.7h0M191.3 311.1h0M191.3 308.6h0M189.5 309.2h0M175.9 309.4h0M183.9 309.2h0M191.5 308.6h0M150.1 310.9h0M186 309.6h0M179 310.6h0M155 310.8h0M155.2 309.4h0M194.1 309.2h0M176.1 310.4h0M193.6 308.6h0M180.3 310.9h0M170.5 309h0M177.1 310.6h0M175 309.7h0M176.1 311h0M189.8 309h0M173.8 309.5h0M176.1 311h0M187.3 310.4h0M157.2 309h0M180.1 309.6h0M187.3 310.1h0" stroke="#ede936" stroke-width="4" stroke-linecap="round"/>
<path d="M186 307.2h0M182.5 308.1h0M191.6 305.9h0M209.6 306.7h0M185.2 307.2h0M176 305.9h0M153.4 306h0M190.3 306.1h0M189.2 306.1h0M191.9 307.6h0M177.5 307.5h0M162.5 308h0M170.5 306.8h0M176.5 307.1h0M174.4 307h0M200 306.8h0M172 307.1h0M188 308.4h0M171.8 306.6h0M157 307.3h0M189.6 308h0M179.7 305.8h0M213.5 308.3h0M170 307h0M189.1 306.6h0M156.5 307.6h0M182.4 308.2h0M188.7 306.4h0M178.4 306.5h0M185.3 308h0M182.7 308.4h0M175.1 306h0M180.7 307.6h0M174.4 306.1h0M175.7 305.9h0M192.6 307h0M192.6 308h0M184.5 307.8h0M190 305.9h0M190.9 307.1h0M180.4 307.2h0M195 307.5h0M190.7 308.4h0M188.7 306.8h0M171.8 306.4h0M195.1 308h0M173.8 307h0" stroke="#efdd37" stroke-width="4" stroke-linecap="round"/>
<path d="M199.9 305.5h0M203.1 305.1h0M175.4 305.2h0M176.9 305.4h0M176.1 305.3h0M191.5 305.6h0M182.8 305.5h0M181.2 305.7h0" stroke="#f2d237" stroke-width="4" stroke-linecap="round"/>
<path d="M196.9 303.3h0M162.7 304.8h0M160.9 303.3h0M164.2 303.5h0M199.5 303.6h0M183.3 303.4h0M176.9 304.9h0M181.2 304.6h0M178.6 303.6h0M188.6 304.6h0M194.2 304.5h0M184.5 303.9h0M137.5 303.5h0M170.8 304.2h0M164.8 304.7h0M175.6 304h0M184.6 303.1h0M174.4 304.1h0M151.5 304.1h0M183.3 304.9h0M187.7 304.4h0M171 303.3h0M172 303.8h0M181.7 303.8h0M189.5 303.9h0M155.6 303.2h0M155.9 303.9h0M179.2 304.2h0M182.7 303.8h0M191.1 303.1h0M152.9 304.2h0M170.9 304h0M178.5 303.2h0M189 303.1h0M177.6 303.9h0M181.3 303.2h0M187.1 303.1h0M173.9 303.7h0M185.6 304.8h0M179.6 304.5h0M185.8 303.2h0" stroke="#f2d237" stroke-width="4.4" stroke-linecap="round"/>
<path d="M150.7 302.6h0M172.3 300.6h0M179.9 302.1h0M178.7 301.7h0M180.2 302.1h0M151 301.2h0M176.2 301.8h0M195.1 301.5h0M175 302.5h0M182.1 301.5h0M153.8 301.7h0M179.6 302.1h0M182.5 303h0M175.1 300.6h0M176.3 301.2h0M184.1 301.7h0M174.7 302.3h0M159.8 300.4h0M181 300.5h0M188.4 301.6h0M200.2 301.5h0M182.7 301.9h0M178.1 303h0M196.9 301.9h0M189.1 302.1h0M200.3 302.3h0M183.6 300.4h0M172.3 302.2h0M172 302.3h0M189.5 301.2h0M177.4 300.9h0M184.9 302.2h0M191.4 302.7h0M190.1 301.1h0M155.4 302h0M174.9 302.6h0M175.3 302.3h0M174.5 302.9h0M182.8 301h0" stroke="#f5c738" stroke-width="4.4" stroke-linecap="round"/>
<path d="M184 299h0M170.2 299.7h0M176.1 297.9h0M159.9 300.1h0M182 299.4h0M174.5 299.9h0M178 299.6h0M176.2 300.2h0M162.7 300.2h0M175 299.5h0M181.1 300.1h0M178.8 297.8h0M160.1 299h0M198.4 298.9h0M183.5 300.1h0M176.5 300.1h0M196.5 299.3h0M190.7 299.4h0M187.7 300h0M177.4 297.8h0M178.5 299.5h0M176.1 298.3h0M178.1 298.3h0M193.6 297.9h0M175.2 299.1h0M188.6 299.9h0M179.5 298.8h0M176 299.2h0M191 298.9h0M176.8 298.6h0M195.1 299.4h0M190.7 300.3h0M189 300.1h0" stroke="#f6b938" stroke-width="4.4" stroke-linecap="round"/>
<path d="M199.1 295.3h0M176.4 297.2h0M180.6 295.9h0M181.3 295.3h0M179.4 295.3h0M159.5 296.5h0M182.4 296.8h0M179.1 297.4h0M154 297.4h0M181.7 297.4h0M191.1 295.8h0M163.7 297.5h0M174.5 296.2h0M174 296.9h0M188.5 296.4h0M157 295.7h0M202.5 295.5h0M150 296.3h0M171.4 296.2h0M153.1 295.6h0M185.8 296.1h0M190.2 297.1h0M172.4 296.2h0M186.1 296.3h0" stroke="#f5a938" stroke-width="4.4" stroke-linecap="round"/>
<path d="M194.9 293.5h0M178.9 294.8h0M192.6 293h0M184.7 293h0M171.8 292.5h0M156.1 293.2h0M190.7 293.7h0M176.2 294.9h0M157.6 294.4h0M170.4 293.1h0M209.4 292.3h0M171.2 292.9h0M180.5 294.5h0M149 292.2h0M183.7 292.3h0" stroke="#f49a38" stroke-width="4.4" stroke-linecap="round"/>
<path d="M203.3 290.9h0M177.6 290.1h0M187.3 290.8h0M178.6 289.5h0M173.1 289.7h0M200.2 291.1h0M179.1 290.9h0M188.6 290.7h0M190 291.6h0M186.8 290.1h0M198.7 289.9h0M196.6 291.2h0M150.6 291.6h0M158.4 291.2h0M182.7 291.8h0" stroke="#f38a38" stroke-width="4.4" stroke-linecap="round"/>
<path d="M177.4 289.2h0M203.1 289.4h0M184.2 289.3h0M154.8 289.3h0M157 289.3h0M196.7 288.7h0" stroke="#f27d3f" stroke-width="4.4" stroke-linecap="round"/>
<path d="M175.2 287.6h0M187.9 286.7h0M192.8 286.8h0M158.5 288h0M186.5 287.6h0M181.6 286.8h0" stroke="#f27d3f" stroke-width="4.8" stroke-linecap="round"/>
<path d="M185 285.5h0M181.2 286.2h0M179 284.3h0M179.5 286.1h0M184.4 286.6h0M178.1 286.3h0M174.7 284.5h0M211 284.7h0M204.2 285.1h0M193.1 285.9h0M150.5 284.6h0M207.3 285.7h0M198 286.5h0M153.9 286.5h0M184.7 286.7h0" stroke="#f06f45" stroke-width="4.8" stroke-linecap="round"/>
<path d="M192.4 282.1h0M195 281.6h0M189.6 283.2h0M181.3 283.8h0M201.5 283.9h0M194.8 281.8h0M180.5 282.6h0M178.3 281.7h0M163.9 283.2h0M180.2 281.6h0M196.9 283.3h0M175 283.1h0M198.7 281.7h0" stroke="#ef624c" stroke-width="4.8" stroke-linecap="round"/>
<path d="M190 281.2h0M185.1 279.1h0M175.2 279.3h0M176.1 280h0M177.8 280.6h0M205.6 278.7h0M195.1 280.7h0" stroke="#ed5753" stroke-width="4.8" stroke-linecap="round"/>
<path d="M204.5 277.6h0M155.2 278h0M170.5 278.1h0M200.5 278.5h0M193 278.1h0M184.7 277.1h0M188.1 276.1h0M189.6 278.3h0M193.2 278.4h0" stroke="#ea4f5c" stroke-width="4.8" stroke-linecap="round"/>
<path d="M178.5 275.2h0M195.1 273.2h0M173 274.5h0M182.5 273.5h0M206.7 274.8h0M196.3 274.1h0" stroke="#e84765" stroke-width="4.8" stroke-linecap="round"/>
<path d="M192.9 273h0M173.2 272.5h0M179.1 272.8h0" stroke="#e63f6e" stroke-width="4.8" stroke-linecap="round"/>
<path d="M183.8 270.9h0" stroke="#e63f6e" stroke-width="5.2" stroke-linecap="round"/>
<path d="M173 269.6h0M188.3 268.3h0M195 269h0M176 269h0" stroke="#e33776" stroke-width="5.2" stroke-linecap="round"/>
<path d="M197.6 263.5h0" stroke="#dd3272" stroke-width="5.2" stroke-linecap="round"/>
<path d="M177.5 259.7h0M173.2 261.4h0" stroke="#db306d" stroke-width="5.2" stroke-linecap="round"/>
<circle cx="60.7" cy="278.7" r="2.2" fill="#e85866"/>
<circle cx="129.3" cy="238.6" r="2.5" fill="#c8284c"/>
<circle cx="125.3" cy="284.6" r="2" fill="#ef6a4c"/>
<circle cx="141.2" cy="275.6" r="2.1" fill="#e6406c"/>
<circle cx="152.4" cy="274.4" r="2.2" fill="#e3387a"/>
<circle cx="155.6" cy="265.4" r="2.3" fill="#de3078"/>
<circle cx="142.1" cy="296.9" r="2" fill="#f3a03c"/>
<circle cx="100.7" cy="326" r="1.8" fill="#b6e268"/>
<circle cx="69.5" cy="338.2" r="1.6" fill="#8ad8b0"/>
<circle cx="89.3" cy="340.9" r="1.6" fill="#78d4c6"/>
<circle cx="59" cy="354.3" r="1.5" fill="#52c0e0"/>
<circle cx="43.8" cy="369.5" r="1.3" fill="#4682d0"/>
<circle cx="137.2" cy="329" r="1.6" fill="#a8dd86"/>
<circle cx="131.4" cy="333.3" r="1.6" fill="#94d8a0"/>
<circle cx="167.5" cy="234.8" r="3" fill="#b81f3a"/>
<circle cx="186.7" cy="242.9" r="2.4" fill="#d42c66"/>
<circle cx="188.3" cy="248.7" r="2.4" fill="#d82e6e"/>
<circle cx="204.7" cy="249.9" r="2.4" fill="#d82e6e"/>
<circle cx="211.2" cy="255.6" r="2.3" fill="#dc3074"/>
<circle cx="216.1" cy="262.1" r="2.2" fill="#de3278"/>
<circle cx="201.4" cy="263.4" r="2.3" fill="#de3278"/>
<circle cx="185.9" cy="257.6" r="2.3" fill="#dc3074"/>
<circle cx="181.8" cy="265.4" r="2.2" fill="#e0347a"/>
<circle cx="218.6" cy="285" r="2" fill="#f06a48"/>
<circle cx="216.1" cy="272.4" r="2.1" fill="#e8446c"/>
<circle cx="213.7" cy="298.1" r="1.9" fill="#f4a43a"/>
<circle cx="239.8" cy="303.4" r="1.9" fill="#ece838"/>
<circle cx="263.5" cy="307.1" r="1.9" fill="#eee63a"/>
<circle cx="293.4" cy="313.7" r="1.9" fill="#dce74a"/>
<circle cx="305.6" cy="328.8" r="1.7" fill="#a4de88"/>
<circle cx="320.8" cy="341.9" r="1.6" fill="#60cdd8"/>
<circle cx="320.8" cy="365.6" r="1.4" fill="#4a90d6"/>
<circle cx="307.7" cy="360.7" r="1.4" fill="#4aa0dc"/>
<circle cx="221" cy="305.5" r="1.8" fill="#ece838"/>
<circle cx="215.7" cy="307.1" r="1.8" fill="#ece838"/>
<circle cx="196" cy="246" r="2.3" fill="#d42c66"/>
<circle cx="193" cy="252" r="2.3" fill="#d82e6e"/>
<circle cx="198" cy="255" r="2.3" fill="#da3070"/>
<circle cx="207" cy="258" r="2.2" fill="#dc3074"/>
<circle cx="192" cy="260" r="2.2" fill="#de3278"/>
<circle cx="178" cy="270" r="2.1" fill="#e4407a"/>
<circle cx="200" cy="268" r="2.1" fill="#e4407a"/>
<circle cx="190" cy="266" r="2.2" fill="#e23a7a"/>
<circle cx="234" cy="335" r="1.6" fill="#6ccfd0"/>
<circle cx="241" cy="333" r="1.6" fill="#70d0cc"/>
<circle cx="252" cy="343" r="1.5" fill="#5ccbdc"/>
<circle cx="262" cy="350" r="1.5" fill="#50c0e0"/>
<circle cx="275" cy="357" r="1.4" fill="#4ab0e0"/>
<circle cx="283" cy="362" r="1.4" fill="#48a0dc"/>
<circle cx="252" cy="352" r="1.4" fill="#4ab0e0"/>
<circle cx="292" cy="366" r="1.3" fill="#4690d6"/>
<circle cx="228" cy="318" r="1.7" fill="#b0e070"/>
<circle cx="225" cy="326" r="1.7" fill="#98da90"/>
<circle cx="118" cy="342" r="1.5" fill="#70d0cc"/>
<circle cx="122" cy="353" r="1.4" fill="#50c0e0"/>
<circle cx="98" cy="358" r="1.4" fill="#4aa8de"/>
<circle cx="80" cy="362" r="1.3" fill="#4698da"/>
<rect x="35.6" y="212.5" width="328.9" height="175.9" fill="none" stroke="#444" stroke-width="0.8"/>
<line x1="134.6" y1="212.5" x2="134.6" y2="388.4" stroke="#333" stroke-width="0.6" stroke-dasharray="1.2 1"/>
<line x1="200.3" y1="212.5" x2="200.3" y2="388.4" stroke="#333" stroke-width="0.6" stroke-dasharray="1.2 1"/>
<line x1="35.6" y1="376.2" x2="364.5" y2="376.2" stroke="#222" stroke-width="0.65" stroke-dasharray="1.2 1"/>
<line x1="33.6" y1="388.7" x2="35.6" y2="388.7" stroke="#000" stroke-width="0.7"/>
<text x="32.1" y="390.8" font-size="6" text-anchor="end">0</text>
<line x1="33.6" y1="363.6" x2="35.6" y2="363.6" stroke="#000" stroke-width="0.7"/>
<text x="32.1" y="365.7" font-size="6" text-anchor="end">2</text>
<line x1="33.6" y1="338.5" x2="35.6" y2="338.5" stroke="#000" stroke-width="0.7"/>
<text x="32.1" y="340.6" font-size="6" text-anchor="end">4</text>
<line x1="33.6" y1="313.4" x2="35.6" y2="313.4" stroke="#000" stroke-width="0.7"/>
<text x="32.1" y="315.5" font-size="6" text-anchor="end">6</text>
<line x1="33.6" y1="288.3" x2="35.6" y2="288.3" stroke="#000" stroke-width="0.7"/>
<text x="32.1" y="290.4" font-size="6" text-anchor="end">8</text>
<line x1="33.6" y1="263.2" x2="35.6" y2="263.2" stroke="#000" stroke-width="0.7"/>
<text x="32.1" y="265.3" font-size="6" text-anchor="end">10</text>
<line x1="33.6" y1="238.1" x2="35.6" y2="238.1" stroke="#000" stroke-width="0.7"/>
<text x="32.1" y="240.2" font-size="6" text-anchor="end">12</text>
<line x1="33.6" y1="213" x2="35.6" y2="213" stroke="#000" stroke-width="0.7"/>
<text x="32.1" y="215.1" font-size="6" text-anchor="end">14</text>
<line x1="36" y1="388.4" x2="36" y2="390.4" stroke="#000" stroke-width="0.7"/>
<text x="36" y="396.9" font-size="6" text-anchor="middle">-4</text>
<line x1="101.7" y1="388.4" x2="101.7" y2="390.4" stroke="#000" stroke-width="0.7"/>
<text x="101.7" y="396.9" font-size="6" text-anchor="middle">-2</text>
<line x1="167.4" y1="388.4" x2="167.4" y2="390.4" stroke="#000" stroke-width="0.7"/>
<text x="167.4" y="396.9" font-size="6" text-anchor="middle">0</text>
<line x1="233.1" y1="388.4" x2="233.1" y2="390.4" stroke="#000" stroke-width="0.7"/>
<text x="233.1" y="396.9" font-size="6" text-anchor="middle">2</text>
<line x1="298.8" y1="388.4" x2="298.8" y2="390.4" stroke="#000" stroke-width="0.7"/>
<text x="298.8" y="396.9" font-size="6" text-anchor="middle">4</text>
<line x1="364.5" y1="388.4" x2="364.5" y2="390.4" stroke="#000" stroke-width="0.7"/>
<text x="364.5" y="396.9" font-size="6" text-anchor="middle">6</text>
<text x="200.2" y="407.2" font-size="7.4" text-anchor="middle" font-weight="bold" textLength="24.4" lengthAdjust="spacingAndGlyphs">Log2FC</text>
<text x="19.8" y="300.5" font-size="7.2" text-anchor="middle" font-weight="bold" transform="rotate(-90 19.8 300.5)" textLength="51" lengthAdjust="spacingAndGlyphs">-Log10(p-value)</text>
<text x="42.2" y="224.4" font-size="5.6" fill="#222">-log10_p-value</text>
<defs><linearGradient id="vcb" x1="0" y1="0" x2="0" y2="1"><stop offset="0.00" stop-color="#b01f38"/><stop offset="0.15" stop-color="#cf2a5a"/><stop offset="0.26" stop-color="#e2347a"/><stop offset="0.34" stop-color="#ee5a50"/><stop offset="0.40" stop-color="#f38a38"/><stop offset="0.46" stop-color="#f6c238"/><stop offset="0.52" stop-color="#eceb36"/><stop offset="0.57" stop-color="#c2e55a"/><stop offset="0.63" stop-color="#86d8a4"/><stop offset="0.70" stop-color="#58cbdc"/><stop offset="0.77" stop-color="#4db0e2"/><stop offset="0.85" stop-color="#4684d2"/><stop offset="0.92" stop-color="#3f5cb8"/><stop offset="1.00" stop-color="#383c9a"/></linearGradient></defs>
<rect x="42.5" y="231" width="8.3" height="63" fill="url(#vcb)"/>
<text x="54.5" y="234.2" font-size="6.2" fill="#222">13</text>
<text x="54.5" y="296" font-size="6.2" fill="#222">0</text>
<text x="49" y="273.3" font-size="6.8" fill="#222">Slc7a11</text>
<text x="121.8" y="232.6" font-size="6.8" fill="#222">Gpx4</text>
<text x="190" y="276" font-size="6.8" fill="#222">Mapk14</text>
<text x="386.4" y="214.5" font-size="29" font-weight="bold">e</text>
<text x="442.6" y="199.8" font-size="7.6" font-weight="bold" textLength="180.5" lengthAdjust="spacingAndGlyphs">Enrichment plot:WP_MAPK_SIGNALING_PATHWAY</text>
<line x1="431.4" y1="217.2" x2="634.8" y2="217.2" stroke="#999" stroke-width="0.5" stroke-dasharray="1 1.2"/>
<line x1="431.4" y1="235.6" x2="634.8" y2="235.6" stroke="#e6e6e6" stroke-width="0.4" stroke-dasharray="1 1.5"/>
<line x1="431.4" y1="254" x2="634.8" y2="254" stroke="#e6e6e6" stroke-width="0.4" stroke-dasharray="1 1.5"/>
<line x1="431.4" y1="272.4" x2="634.8" y2="272.4" stroke="#e6e6e6" stroke-width="0.4" stroke-dasharray="1 1.5"/>
<path d="M431.4 217.5 L434 218.2 L437 217.3 L440 216.9 L443 218 L446 218.5 L449 217.6 L452 218.3 L455 219 L458 218.2 L461.5 219.8 L463 216.5 L466 217.4 L469 216.8 L472 217.8 L475 217.5 L478 216.5 L481 216.9 L483 216.5 L486 219 L489 221.5 L491 223 L494.5 221.9 L497 223.2 L500.3 224.7 L505 228.5 L510.8 232.9 L520 240.5 L530 249 L540 257.4 L547 263 L553 267.2 L556.5 267.2 L561 270 L565.9 272.6 L570 274.8 L575.2 276.8 L581 280 L588.1 283.6 L592 285.5 L595.1 286.6 L597 284.3 L600 285.8 L602.1 287.1 L604.4 281.5 L608.6 281 L609.6 278.5 L613.3 278 L614.5 271.4 L616.6 270.3 L618.5 257.4 L620.1 249.3 L623.1 246.9 L625 241.1 L627.8 238.3 L629.7 234.8 L630.6 217.2" stroke="#3ef41e" stroke-width="1.9" fill="none" stroke-linejoin="round"/>
<text x="434.2" y="276.4" font-size="5.6" fill="#111">Nominal p−value: 0.033934254</text>
<text x="434.2" y="282.8" font-size="5.6" fill="#111">FDR: 0.31642386</text>
<text x="434.2" y="289.3" font-size="5.6" fill="#111">ES: −0.39208764</text>
<text x="434.2" y="295.8" font-size="5.6" fill="#111">Normalized ES: −1.3403167</text>
<path d="M620.1 297.1V328.4M543.9 297.1V328.4M480.5 297.1V328.4M581 297.1V328.4M567.5 297.1V328.4M569.5 297.1V328.4M525.4 297.1V328.4M476.9 297.1V328.4M560.8 297.1V328.4M453.9 297.1V328.4M571.1 297.1V328.4M559.7 297.1V328.4M507.9 297.1V328.4M592.4 297.1V328.4M471.3 297.1V328.4M510.6 297.1V328.4M592.3 297.1V328.4M508.6 297.1V328.4" stroke="#c8c8c8" stroke-width="0.8" fill="none"/>
<path d="M434.6 297.1V328.4M441.5 297.1V328.4M471.1 297.1V328.4M482.9 297.1V328.4M487.5 297.1V328.4M497.4 297.1V328.4M507.4 297.1V328.4M518.1 297.1V328.4M528.1 297.1V328.4M538.8 297.1V328.4M552.5 297.1V328.4M559.7 297.1V328.4M580.1 297.1V328.4M582.2 297.1V328.4M594.2 297.1V328.4M608.7 297.1V328.4M622.3 297.1V328.4M624.7 297.1V328.4" stroke="#b4b4b4" stroke-width="0.9" fill="none"/>
<path d="M431.8 297.1V328.4M444.6 297.1V328.4M469.1 297.1V328.4M500.8 297.1V328.4M512.8 297.1V328.4M522 297.1V328.4M549.6 297.1V328.4M573.4 297.1V328.4M596.6 297.1V328.4M602.3 297.1V328.4M629.2 297.1V328.4" stroke="#999" stroke-width="0.9" fill="none"/>
<path d="M449.2 297.1V328.4M451.5 297.1V328.4M455.8 297.1V328.4M475.2 297.1V328.4M479.8 297.1V328.4M503.6 297.1V328.4M510.5 297.1V328.4M531.6 297.1V328.4M558.1 297.1V328.4M564.5 297.1V328.4M568.5 297.1V328.4M632.8 297.1V328.4" stroke="#777" stroke-width="0.9" fill="none"/>
<path d="M437.7 297.1V328.4M457.6 297.1V328.4M462.2 297.1V328.4M466.8 297.1V328.4M473.2 297.1V328.4M515.8 297.1V328.4M535.6 297.1V328.4M542 297.1V328.4M544.8 297.1V328.4M554.1 297.1V328.4M562.1 297.1V328.4M575.8 297.1V328.4M589.1 297.1V328.4M591.8 297.1V328.4M615.9 297.1V328.4" stroke="#555" stroke-width="0.9" fill="none"/>
<path d="M464.5 297.1V328.4M476.7 297.1V328.4M478.3 297.1V328.4M492.1 297.1V328.4M525.8 297.1V328.4M533.5 297.1V328.4M611.1 297.1V328.4M617.5 297.1V328.4" stroke="#333" stroke-width="1.0" fill="none"/>
<path d="M439.5 297.1V328.4M447.2 297.1V328.4M453.8 297.1V328.4M459.9 297.1V328.4M485.2 297.1V328.4M490.5 297.1V328.4M493.2 297.1V328.4M499 297.1V328.4M508.9 297.1V328.4M520.4 297.1V328.4M547.7 297.1V328.4M555.4 297.1V328.4M566.1 297.1V328.4M571 297.1V328.4M587.5 297.1V328.4M603.9 297.1V328.4M606.3 297.1V328.4M613.8 297.1V328.4M619.1 297.1V328.4" stroke="#111" stroke-width="1.0" fill="none"/>
<defs><linearGradient id="strip" x1="0" x2="1" y1="0" y2="0"><stop offset="0" stop-color="#e41a1c"/><stop offset="0.17" stop-color="#e8383c"/><stop offset="0.18" stop-color="#ee6068"/><stop offset="0.28" stop-color="#f07880"/><stop offset="0.29" stop-color="#f0a0a8"/><stop offset="0.37" stop-color="#f4b8c0"/><stop offset="0.38" stop-color="#f8d8dc"/><stop offset="0.46" stop-color="#fae8ec"/><stop offset="0.47" stop-color="#e8e8f8"/><stop offset="0.57" stop-color="#dcdcf8"/><stop offset="0.58" stop-color="#b4b4f4"/><stop offset="0.67" stop-color="#a0a0f4"/><stop offset="0.68" stop-color="#7878f0"/><stop offset="0.78" stop-color="#6868f0"/><stop offset="0.79" stop-color="#3030ec"/><stop offset="0.97" stop-color="#1414e0"/><stop offset="0.985" stop-color="#f0f0ff"/></linearGradient></defs>
<rect x="431.4" y="328.4" width="203.4" height="6.2" fill="url(#strip)"/>
<text x="434.2" y="333.2" font-size="4" fill="#600">Positive</text>
<text x="613" y="333.2" font-size="4" fill="#113">Negative</text>
<path d="M432.6 368.3 L432.6 359.6 L433.6 360.7 L434.6 361.6 L435.6 362.4 L436.6 363 L437.6 363.6 L438.6 364 L439.6 364.4 L440.6 364.7 L441.6 365 L442.5 365.2 L443.5 365.4 L444.5 365.6 L445.5 365.7 L446.5 365.8 L447.5 365.9 L448.5 366 L449.5 366.1 L450.5 366.2 L451.5 366.3 L452.5 366.3 L453.5 366.4 L454.5 366.5 L455.5 366.5 L456.5 366.6 L457.5 366.6 L458.5 366.7 L459.5 366.7 L460.4 366.7 L461.4 366.8 L462.4 366.8 L463.4 366.8 L464.4 366.9 L465.4 366.9 L466.4 366.9 L467.4 367 L468.4 367 L469.4 367 L470.4 367.1 L471.4 367.1 L472.4 367.1 L473.4 367.2 L474.4 367.2 L475.4 367.2 L476.4 367.2 L477.4 367.3 L478.3 367.3 L479.3 367.3 L480.3 367.3 L481.3 367.4 L482.3 367.4 L483.3 367.4 L484.3 367.4 L485.3 367.5 L486.3 367.5 L487.3 367.5 L488.3 367.5 L489.3 367.5 L490.3 367.6 L491.3 367.6 L492.3 367.6 L493.3 367.6 L494.3 367.6 L495.3 367.7 L496.2 367.7 L497.2 367.7 L498.2 367.7 L499.2 367.7 L500.2 367.8 L501.2 367.8 L502.2 367.8 L503.2 367.8 L504.2 367.8 L505.2 367.8 L506.2 367.9 L507.2 367.9 L508.2 367.9 L509.2 367.9 L510.2 367.9 L511.2 367.9 L512.2 368 L513.2 368 L514.1 368 L515.1 368 L516.1 368 L517.1 368 L518.1 368.1 L519.1 368.1 L520.1 368.1 L521.1 368.1 L522.1 368.1 L523.1 368.1 L524.1 368.1 L525.1 368.2 L526.1 368.3 L527.1 368.3 L528.1 368.3 L529.1 368.3 L530.1 368.3 L531.1 368.4 L532 368.4 L533 368.4 L534 368.4 L535 368.4 L536 368.5 L537 368.5 L538 368.5 L539 368.6 L540 368.6 L541 368.6 L542 368.7 L543 368.7 L544 368.7 L545 368.8 L546 368.8 L547 368.8 L548 368.9 L549 368.9 L549.9 368.9 L550.9 369 L551.9 369 L552.9 369.1 L553.9 369.1 L554.9 369.2 L555.9 369.2 L556.9 369.2 L557.9 369.3 L558.9 369.3 L559.9 369.4 L560.9 369.4 L561.9 369.5 L562.9 369.5 L563.9 369.6 L564.9 369.6 L565.9 369.7 L566.9 369.7 L567.8 369.8 L568.8 369.8 L569.8 369.9 L570.8 370 L571.8 370 L572.8 370.1 L573.8 370.1 L574.8 370.2 L575.8 370.2 L576.8 370.3 L577.8 370.4 L578.8 370.4 L579.8 370.5 L580.8 370.5 L581.8 370.6 L582.8 370.7 L583.8 370.7 L584.8 370.8 L585.7 370.9 L586.7 370.9 L587.7 371 L588.7 371.1 L589.7 371.2 L590.7 371.2 L591.7 371.3 L592.7 371.4 L593.7 371.5 L594.7 371.5 L595.7 371.6 L596.7 371.7 L597.7 371.8 L598.7 371.9 L599.7 372 L600.7 372.1 L601.7 372.1 L602.7 372.2 L603.6 372.3 L604.6 372.4 L605.6 372.5 L606.6 372.7 L607.6 372.8 L608.6 372.9 L609.6 373 L610.6 373.1 L611.6 373.3 L612.6 373.4 L613.6 373.5 L614.6 373.7 L615.6 373.8 L616.6 374 L617.6 374.1 L618.6 374.3 L619.6 374.5 L620.6 374.7 L621.5 374.9 L622.5 375.1 L623.5 375.3 L624.5 375.6 L625.5 376 L626.5 376.5 L627.5 377.3 L628.5 378.9 L629.5 381.9 L630.5 388 L630.5 368.3Z" stroke="none" stroke-width="1" fill="#d4d4d4"/>
<line x1="526.2" y1="334.6" x2="526.2" y2="400.2" stroke="#bbb" stroke-width="0.5" stroke-dasharray="1 1.2"/>
<text x="498" y="367.5" font-size="8.2" textLength="62.3" lengthAdjust="spacingAndGlyphs">Zero cross at 8453</text>
<rect x="431.4" y="206.5" width="203.4" height="90.6" fill="none" stroke="#333" stroke-width="0.6"/>
<rect x="431.4" y="297.1" width="203.4" height="31.3" fill="none" stroke="#333" stroke-width="0.6"/>
<rect x="431.4" y="328.4" width="203.4" height="71.8" fill="none" stroke="#333" stroke-width="0.6"/>
<line x1="429.2" y1="217.2" x2="431.4" y2="217.2" stroke="#000" stroke-width="0.5"/>
<text x="427.2" y="217.2" font-size="6.3" text-anchor="middle" transform="rotate(-90 427.2 217.2)">0.0</text>
<line x1="429.2" y1="235.6" x2="431.4" y2="235.6" stroke="#000" stroke-width="0.5"/>
<text x="427.2" y="235.6" font-size="6.3" text-anchor="middle" transform="rotate(-90 427.2 235.6)">−0.1</text>
<line x1="429.2" y1="254" x2="431.4" y2="254" stroke="#000" stroke-width="0.5"/>
<text x="427.2" y="254" font-size="6.3" text-anchor="middle" transform="rotate(-90 427.2 254)">−0.2</text>
<line x1="429.2" y1="272.4" x2="431.4" y2="272.4" stroke="#000" stroke-width="0.5"/>
<text x="427.2" y="272.4" font-size="6.3" text-anchor="middle" transform="rotate(-90 427.2 272.4)">−0.3</text>
<line x1="429.2" y1="290.8" x2="431.4" y2="290.8" stroke="#000" stroke-width="0.5"/>
<text x="427.2" y="290.8" font-size="6.3" text-anchor="middle" transform="rotate(-90 427.2 290.8)">−0.4</text>
<text x="417.6" y="251.8" font-size="8.2" text-anchor="middle" transform="rotate(-90 417.6 251.8)" textLength="75.5" lengthAdjust="spacingAndGlyphs">Enrichment score (ES)</text>
<line x1="429.2" y1="334.7" x2="431.4" y2="334.7" stroke="#000" stroke-width="0.5"/>
<text x="427.2" y="334.7" font-size="6.2" text-anchor="middle" transform="rotate(-90 427.2 334.7)">4</text>
<line x1="429.2" y1="351.5" x2="431.4" y2="351.5" stroke="#000" stroke-width="0.5"/>
<text x="427.2" y="351.5" font-size="6.2" text-anchor="middle" transform="rotate(-90 427.2 351.5)">2</text>
<line x1="429.2" y1="368.3" x2="431.4" y2="368.3" stroke="#000" stroke-width="0.5"/>
<text x="427.2" y="368.3" font-size="6.2" text-anchor="middle" transform="rotate(-90 427.2 368.3)">0</text>
<line x1="429.2" y1="385.1" x2="431.4" y2="385.1" stroke="#000" stroke-width="0.5"/>
<text x="427.2" y="385.1" font-size="6.2" text-anchor="middle" transform="rotate(-90 427.2 385.1)">−2</text>
<text x="418" y="368" font-size="8.2" text-anchor="middle" transform="rotate(-90 418 368)" textLength="24.5" lengthAdjust="spacingAndGlyphs">SCORE</text>
<line x1="488.2" y1="400.2" x2="488.2" y2="402.4" stroke="#000" stroke-width="0.5"/>
<text x="488.2" y="406.8" font-size="6.2" text-anchor="middle">5000</text>
<line x1="543.7" y1="400.2" x2="543.7" y2="402.4" stroke="#000" stroke-width="0.5"/>
<text x="543.7" y="406.8" font-size="6.2" text-anchor="middle">10000</text>
<line x1="599.2" y1="400.2" x2="599.2" y2="402.4" stroke="#000" stroke-width="0.5"/>
<text x="599.2" y="406.8" font-size="6.2" text-anchor="middle">15000</text>
<text x="533" y="417.6" font-size="8.2" text-anchor="middle" textLength="82.3" lengthAdjust="spacingAndGlyphs">Rank in ordered gene list</text>
<text x="2.9" y="422.3" font-size="29" font-weight="bold">f</text>
<line x1="37.5" y1="429" x2="259.6" y2="429" stroke="#dcdcdc" stroke-width="1.4"/>
<path d="M97.5 429V431.1M98.8 429V433.2M100.1 429V435.4M103.3 429V440.6M105.9 429V441.5M108.5 429V440.6M111.7 429V443.8M114.9 429V449M116.2 429V451.1M118.8 429V455.3M120.1 429V457.5M122.7 429V461.7M124.3 429V464.3" stroke="#6aaeea" stroke-width="0.95" fill="none"/>
<path d="M126.9 429V468.6M128.2 429V470.7M130.8 429V475M132.1 429V477.1M135.3 429V482.3M136.9 429V484.9M138.5 429V487.5M141.7 429V493.1M143.3 429V496M145.3 429V499.6M146.6 429V501.9M149.2 429V506.6" stroke="#76c2ee" stroke-width="0.95" fill="none"/>
<path d="M151.8 429V511.3M155 429V517.1M156.6 429V520M158.6 429V523.7M160.2 429V526.5M161.5 429V528.9M163.5 429V532.5M166.7 429V538.3M168.7 429V541.9M171.9 429V546.8M174.5 429V549.8M177.1 429V552.9M178.7 429V554.8M180.3 429V556.6M181.9 429V557.9M184.5 429V560.1" stroke="#80d8f2" stroke-width="0.95" fill="none"/>
<path d="M186.1 429V561.4M187.7 429V562.8M189 429V563.9M191 429V565.6M193 429V567.2M195.6 429V569.4M197.2 429V570.8M199.8 429V573.1M201.4 429V574.8M203.4 429V576.9M205 429V578.6M207.6 429V581.3M210.8 429V584.7M212.8 429V586.8M215.4 429V588.5M217 429V588.7M218.6 429V588.9" stroke="#62e2f2" stroke-width="0.95" fill="none"/>
<path d="M222 429V586.4M224.2 429V580.9M225.4 429V577.8M227.6 429V572.3M229.2 429V568.2M231.4 429V564.8M232.6 429V558.5M233.8 429V551.4M235 429V546.6M237.2 429V527.1M239.4 429V502.1" stroke="#8aeebe" stroke-width="0.95" fill="none"/>
<path d="M240.6 429V497.4M242.2 429V492.5M243.4 429V488.8M244.6 429V485.2M246.8 429V478.7M249 429V472.2" stroke="#80e480" stroke-width="0.95" fill="none"/>
<path d="M103.5 429V441M105 429V443M106.2 429V441M109 429V442M110.3 429V443" stroke="#5c9ce0" stroke-width="0.8" fill="none"/>
<path d="M47.4 431.1 L49.6 427.6 L51.4 428.1 L53.7 429" stroke="#8a2be2" stroke-width="0.7" fill="none"/>
<path d="M53.7 429 L55.8 431.1 L57.5 429.4 L59.3 430.4 L61 431.6 L62.4 432.9 L64.5 429.4 L66.3 430.4 L68 431.1 L69.8 429.9 L71.5 431.6 L73.6 432.5 L75 434.3 L75.9 435.1 L77.1 427.3 L78.5 426.4 L80.3 428.1 L82 427.6 L83.8 430.4 L85.6 431.1 L87.3 431.6 L89.1 429.9 L90.8 429.4 L92.6 427.3 L94.3 427.6 L96.1 428.7" stroke="#6a7ef0" stroke-width="0.7" fill="none"/>
<path d="M96 428.7 L104.8 443 L107.4 439.5 L111.8 443.9 L140 490 L170.4 545 L180 556.3 L199 572.3 L214.3 588.4" stroke="#5cb8ec" stroke-width="0.7" fill="none"/>
<path d="M199 572.3 L214.3 588.4 L220.9 589.2" stroke="#40d8ee" stroke-width="0.7" fill="none"/>
<path d="M220.9 589.2 L229.6 567.2 L231.8 564.3 L233.3 553.4 L235.5 544.6 L237 530 L237.7 520 L238.5 510 L239.6 500.4" stroke="#60e070" stroke-width="0.7" fill="none"/>
<path d="M239.6 500.4 L244 487 L249.1 471.9" stroke="#90e040" stroke-width="0.7" fill="none"/>
<path d="M249.1 471.9 L249.6 465 L250 429.2" stroke="#e08a30" stroke-width="0.8" fill="none"/>
<line x1="220.9" y1="429" x2="220.9" y2="589.5" stroke="#ee3030" stroke-width="1.0"/>
<circle cx="220.9" cy="589.3" r="0.9" fill="#e00"/>
<line x1="37.5" y1="597.1" x2="37.5" y2="421.5" stroke="#000" stroke-width="0.8"/>
<path d="M35.6 423.5 L37.5 419.3 L39.4 423.5" stroke="#000" stroke-width="0.7" fill="none"/>
<line x1="37.5" y1="597.1" x2="260" y2="597.1" stroke="#000" stroke-width="0.8"/>
<path d="M258 595.2 L262.2 597.1 L258 599" stroke="#000" stroke-width="0.7" fill="none"/>
<line x1="36" y1="429" x2="37.5" y2="429" stroke="#000" stroke-width="0.5"/>
<text x="35" y="430.7" font-size="4.8" text-anchor="end" fill="#333">0.0</text>
<line x1="36" y1="470.9" x2="37.5" y2="470.9" stroke="#000" stroke-width="0.5"/>
<text x="35" y="472.6" font-size="4.8" text-anchor="end" fill="#333">−0.1</text>
<line x1="36" y1="512.8" x2="37.5" y2="512.8" stroke="#000" stroke-width="0.5"/>
<text x="35" y="514.5" font-size="4.8" text-anchor="end" fill="#333">−0.2</text>
<line x1="36" y1="554.7" x2="37.5" y2="554.7" stroke="#000" stroke-width="0.5"/>
<text x="35" y="556.4" font-size="4.8" text-anchor="end" fill="#333">−0.3</text>
<line x1="36" y1="596.6" x2="37.5" y2="596.6" stroke="#000" stroke-width="0.5"/>
<text x="35" y="598.3" font-size="4.8" text-anchor="end" fill="#333">−0.4</text>
<line x1="43.3" y1="597.1" x2="43.3" y2="598.6" stroke="#000" stroke-width="0.5"/>
<text x="43.3" y="603.8" font-size="4.8" text-anchor="middle" fill="#333">0</text>
<line x1="101.6" y1="597.1" x2="101.6" y2="598.6" stroke="#000" stroke-width="0.5"/>
<text x="101.6" y="603.8" font-size="4.8" text-anchor="middle" fill="#333">5000</text>
<line x1="159.9" y1="597.1" x2="159.9" y2="598.6" stroke="#000" stroke-width="0.5"/>
<text x="159.9" y="603.8" font-size="4.8" text-anchor="middle" fill="#333">10000</text>
<line x1="218.2" y1="597.1" x2="218.2" y2="598.6" stroke="#000" stroke-width="0.5"/>
<text x="218.2" y="603.8" font-size="4.8" text-anchor="middle" fill="#333">15000</text>
<text x="149.5" y="610" font-size="6.6" text-anchor="middle" fill="#111" textLength="79" lengthAdjust="spacingAndGlyphs">Target ranks at the leading edge</text>
<text x="23.8" y="508" font-size="5.6" text-anchor="middle" fill="#222" transform="rotate(-90 23.8 508)" textLength="64.5" lengthAdjust="spacingAndGlyphs">Running enrichment score</text>
<text x="244" y="429.9" font-size="4.6" fill="#222" font-style="italic">Dusp1</text>
<text x="234.9" y="451.9" font-size="4.6" fill="#222" font-style="italic">Mapk14</text>
<text x="250" y="465.6" font-size="4.6" fill="#222" font-style="italic">Fos</text>
<text x="236.4" y="475.8" font-size="4.6" fill="#222" font-style="italic">Ngf</text>
<text x="229.2" y="486.4" font-size="4.6" fill="#222" font-style="italic">Dusp6</text>
<text x="245.3" y="494.4" font-size="4.6" fill="#222" font-style="italic">Nr4a1</text>
<text x="227" y="496.6" font-size="4.6" fill="#222" font-style="italic">Hspb2</text>
<text x="223" y="507.3" font-size="4.6" fill="#222" font-style="italic">Egf</text>
<text x="229.8" y="515.6" font-size="4.6" fill="#222" font-style="italic">Prkcb</text>
<text x="241.2" y="520.4" font-size="4.6" fill="#222" font-style="italic">Map4k1</text>
<text x="221" y="524.4" font-size="4.6" fill="#222" font-style="italic">Pak1</text>
<text x="238.1" y="531.4" font-size="4.6" fill="#222" font-style="italic">Bdnf</text>
<text x="241.3" y="538.9" font-size="4.6" fill="#222" font-style="italic">Map3k8</text>
<text x="221.6" y="542.6" font-size="4.6" fill="#222" font-style="italic">Hspa1a</text>
<text x="239.9" y="550.3" font-size="4.6" fill="#222" font-style="italic">Rasgrp4</text>
<text x="211.4" y="550.6" font-size="4.6" fill="#222" font-style="italic">Hspa5</text>
<text x="220.9" y="557.6" font-size="4.6" fill="#222" font-style="italic">Ptpn5</text>
<text x="237.7" y="561.1" font-size="4.6" fill="#222" font-style="italic">Tgfb2</text>
<text x="215.8" y="563.7" font-size="4.6" fill="#222" font-style="italic">Pdgfb</text>
<text x="212.1" y="569.3" font-size="4.6" fill="#222" font-style="italic">Nlk</text>
<text x="243.5" y="569.8" font-size="4.6" fill="#222" font-style="italic">Mapk4</text>
<text x="231.8" y="575.1" font-size="4.6" fill="#222" font-style="italic">Daxx</text>
<text x="207" y="575.4" font-size="4.6" fill="#222" font-style="italic">Myc</text>
<text x="242" y="580.9" font-size="4.6" fill="#222" font-style="italic">Tnf</text>
<text x="197.5" y="582" font-size="4.6" fill="#222" font-style="italic">Pgm</text>
<text x="224.5" y="587.8" font-size="4.6" fill="#222" font-style="italic">Map3k12</text>
<text x="204.8" y="588.5" font-size="4.6" fill="#222" font-style="italic">Jund</text>
<text x="212.8" y="594.1" font-size="4.6" fill="#222" font-style="italic">Jun</text>
<path d="M225 549.5L233.5 552M217 567.5L231 570M238 568L243 568.5M214 573.5L228 576M208 580L225 578M216 586.5L219.5 587.5M241 579L230 575" stroke="#999" stroke-width="0.3" fill="none"/>
<defs><linearGradient id="rkf" x1="0" y1="0" x2="0" y2="1"><stop offset="0" stop-color="#8a00ff"/><stop offset="0.16" stop-color="#7a10ff"/><stop offset="0.3" stop-color="#4a80ff"/><stop offset="0.4" stop-color="#50e6f0"/><stop offset="0.55" stop-color="#80f060"/><stop offset="0.66" stop-color="#a8ea20"/><stop offset="0.74" stop-color="#d88020"/><stop offset="0.8" stop-color="#f83010"/><stop offset="1" stop-color="#ff1010"/></linearGradient></defs>
<rect x="268.9" y="490.7" width="3.6" height="42.7" fill="url(#rkf)"/>
<text x="275.2" y="497.7" font-size="4.4" fill="#222">0.5</text>
<text x="275.2" y="504.8" font-size="4.4" fill="#222">0.0</text>
<text x="275.2" y="512" font-size="4.4" fill="#222">−0.5</text>
<text x="275.2" y="518.9" font-size="4.4" fill="#222">−1.0</text>
<text x="275.2" y="525.9" font-size="4.4" fill="#222">−1.5</text>
<clipPath id="clipf"><rect x="260" y="470" width="27" height="30"/></clipPath>
<g clip-path="url(#clipf)">
<text x="268.9" y="486.6" font-size="6.2" fill="#222" font-style="italic">Rank Score</text>
</g>
<text x="273" y="423.6" font-size="29" font-weight="bold">g</text>
<line x1="307.3" y1="594.5" x2="529" y2="594.5" stroke="#dcdcdc" stroke-width="1.2"/>
<line x1="317.6" y1="432.2" x2="374.6" y2="467.4" stroke="#88f0b0" stroke-width="0.9"/>
<line x1="374.6" y1="467.4" x2="427.2" y2="505" stroke="#d89030" stroke-width="0.9"/>
<line x1="427.2" y1="505" x2="520.7" y2="562.7" stroke="#d89030" stroke-width="0.9"/>
<line x1="317.6" y1="432.2" x2="317.6" y2="594.5" stroke="#ee4040" stroke-width="1.0"/>
<line x1="374.6" y1="467.4" x2="374.6" y2="594.5" stroke="#dca050" stroke-width="0.8"/>
<line x1="427.2" y1="505" x2="427.2" y2="594.5" stroke="#d89030" stroke-width="0.8"/>
<line x1="520.7" y1="562.7" x2="520.7" y2="594.5" stroke="#ee4040" stroke-width="0.9"/>
<line x1="307.3" y1="601.9" x2="307.3" y2="425.5" stroke="#000" stroke-width="0.8"/>
<path d="M305.4 427.6 L307.3 423.4 L309.2 427.6" stroke="#000" stroke-width="0.7" fill="none"/>
<line x1="307.3" y1="601.9" x2="528" y2="601.9" stroke="#000" stroke-width="0.8"/>
<path d="M526 600 L530.2 601.9 L526 603.8" stroke="#000" stroke-width="0.7" fill="none"/>
<line x1="305.8" y1="594.5" x2="307.3" y2="594.5" stroke="#000" stroke-width="0.5"/>
<text x="304.8" y="596.2" font-size="4.8" text-anchor="end" fill="#333">0.00</text>
<line x1="305.8" y1="550.4" x2="307.3" y2="550.4" stroke="#000" stroke-width="0.5"/>
<text x="304.8" y="552.1" font-size="4.8" text-anchor="end" fill="#333">0.25</text>
<line x1="305.8" y1="506.3" x2="307.3" y2="506.3" stroke="#000" stroke-width="0.5"/>
<text x="304.8" y="508" font-size="4.8" text-anchor="end" fill="#333">0.50</text>
<line x1="305.8" y1="462.2" x2="307.3" y2="462.2" stroke="#000" stroke-width="0.5"/>
<text x="304.8" y="463.9" font-size="4.8" text-anchor="end" fill="#333">0.75</text>
<line x1="317.6" y1="601.9" x2="317.6" y2="603.4" stroke="#000" stroke-width="0.5"/>
<text x="317.6" y="608.5" font-size="4.8" text-anchor="middle" fill="#333">0</text>
<line x1="386.9" y1="601.9" x2="386.9" y2="603.4" stroke="#000" stroke-width="0.5"/>
<text x="386.9" y="608.5" font-size="4.8" text-anchor="middle" fill="#333">5000</text>
<line x1="456.1" y1="601.9" x2="456.1" y2="603.4" stroke="#000" stroke-width="0.5"/>
<text x="456.1" y="608.5" font-size="4.8" text-anchor="middle" fill="#333">10000</text>
<line x1="525.4" y1="601.9" x2="525.4" y2="603.4" stroke="#000" stroke-width="0.5"/>
<text x="525.4" y="608.5" font-size="4.8" text-anchor="middle" fill="#333">15000</text>
<text x="418" y="614.7" font-size="6.6" text-anchor="middle" fill="#111" textLength="78" lengthAdjust="spacingAndGlyphs">Target ranks at the leading edge</text>
<text x="293.8" y="513.2" font-size="5.6" text-anchor="middle" fill="#222" transform="rotate(-90 293.8 513.2)">Running enrichment score</text>
<text x="312.5" y="433.6" font-size="4.6" fill="#222" font-style="italic">Gpx4</text>
<text x="318.2" y="485.3" font-size="4.6" fill="#222" font-style="italic">Slc7a11</text>
<defs><linearGradient id="rkg" x1="0" y1="0" x2="0" y2="1"><stop offset="0" stop-color="#8a00ff"/><stop offset="0.16" stop-color="#7a10ff"/><stop offset="0.3" stop-color="#4a80ff"/><stop offset="0.4" stop-color="#50e6f0"/><stop offset="0.55" stop-color="#80f060"/><stop offset="0.66" stop-color="#a8ea20"/><stop offset="0.74" stop-color="#d88020"/><stop offset="0.8" stop-color="#f83010"/><stop offset="1" stop-color="#ff1010"/></linearGradient></defs>
<rect x="500.3" y="490.7" width="3.6" height="42.8" fill="url(#rkg)"/>
<text x="507" y="497.3" font-size="4.4" fill="#222">4</text>
<text x="507" y="505.1" font-size="4.4" fill="#222">3</text>
<text x="507" y="512.9" font-size="4.4" fill="#222">2</text>
<text x="507" y="520.7" font-size="4.4" fill="#222">1</text>
<text x="507" y="528.5" font-size="4.4" fill="#222">0</text>
<text x="500.4" y="486.6" font-size="6.2" fill="#222" font-style="italic">Rank Score</text>
<text x="530.1" y="459.5" font-size="29" font-weight="bold">h</text>
<line x1="587.1" y1="444" x2="587.1" y2="437.1" stroke="#000" stroke-width="0.8"/>
<line x1="585.1" y1="437.1" x2="589.1" y2="437.1" stroke="#000" stroke-width="0.8"/>
<rect x="582.2" y="444" width="9.7" height="59" fill="#000000"/>
<line x1="602.2" y1="497.2" x2="602.2" y2="495.3" stroke="#f46c93" stroke-width="0.8"/>
<line x1="600.2" y1="495.3" x2="604.2" y2="495.3" stroke="#f46c93" stroke-width="0.8"/>
<rect x="597.2" y="497.2" width="10" height="5.8" fill="#f0306e"/>
<line x1="617.3" y1="482" x2="617.3" y2="480.5" stroke="#6aa89c" stroke-width="0.8"/>
<line x1="615.3" y1="480.5" x2="619.3" y2="480.5" stroke="#6aa89c" stroke-width="0.8"/>
<rect x="612.3" y="482" width="10.1" height="21" fill="#3b8b7c"/>
<line x1="576" y1="427.2" x2="576" y2="503.5" stroke="#000" stroke-width="1"/>
<line x1="576" y1="503" x2="627.6" y2="503" stroke="#000" stroke-width="1"/>
<line x1="573.5" y1="503" x2="576" y2="503" stroke="#000" stroke-width="0.8"/>
<text x="572.2" y="505.1" font-size="6.2" text-anchor="end" font-weight="bold">0</text>
<line x1="573.5" y1="484" x2="576" y2="484" stroke="#000" stroke-width="0.8"/>
<text x="572.2" y="486.1" font-size="6.2" text-anchor="end" font-weight="bold">2</text>
<line x1="573.5" y1="465" x2="576" y2="465" stroke="#000" stroke-width="0.8"/>
<text x="572.2" y="467.1" font-size="6.2" text-anchor="end" font-weight="bold">4</text>
<line x1="573.5" y1="446" x2="576" y2="446" stroke="#000" stroke-width="0.8"/>
<text x="572.2" y="448.1" font-size="6.2" text-anchor="end" font-weight="bold">6</text>
<line x1="573.5" y1="427" x2="576" y2="427" stroke="#000" stroke-width="0.8"/>
<text x="572.2" y="429.1" font-size="6.2" text-anchor="end" font-weight="bold">8</text>
<line x1="587.2" y1="503" x2="587.2" y2="506" stroke="#000" stroke-width="0.8"/>
<line x1="602.3" y1="503" x2="602.3" y2="506" stroke="#000" stroke-width="0.8"/>
<line x1="617.4" y1="503" x2="617.4" y2="506" stroke="#000" stroke-width="0.8"/>
<line x1="587.2" y1="435.4" x2="601.9" y2="435.4" stroke="#000" stroke-width="1.1"/>
<path d="M589.4 426.9V431.4M587.5 428.1L591.4 430.3M587.5 430.3L591.4 428.1M594.5 426.9V431.4M592.6 428.1L596.5 430.3M592.6 430.3L596.5 428.1M599.6 426.9V431.4M597.7 428.1L601.6 430.3M597.7 430.3L601.6 428.1" stroke="#000" stroke-width="1.35" fill="none"/>
<line x1="603" y1="477.4" x2="617.5" y2="477.4" stroke="#000" stroke-width="1.1"/>
<path d="M605.1 468.9V473.4M603.2 470.1L607.1 472.3M603.2 472.3L607.1 470.1M610.2 468.9V473.4M608.3 470.1L612.2 472.3M608.3 472.3L612.2 470.1M615.4 468.9V473.4M613.4 470.1L617.3 472.3M613.4 472.3L617.3 470.1" stroke="#000" stroke-width="1.35" fill="none"/>
<text x="602.1" y="514.4" font-size="6.4" text-anchor="middle" font-weight="bold">Slc7a11</text>
<text x="565.8" y="464.7" font-size="7" text-anchor="middle" font-weight="bold" transform="rotate(-90 565.8 464.7)" textLength="50" lengthAdjust="spacingAndGlyphs">Expression level</text>
<rect x="627.2" y="430.3" width="8.4" height="4" fill="#000000"/>
<text x="639.7" y="434.8" font-size="6.8">CON</text>
<rect x="627.2" y="440.4" width="8.4" height="4" fill="#f0306e"/>
<text x="639.7" y="444.9" font-size="6.8">MOD</text>
<rect x="627.2" y="450.5" width="8.4" height="4" fill="#3b8b7c"/>
<text x="639.7" y="455" font-size="6.8">ASIV</text>
<line x1="588" y1="547.3" x2="588" y2="545.7" stroke="#000" stroke-width="0.8"/>
<line x1="586" y1="545.7" x2="590" y2="545.7" stroke="#000" stroke-width="0.8"/>
<rect x="584" y="547.3" width="7.9" height="56.9" fill="#000000"/>
<line x1="599.7" y1="578.4" x2="599.7" y2="576.8" stroke="#f46c93" stroke-width="0.8"/>
<line x1="597.7" y1="576.8" x2="601.7" y2="576.8" stroke="#f46c93" stroke-width="0.8"/>
<rect x="595.7" y="578.4" width="7.9" height="25.8" fill="#f0306e"/>
<line x1="611.7" y1="537.7" x2="611.7" y2="536.1" stroke="#6aa89c" stroke-width="0.8"/>
<line x1="609.7" y1="536.1" x2="613.7" y2="536.1" stroke="#6aa89c" stroke-width="0.8"/>
<rect x="607.7" y="537.7" width="7.9" height="66.5" fill="#3b8b7c"/>
<line x1="631.2" y1="596.8" x2="631.2" y2="595.2" stroke="#000" stroke-width="0.8"/>
<line x1="629.2" y1="595.2" x2="633.2" y2="595.2" stroke="#000" stroke-width="0.8"/>
<rect x="627.2" y="596.8" width="7.9" height="7.4" fill="#000000"/>
<line x1="643.5" y1="588.7" x2="643.5" y2="587.1" stroke="#f46c93" stroke-width="0.8"/>
<line x1="641.5" y1="587.1" x2="645.5" y2="587.1" stroke="#f46c93" stroke-width="0.8"/>
<rect x="639.5" y="588.7" width="7.9" height="15.5" fill="#f0306e"/>
<line x1="655.1" y1="596" x2="655.1" y2="594.4" stroke="#6aa89c" stroke-width="0.8"/>
<line x1="653.1" y1="594.4" x2="657.1" y2="594.4" stroke="#6aa89c" stroke-width="0.8"/>
<rect x="651.1" y="596" width="7.9" height="8.2" fill="#3b8b7c"/>
<line x1="579.6" y1="521" x2="579.6" y2="604.7" stroke="#000" stroke-width="1"/>
<line x1="579.6" y1="604.2" x2="663.8" y2="604.2" stroke="#000" stroke-width="1"/>
<line x1="577.1" y1="604.2" x2="579.6" y2="604.2" stroke="#000" stroke-width="0.8"/>
<text x="575.8" y="606.3" font-size="6.6" text-anchor="end" font-weight="bold">0</text>
<line x1="577.1" y1="587.6" x2="579.6" y2="587.6" stroke="#000" stroke-width="0.8"/>
<text x="575.8" y="589.7" font-size="6.6" text-anchor="end" font-weight="bold">50</text>
<line x1="577.1" y1="570.9" x2="579.6" y2="570.9" stroke="#000" stroke-width="0.8"/>
<text x="575.8" y="573" font-size="6.6" text-anchor="end" font-weight="bold">100</text>
<line x1="577.1" y1="554.3" x2="579.6" y2="554.3" stroke="#000" stroke-width="0.8"/>
<text x="575.8" y="556.4" font-size="6.6" text-anchor="end" font-weight="bold">150</text>
<line x1="577.1" y1="537.6" x2="579.6" y2="537.6" stroke="#000" stroke-width="0.8"/>
<text x="575.8" y="539.7" font-size="6.6" text-anchor="end" font-weight="bold">200</text>
<line x1="577.1" y1="521" x2="579.6" y2="521" stroke="#000" stroke-width="0.8"/>
<text x="575.8" y="523.1" font-size="6.6" text-anchor="end" font-weight="bold">250</text>
<line x1="599.6" y1="604.2" x2="599.6" y2="607.2" stroke="#000" stroke-width="0.8"/>
<line x1="643.4" y1="604.2" x2="643.4" y2="607.2" stroke="#000" stroke-width="0.8"/>
<line x1="587.6" y1="543.9" x2="601.4" y2="543.9" stroke="#000" stroke-width="1.1"/>
<path d="M589.4 535.4V539.9M587.5 536.6L591.3 538.8M587.5 538.8L591.3 536.6M594.5 535.4V539.9M592.6 536.6L596.4 538.8M592.6 538.8L596.4 536.6M599.6 535.4V539.9M597.7 536.6L601.5 538.8M597.7 538.8L601.5 536.6" stroke="#000" stroke-width="1.35" fill="none"/>
<line x1="598.8" y1="531.8" x2="611.3" y2="531.8" stroke="#000" stroke-width="1.1"/>
<path d="M599.9 523.3V527.8M598 524.5L601.9 526.7M598 526.7L601.9 524.5M605 523.3V527.8M603.1 524.5L607 526.7M603.1 526.7L607 524.5M610.1 523.3V527.8M608.2 524.5L612.1 526.7M608.2 526.7L612.1 524.5" stroke="#000" stroke-width="1.35" fill="none"/>
<line x1="630.4" y1="584.1" x2="643.1" y2="584.1" stroke="#000" stroke-width="1.1"/>
<path d="M631.6 575.6V580.1M629.7 576.8L633.6 579M629.7 579L633.6 576.8M636.8 575.6V580.1M634.8 576.8L638.7 579M634.8 579L638.7 576.8M641.9 575.6V580.1M639.9 576.8L643.8 579M639.9 579L643.8 576.8" stroke="#000" stroke-width="1.35" fill="none"/>
<line x1="642.2" y1="573.5" x2="655.8" y2="573.5" stroke="#000" stroke-width="1.1"/>
<path d="M643.9 565V569.5M642 566.2L645.8 568.4M642 568.4L645.8 566.2M649 565V569.5M647.1 566.2L650.9 568.4M647.1 568.4L650.9 566.2M654.1 565V569.5M652.2 566.2L656 568.4M652.2 568.4L656 566.2" stroke="#000" stroke-width="1.35" fill="none"/>
<text x="599.4" y="615" font-size="6.4" text-anchor="middle" font-weight="bold">Gpx4</text>
<text x="643.2" y="615" font-size="6.4" text-anchor="middle" font-weight="bold">Mapk14</text>
<text x="560.5" y="562.9" font-size="8" text-anchor="middle" font-weight="bold" transform="rotate(-90 560.5 562.9)" textLength="55" lengthAdjust="spacingAndGlyphs">Expression level</text>
<text x="5.9" y="637.1" font-size="29" font-weight="bold">i</text>
<defs><filter id="bl" x="-20%" y="-100%" width="140%" height="300%"><feGaussianBlur stdDeviation="0.7 0.5"/></filter><filter id="bl2" x="-20%" y="-100%" width="140%" height="300%"><feGaussianBlur stdDeviation="1.2 1.0"/></filter></defs>
<rect x="68.5" y="635.8" width="136.3" height="10.3" fill="#f5f5f5" stroke="#4a4a4a" stroke-width="0.9"/>
<line x1="69.5" y1="637" x2="203.8" y2="637" stroke="#cfcfcf" stroke-width="0.6"/>
<g filter="url(#bl)">
<rect x="70" y="640" width="9.6" height="2" rx="1.2" fill="#d0d0d0"/>
<rect x="81.1" y="640" width="9.6" height="2" rx="1.2" fill="#c9c9c9"/>
<rect x="92.2" y="640" width="9.6" height="2" rx="1.2" fill="#bababa"/>
<rect x="103.4" y="640" width="9.6" height="2" rx="1.2" fill="#424242"/>
<rect x="114.5" y="640" width="9.6" height="2" rx="1.2" fill="#646464"/>
<rect x="125.6" y="640" width="9.6" height="2" rx="1.2" fill="#424242"/>
<rect x="136.7" y="640" width="9.6" height="2" rx="1.2" fill="#c2c2c2"/>
<rect x="147.8" y="640" width="9.6" height="2" rx="1.2" fill="#cecece"/>
<rect x="159" y="640" width="9.6" height="2" rx="1.2" fill="#bebebe"/>
<rect x="170.1" y="640" width="9.6" height="2" rx="1.2" fill="#7a7a7a"/>
<rect x="181.2" y="640" width="9.6" height="2" rx="1.2" fill="#8c8c8c"/>
<rect x="192.3" y="640" width="9.6" height="2" rx="1.2" fill="#969696"/>
</g>
<text x="55.4" y="643" font-size="5.9" text-anchor="middle" fill="#111" font-family="'Liberation Serif', serif">p-p38</text>
<text x="207.5" y="643.1" font-size="5.6" font-family="'Liberation Serif', serif">43</text>
<rect x="68.5" y="647.5" width="136.3" height="10" fill="#f5f5f5" stroke="#4a4a4a" stroke-width="0.9"/>
<line x1="69.5" y1="648.7" x2="203.8" y2="648.7" stroke="#cfcfcf" stroke-width="0.6"/>
<g filter="url(#bl)">
<rect x="70" y="651" width="9.6" height="2.4" rx="1.2" fill="#202020"/>
<rect x="70.6" y="653.8" width="8.4" height="1.3" fill="#989898"/>
<rect x="81.1" y="651" width="9.6" height="2.4" rx="1.2" fill="#252525"/>
<rect x="81.7" y="653.8" width="8.4" height="1.3" fill="#9a9a9a"/>
<rect x="92.2" y="651" width="9.6" height="2.4" rx="1.2" fill="#2c2c2c"/>
<rect x="92.8" y="653.8" width="8.4" height="1.3" fill="#9d9d9d"/>
<rect x="103.4" y="651" width="9.6" height="2.4" rx="1.2" fill="#1c1c1c"/>
<rect x="104" y="653.8" width="8.4" height="1.3" fill="#979797"/>
<rect x="114.5" y="651" width="9.6" height="2.4" rx="1.2" fill="#2c2c2c"/>
<rect x="115.1" y="653.8" width="8.4" height="1.3" fill="#9d9d9d"/>
<rect x="125.6" y="651" width="9.6" height="2.4" rx="1.2" fill="#2c2c2c"/>
<rect x="126.2" y="653.8" width="8.4" height="1.3" fill="#9d9d9d"/>
<rect x="136.7" y="651" width="9.6" height="2.4" rx="1.2" fill="#2c2c2c"/>
<rect x="137.3" y="653.8" width="8.4" height="1.3" fill="#9d9d9d"/>
<rect x="147.8" y="651" width="9.6" height="2.4" rx="1.2" fill="#2c2c2c"/>
<rect x="148.4" y="653.8" width="8.4" height="1.3" fill="#9d9d9d"/>
<rect x="159" y="651" width="9.6" height="2.4" rx="1.2" fill="#2c2c2c"/>
<rect x="159.6" y="653.8" width="8.4" height="1.3" fill="#9d9d9d"/>
<rect x="170.1" y="651" width="9.6" height="2.4" rx="1.2" fill="#2c2c2c"/>
<rect x="170.7" y="653.8" width="8.4" height="1.3" fill="#9d9d9d"/>
<rect x="181.2" y="651" width="9.6" height="2.4" rx="1.2" fill="#373737"/>
<rect x="181.8" y="653.8" width="8.4" height="1.3" fill="#a2a2a2"/>
<rect x="192.3" y="651" width="9.6" height="2.4" rx="1.2" fill="#2c2c2c"/>
<rect x="192.9" y="653.8" width="8.4" height="1.3" fill="#9d9d9d"/>
</g>
<text x="55.4" y="654.5" font-size="5.9" text-anchor="middle" fill="#111" font-family="'Liberation Serif', serif">p38</text>
<text x="207.5" y="654.6" font-size="5.6" font-family="'Liberation Serif', serif">42</text>
<rect x="68.5" y="659.2" width="136.3" height="9.8" fill="#f5f5f5" stroke="#4a4a4a" stroke-width="0.9"/>
<line x1="69.5" y1="660.4" x2="203.8" y2="660.4" stroke="#cfcfcf" stroke-width="0.6"/>
<g filter="url(#bl)">
<rect x="70" y="663.4" width="9.6" height="2.2" rx="1.2" fill="#2c2c2c"/>
<rect x="81.1" y="663.4" width="9.6" height="2.2" rx="1.2" fill="#252525"/>
<rect x="92.2" y="663.4" width="9.6" height="2.2" rx="1.2" fill="#2c2c2c"/>
<rect x="103.4" y="663.4" width="9.6" height="2.2" rx="1.2" fill="#2c2c2c"/>
<rect x="114.5" y="663.4" width="9.6" height="2.2" rx="1.2" fill="#252525"/>
<rect x="125.6" y="663.4" width="9.6" height="2.2" rx="1.2" fill="#252525"/>
<rect x="136.7" y="663.4" width="9.6" height="2.2" rx="1.2" fill="#252525"/>
<rect x="147.8" y="663.4" width="9.6" height="2.2" rx="1.2" fill="#2c2c2c"/>
<rect x="159" y="663.4" width="9.6" height="2.2" rx="1.2" fill="#2c2c2c"/>
<rect x="170.1" y="663.4" width="9.6" height="2.2" rx="1.2" fill="#252525"/>
<rect x="181.2" y="663.4" width="9.6" height="2.2" rx="1.2" fill="#202020"/>
<rect x="192.3" y="663.4" width="9.6" height="2.2" rx="1.2" fill="#252525"/>
</g>
<text x="55.4" y="666.1" font-size="5.9" text-anchor="middle" fill="#111" font-family="'Liberation Serif', serif">GAPDH</text>
<text x="207.5" y="666.2" font-size="5.6" font-family="'Liberation Serif', serif">36</text>
<rect x="68.5" y="670.8" width="136.3" height="9.8" fill="#f5f5f5" stroke="#4a4a4a" stroke-width="0.9"/>
<line x1="69.5" y1="672" x2="203.8" y2="672" stroke="#cfcfcf" stroke-width="0.6"/>
<g filter="url(#bl)">
<rect x="70" y="674.5" width="9.6" height="2.6" rx="1.2" fill="#0e0e0e"/>
<rect x="81.1" y="674.5" width="9.6" height="2.6" rx="1.2" fill="#0a0a0a"/>
<rect x="92.2" y="674.5" width="9.6" height="2.6" rx="1.2" fill="#0a0a0a"/>
<rect x="103.4" y="674.5" width="9.6" height="2.6" rx="1.2" fill="#9c9c9c"/>
<rect x="114.5" y="674.5" width="9.6" height="2.6" rx="1.2" fill="#a8a8a8"/>
<rect x="125.6" y="674.5" width="9.6" height="2.6" rx="1.2" fill="#868686"/>
<rect x="136.7" y="674.5" width="9.6" height="2.6" rx="1.2" fill="#373737"/>
<rect x="147.8" y="674.5" width="9.6" height="2.6" rx="1.2" fill="#252525"/>
<rect x="159" y="674.5" width="9.6" height="2.6" rx="1.2" fill="#202020"/>
<rect x="170.1" y="674.5" width="9.6" height="2.6" rx="1.2" fill="#868686"/>
<rect x="181.2" y="674.5" width="9.6" height="2.6" rx="1.2" fill="#6f6f6f"/>
<rect x="192.3" y="674.5" width="9.6" height="2.6" rx="1.2" fill="#646464"/>
</g>
<text x="55.4" y="677.7" font-size="5.9" text-anchor="middle" fill="#111" font-family="'Liberation Serif', serif">SLC7A11</text>
<text x="207.5" y="677.8" font-size="5.6" font-family="'Liberation Serif', serif">55</text>
<rect x="68.5" y="682.1" width="136.3" height="11.3" fill="#f5f5f5" stroke="#4a4a4a" stroke-width="0.9"/>
<line x1="69.5" y1="683.3" x2="203.8" y2="683.3" stroke="#cfcfcf" stroke-width="0.6"/>
<g filter="url(#bl)">
<rect x="70" y="686.1" width="9.6" height="3.4" rx="1.2" fill="#0a0a0a"/>
<rect x="81.1" y="686.1" width="9.6" height="3.4" rx="1.2" fill="#151515"/>
<rect x="92.2" y="686.1" width="9.6" height="3.4" rx="1.2" fill="#151515"/>
<rect x="103.4" y="686.1" width="9.6" height="3.4" rx="1.2" fill="#0a0a0a"/>
<rect x="114.5" y="686.1" width="9.6" height="3.4" rx="1.2" fill="#0a0a0a"/>
<rect x="125.6" y="686.1" width="9.6" height="3.4" rx="1.2" fill="#0a0a0a"/>
<rect x="136.7" y="686.1" width="9.6" height="3.4" rx="1.2" fill="#151515"/>
<rect x="147.8" y="686.1" width="9.6" height="3.4" rx="1.2" fill="#151515"/>
<rect x="159" y="686.1" width="9.6" height="3.4" rx="1.2" fill="#151515"/>
<rect x="170.1" y="686.1" width="9.6" height="3.4" rx="1.2" fill="#151515"/>
<rect x="181.2" y="686.1" width="9.6" height="3.4" rx="1.2" fill="#0e0e0e"/>
<rect x="192.3" y="686.1" width="9.6" height="3.4" rx="1.2" fill="#0e0e0e"/>
</g>
<text x="55.4" y="689.8" font-size="5.9" text-anchor="middle" fill="#111" font-family="'Liberation Serif', serif">β-actin</text>
<text x="207.5" y="689.9" font-size="5.6" font-family="'Liberation Serif', serif">42</text>
<rect x="68.5" y="694.6" width="136.3" height="10.2" fill="#f5f5f5" stroke="#4a4a4a" stroke-width="0.9"/>
<line x1="69.5" y1="695.8" x2="203.8" y2="695.8" stroke="#cfcfcf" stroke-width="0.6"/>
<g filter="url(#bl)">
<rect x="70" y="698.6" width="9.6" height="2.4" rx="1.2" fill="#373737"/>
<rect x="81.1" y="698.6" width="9.6" height="2.4" rx="1.2" fill="#2c2c2c"/>
<rect x="92.2" y="698.6" width="9.6" height="2.4" rx="1.2" fill="#0e0e0e"/>
<rect x="103.4" y="698.6" width="9.6" height="2.4" rx="1.2" fill="#a8a8a8"/>
<rect x="114.5" y="698.6" width="9.6" height="2.4" rx="1.2" fill="#c9c9c9"/>
<rect x="125.6" y="698.6" width="9.6" height="2.4" rx="1.2" fill="#b3b3b3"/>
<rect x="136.7" y="698.6" width="9.6" height="2.4" rx="1.2" fill="#494949"/>
<rect x="147.8" y="698.6" width="9.6" height="2.4" rx="1.2" fill="#494949"/>
<rect x="159" y="698.6" width="9.6" height="2.4" rx="1.2" fill="#606060"/>
<rect x="170.1" y="698.6" width="9.6" height="2.4" rx="1.2" fill="#868686"/>
<rect x="181.2" y="698.6" width="9.6" height="2.4" rx="1.2" fill="#9c9c9c"/>
<rect x="192.3" y="698.6" width="9.6" height="2.4" rx="1.2" fill="#9c9c9c"/>
</g>
<text x="55.4" y="701.7" font-size="5.9" text-anchor="middle" fill="#111" font-family="'Liberation Serif', serif">GPX4</text>
<text x="207.5" y="701.8" font-size="5.6" font-family="'Liberation Serif', serif">17</text>
<rect x="68.5" y="706" width="136.3" height="9.5" fill="#f5f5f5" stroke="#4a4a4a" stroke-width="0.9"/>
<line x1="69.5" y1="707.2" x2="203.8" y2="707.2" stroke="#cfcfcf" stroke-width="0.6"/>
<g filter="url(#bl)">
<rect x="70" y="709.2" width="9.6" height="2.6" rx="1.2" fill="#1c1c1c"/>
<rect x="81.1" y="709.2" width="9.6" height="2.6" rx="1.2" fill="#202020"/>
<rect x="92.2" y="709.2" width="9.6" height="2.6" rx="1.2" fill="#202020"/>
<rect x="103.4" y="709.2" width="9.6" height="2.6" rx="1.2" fill="#1c1c1c"/>
<rect x="114.5" y="709.2" width="9.6" height="2.6" rx="1.2" fill="#202020"/>
<rect x="125.6" y="709.2" width="9.6" height="2.6" rx="1.2" fill="#202020"/>
<rect x="136.7" y="709.2" width="9.6" height="2.6" rx="1.2" fill="#252525"/>
<rect x="147.8" y="709.2" width="9.6" height="2.6" rx="1.2" fill="#202020"/>
<rect x="159" y="709.2" width="9.6" height="2.6" rx="1.2" fill="#252525"/>
<rect x="170.1" y="709.2" width="9.6" height="2.6" rx="1.2" fill="#1c1c1c"/>
<rect x="181.2" y="709.2" width="9.6" height="2.6" rx="1.2" fill="#151515"/>
<rect x="192.3" y="709.2" width="9.6" height="2.6" rx="1.2" fill="#151515"/>
</g>
<text x="55.4" y="712.8" font-size="5.9" text-anchor="middle" fill="#111" font-family="'Liberation Serif', serif">β-actin</text>
<text x="207.5" y="712.9" font-size="5.6" font-family="'Liberation Serif', serif">42</text>
<rect x="68.5" y="717.3" width="136.3" height="10.2" fill="#f5f5f5" stroke="#4a4a4a" stroke-width="0.9"/>
<line x1="69.5" y1="718.5" x2="203.8" y2="718.5" stroke="#cfcfcf" stroke-width="0.6"/>
<g filter="url(#bl)">
<rect x="70" y="720.8" width="9.6" height="2.2" rx="1.2" fill="#646464"/>
<rect x="81.1" y="720.8" width="9.6" height="2.2" rx="1.2" fill="#7a7a7a"/>
<rect x="92.2" y="720.8" width="9.6" height="2.2" rx="1.2" fill="#6f6f6f"/>
<rect x="103.4" y="720.8" width="9.6" height="2.2" rx="1.2" fill="#0a0a0a"/>
<rect x="114.5" y="720.8" width="9.6" height="2.2" rx="1.2" fill="#0a0a0a"/>
<rect x="125.6" y="720.8" width="9.6" height="2.2" rx="1.2" fill="#151515"/>
<rect x="136.7" y="720.8" width="9.6" height="2.2" rx="1.2" fill="#646464"/>
<rect x="147.8" y="720.8" width="9.6" height="2.2" rx="1.2" fill="#868686"/>
<rect x="159" y="720.8" width="9.6" height="2.2" rx="1.2" fill="#a8a8a8"/>
<rect x="170.1" y="720.8" width="9.6" height="2.2" rx="1.2" fill="#6f6f6f"/>
<rect x="181.2" y="720.8" width="9.6" height="2.2" rx="1.2" fill="#4e4e4e"/>
<rect x="192.3" y="720.8" width="9.6" height="2.2" rx="1.2" fill="#2c2c2c"/>
</g>
<g filter="url(#bl2)">
<rect x="103" y="718.5" width="10.4" height="7.8" fill="#8a8a8a" fill-opacity="0.4"/>
<rect x="114.1" y="718.5" width="10.4" height="7.8" fill="#8a8a8a" fill-opacity="0.4"/>
<rect x="125.2" y="718.5" width="10.4" height="7.8" fill="#8a8a8a" fill-opacity="0.4"/>
</g>
<text x="55.4" y="724.4" font-size="5.9" text-anchor="middle" fill="#111" font-family="'Liberation Serif', serif">LPO</text>
<text x="207.5" y="724.5" font-size="5.6" font-family="'Liberation Serif', serif">80</text>
<rect x="68.5" y="729.2" width="136.3" height="10.4" fill="#f5f5f5" stroke="#4a4a4a" stroke-width="0.9"/>
<line x1="69.5" y1="730.4" x2="203.8" y2="730.4" stroke="#cfcfcf" stroke-width="0.6"/>
<g filter="url(#bl)">
<rect x="70" y="733.5" width="9.6" height="2.4" rx="1.2" fill="#2c2c2c"/>
<rect x="81.1" y="733.5" width="9.6" height="2.4" rx="1.2" fill="#424242"/>
<rect x="92.2" y="733.5" width="9.6" height="2.4" rx="1.2" fill="#2c2c2c"/>
<rect x="103.4" y="733.5" width="9.6" height="2.4" rx="1.2" fill="#252525"/>
<rect x="114.5" y="733.5" width="9.6" height="2.4" rx="1.2" fill="#2c2c2c"/>
<rect x="125.6" y="733.5" width="9.6" height="2.4" rx="1.2" fill="#252525"/>
<rect x="136.7" y="733.5" width="9.6" height="2.4" rx="1.2" fill="#2c2c2c"/>
<rect x="147.8" y="733.5" width="9.6" height="2.4" rx="1.2" fill="#373737"/>
<rect x="159" y="733.5" width="9.6" height="2.4" rx="1.2" fill="#2c2c2c"/>
<rect x="170.1" y="733.5" width="9.6" height="2.4" rx="1.2" fill="#2c2c2c"/>
<rect x="181.2" y="733.5" width="9.6" height="2.4" rx="1.2" fill="#252525"/>
<rect x="192.3" y="733.5" width="9.6" height="2.4" rx="1.2" fill="#2c2c2c"/>
</g>
<text x="55.4" y="736.4" font-size="5.9" text-anchor="middle" fill="#111" font-family="'Liberation Serif', serif">β-actin</text>
<text x="207.5" y="736.5" font-size="5.6" font-family="'Liberation Serif', serif">42</text>
<text x="207.5" y="634" font-size="5.2" font-family="'Liberation Serif', serif">kDa</text>
<text x="56.7" y="746.8" font-size="5.2" text-anchor="middle" font-weight="bold" fill="#222" font-family="'Liberation Serif', serif">HG</text>
<text x="56.7" y="752.9" font-size="5.2" text-anchor="middle" font-weight="bold" fill="#222" font-family="'Liberation Serif', serif">AS-IV</text>
<text x="56.7" y="759.1" font-size="5.2" text-anchor="middle" font-weight="bold" fill="#222" font-family="'Liberation Serif', serif">C16-PAF</text>
<text x="88.3" y="746.8" font-size="5.2" text-anchor="middle" font-family="'Liberation Serif', serif">-</text>
<text x="120.6" y="746.8" font-size="5.4" text-anchor="middle" font-family="'Liberation Serif', serif">+</text>
<text x="153.9" y="746.8" font-size="5.4" text-anchor="middle" font-family="'Liberation Serif', serif">+</text>
<text x="186.7" y="746.8" font-size="5.4" text-anchor="middle" font-family="'Liberation Serif', serif">+</text>
<text x="88.3" y="752.9" font-size="5.2" text-anchor="middle" font-family="'Liberation Serif', serif">-</text>
<text x="120.6" y="752.9" font-size="5.2" text-anchor="middle" font-family="'Liberation Serif', serif">-</text>
<text x="153.9" y="752.9" font-size="5.4" text-anchor="middle" font-family="'Liberation Serif', serif">+</text>
<text x="186.7" y="752.9" font-size="5.4" text-anchor="middle" font-family="'Liberation Serif', serif">+</text>
<text x="88.3" y="759.1" font-size="5.2" text-anchor="middle" font-family="'Liberation Serif', serif">-</text>
<text x="120.6" y="759.1" font-size="5.2" text-anchor="middle" font-family="'Liberation Serif', serif">-</text>
<text x="153.9" y="759.1" font-size="5.2" text-anchor="middle" font-family="'Liberation Serif', serif">-</text>
<text x="186.7" y="759.1" font-size="5.4" text-anchor="middle" font-family="'Liberation Serif', serif">+</text>
<rect x="276.1" y="711.3" width="11.4" height="11" fill="#d8d8d8" stroke="#b0b0b0" stroke-width="0.7"/>
<line x1="281.8" y1="708.6" x2="281.8" y2="713.8" stroke="#333" stroke-width="0.7"/>
<line x1="280" y1="708.6" x2="283.6" y2="708.6" stroke="#333" stroke-width="0.7"/>
<line x1="280" y1="713.8" x2="283.6" y2="713.8" stroke="#333" stroke-width="0.7"/>
<line x1="281.8" y1="722.3" x2="281.8" y2="724.5" stroke="#000" stroke-width="0.7"/>
<rect x="292.7" y="670.7" width="11.4" height="51.6" fill="#f07878" stroke="#dc5a5a" stroke-width="0.7"/>
<line x1="298.4" y1="666.6" x2="298.4" y2="674.7" stroke="#333" stroke-width="0.7"/>
<line x1="296.6" y1="666.6" x2="300.2" y2="666.6" stroke="#333" stroke-width="0.7"/>
<line x1="296.6" y1="674.7" x2="300.2" y2="674.7" stroke="#333" stroke-width="0.7"/>
<line x1="298.4" y1="722.3" x2="298.4" y2="724.5" stroke="#000" stroke-width="0.7"/>
<rect x="309.2" y="708.8" width="11.4" height="13.5" fill="#c4fce4" stroke="#8edcb8" stroke-width="0.7"/>
<line x1="314.9" y1="707.2" x2="314.9" y2="710.6" stroke="#333" stroke-width="0.7"/>
<line x1="313.1" y1="707.2" x2="316.7" y2="707.2" stroke="#333" stroke-width="0.7"/>
<line x1="313.1" y1="710.6" x2="316.7" y2="710.6" stroke="#333" stroke-width="0.7"/>
<line x1="314.9" y1="722.3" x2="314.9" y2="724.5" stroke="#000" stroke-width="0.7"/>
<rect x="326.1" y="686.4" width="11.4" height="35.9" fill="#8c8cfa" stroke="#6c6ce6" stroke-width="0.7"/>
<line x1="331.8" y1="684" x2="331.8" y2="688.8" stroke="#333" stroke-width="0.7"/>
<line x1="330" y1="684" x2="333.6" y2="684" stroke="#333" stroke-width="0.7"/>
<line x1="330" y1="688.8" x2="333.6" y2="688.8" stroke="#333" stroke-width="0.7"/>
<line x1="331.8" y1="722.3" x2="331.8" y2="724.5" stroke="#000" stroke-width="0.7"/>
<line x1="270.8" y1="649.7" x2="270.8" y2="722.8" stroke="#000" stroke-width="1.1"/>
<line x1="270.8" y1="722.3" x2="340" y2="722.3" stroke="#000" stroke-width="1.1"/>
<line x1="268.6" y1="722.3" x2="270.8" y2="722.3" stroke="#000" stroke-width="0.8"/>
<text x="267.6" y="724.2" font-size="5.4" text-anchor="end" font-weight="bold">0.0</text>
<line x1="268.6" y1="704.3" x2="270.8" y2="704.3" stroke="#000" stroke-width="0.8"/>
<text x="267.6" y="706.2" font-size="5.4" text-anchor="end" font-weight="bold">0.2</text>
<line x1="268.6" y1="686.2" x2="270.8" y2="686.2" stroke="#000" stroke-width="0.8"/>
<text x="267.6" y="688.1" font-size="5.4" text-anchor="end" font-weight="bold">0.4</text>
<line x1="268.6" y1="668.2" x2="270.8" y2="668.2" stroke="#000" stroke-width="0.8"/>
<text x="267.6" y="670.1" font-size="5.4" text-anchor="end" font-weight="bold">0.6</text>
<line x1="268.6" y1="650.2" x2="270.8" y2="650.2" stroke="#000" stroke-width="0.8"/>
<text x="267.6" y="652.1" font-size="5.4" text-anchor="end" font-weight="bold">0.8</text>
<line x1="281.3" y1="664.5" x2="298" y2="664.5" stroke="#8a8a8a" stroke-width="1.0"/>
<path d="M287.3 657.6V661.6M285.6 658.6L289 660.6M285.6 660.6L289 658.6M292 657.6V661.6M290.3 658.6L293.7 660.6M290.3 660.6L293.7 658.6" stroke="#000" stroke-width="1.25" fill="none"/>
<line x1="299.2" y1="664.5" x2="312.7" y2="664.5" stroke="#8a8a8a" stroke-width="1.0"/>
<path d="M303.6 657.6V661.6M301.9 658.6L305.3 660.6M301.9 660.6L305.3 658.6M308.3 657.6V661.6M306.6 658.6L310 660.6M306.6 660.6L310 658.6" stroke="#000" stroke-width="1.25" fill="none"/>
<line x1="299.2" y1="651.4" x2="331.3" y2="651.4" stroke="#8a8a8a" stroke-width="1.0"/>
<path d="M312.9 644.5V648.5M311.2 645.5L314.6 647.5M311.2 647.5L314.6 645.5M317.6 644.5V648.5M315.9 645.5L319.3 647.5M315.9 647.5L319.3 645.5" stroke="#000" stroke-width="1.25" fill="none"/>
<text x="249.9" y="686.8" font-size="6.7" text-anchor="middle" font-weight="bold" transform="rotate(-90 249.9 686.8)" textLength="78.7" lengthAdjust="spacingAndGlyphs">Relative protein expression</text>
<text x="256.9" y="686.8" font-size="6.7" text-anchor="middle" font-weight="bold" transform="rotate(-90 256.9 686.8)" textLength="31.3" lengthAdjust="spacingAndGlyphs">(p-p38/p38)</text>
<text x="272.5" y="730.4" font-size="5.4" text-anchor="end">HG</text>
<text x="281.8" y="730.4" font-size="5.6" text-anchor="middle">-</text>
<text x="298.4" y="730.5" font-size="5.8" text-anchor="middle" font-weight="bold">+</text>
<text x="315" y="730.5" font-size="5.8" text-anchor="middle" font-weight="bold">+</text>
<text x="331.8" y="730.5" font-size="5.8" text-anchor="middle" font-weight="bold">+</text>
<text x="272.5" y="736.2" font-size="5.4" text-anchor="end">AS-IV</text>
<text x="281.8" y="736.2" font-size="5.6" text-anchor="middle">-</text>
<text x="298.4" y="736.2" font-size="5.6" text-anchor="middle">-</text>
<text x="315" y="736.3" font-size="5.8" text-anchor="middle" font-weight="bold">+</text>
<text x="331.8" y="736.3" font-size="5.8" text-anchor="middle" font-weight="bold">+</text>
<text x="272.5" y="742.1" font-size="5.4" text-anchor="end">C16-PAF</text>
<text x="281.8" y="742.1" font-size="5.6" text-anchor="middle">-</text>
<text x="298.4" y="742.1" font-size="5.6" text-anchor="middle">-</text>
<text x="315" y="742.1" font-size="5.6" text-anchor="middle">-</text>
<text x="331.8" y="742.2" font-size="5.8" text-anchor="middle" font-weight="bold">+</text>
<rect x="383.5" y="677.3" width="11.4" height="45" fill="#d8d8d8" stroke="#b0b0b0" stroke-width="0.7"/>
<line x1="389.2" y1="675" x2="389.2" y2="679.6" stroke="#333" stroke-width="0.7"/>
<line x1="387.4" y1="675" x2="391" y2="675" stroke="#333" stroke-width="0.7"/>
<line x1="387.4" y1="679.6" x2="391" y2="679.6" stroke="#333" stroke-width="0.7"/>
<line x1="389.2" y1="722.3" x2="389.2" y2="724.5" stroke="#000" stroke-width="0.7"/>
<rect x="400.2" y="704.3" width="11.4" height="18" fill="#f07878" stroke="#dc5a5a" stroke-width="0.7"/>
<line x1="405.9" y1="702.2" x2="405.9" y2="706.3" stroke="#333" stroke-width="0.7"/>
<line x1="404.1" y1="702.2" x2="407.7" y2="702.2" stroke="#333" stroke-width="0.7"/>
<line x1="404.1" y1="706.3" x2="407.7" y2="706.3" stroke="#333" stroke-width="0.7"/>
<line x1="405.9" y1="722.3" x2="405.9" y2="724.5" stroke="#000" stroke-width="0.7"/>
<rect x="416.8" y="688.2" width="11.4" height="34.1" fill="#c4fce4" stroke="#8edcb8" stroke-width="0.7"/>
<line x1="422.5" y1="684.8" x2="422.5" y2="691.6" stroke="#333" stroke-width="0.7"/>
<line x1="420.7" y1="684.8" x2="424.3" y2="684.8" stroke="#333" stroke-width="0.7"/>
<line x1="420.7" y1="691.6" x2="424.3" y2="691.6" stroke="#333" stroke-width="0.7"/>
<line x1="422.5" y1="722.3" x2="422.5" y2="724.5" stroke="#000" stroke-width="0.7"/>
<rect x="433.5" y="699.2" width="11.4" height="23.1" fill="#8c8cfa" stroke="#6c6ce6" stroke-width="0.7"/>
<line x1="439.2" y1="696.2" x2="439.2" y2="702.2" stroke="#333" stroke-width="0.7"/>
<line x1="437.4" y1="696.2" x2="441" y2="696.2" stroke="#333" stroke-width="0.7"/>
<line x1="437.4" y1="702.2" x2="441" y2="702.2" stroke="#333" stroke-width="0.7"/>
<line x1="439.2" y1="722.3" x2="439.2" y2="724.5" stroke="#000" stroke-width="0.7"/>
<line x1="377.8" y1="649.7" x2="377.8" y2="722.8" stroke="#000" stroke-width="1.1"/>
<line x1="377.8" y1="722.3" x2="451" y2="722.3" stroke="#000" stroke-width="1.1"/>
<line x1="375.6" y1="722.3" x2="377.8" y2="722.3" stroke="#000" stroke-width="0.8"/>
<text x="374.6" y="724.2" font-size="5.4" text-anchor="end" font-weight="bold">0.0</text>
<line x1="375.6" y1="698.3" x2="377.8" y2="698.3" stroke="#000" stroke-width="0.8"/>
<text x="374.6" y="700.2" font-size="5.4" text-anchor="end" font-weight="bold">0.5</text>
<line x1="375.6" y1="674.2" x2="377.8" y2="674.2" stroke="#000" stroke-width="0.8"/>
<text x="374.6" y="676.1" font-size="5.4" text-anchor="end" font-weight="bold">1.0</text>
<line x1="375.6" y1="650.2" x2="377.8" y2="650.2" stroke="#000" stroke-width="0.8"/>
<text x="374.6" y="652.1" font-size="5.4" text-anchor="end" font-weight="bold">1.5</text>
<line x1="389.3" y1="673.8" x2="404.6" y2="673.8" stroke="#8a8a8a" stroke-width="1.0"/>
<path d="M394.6 666.9V670.9M392.9 667.9L396.3 669.9M392.9 669.9L396.3 667.9M399.3 666.9V670.9M397.6 667.9L401 669.9M397.6 669.9L401 667.9" stroke="#000" stroke-width="1.25" fill="none"/>
<line x1="404.6" y1="663.1" x2="438.7" y2="663.1" stroke="#8a8a8a" stroke-width="1.0"/>
<path d="M421.6 656.2V660.2M419.9 657.2L423.4 659.2M419.9 659.2L423.4 657.2" stroke="#000" stroke-width="1.25" fill="none"/>
<line x1="405.4" y1="683.3" x2="422.1" y2="683.3" stroke="#8a8a8a" stroke-width="1.0"/>
<path d="M411.4 676.4V680.4M409.7 677.4L413.1 679.4M409.7 679.4L413.1 677.4M416.1 676.4V680.4M414.4 677.4L417.8 679.4M414.4 679.4L417.8 677.4" stroke="#000" stroke-width="1.25" fill="none"/>
<text x="358.3" y="686.8" font-size="6.7" text-anchor="middle" font-weight="bold" transform="rotate(-90 358.3 686.8)" textLength="78.7" lengthAdjust="spacingAndGlyphs">Relative protein expression</text>
<text x="365.3" y="686.8" font-size="6.7" text-anchor="middle" font-weight="bold" transform="rotate(-90 365.3 686.8)" textLength="51.7" lengthAdjust="spacingAndGlyphs">(SLC7A11/β-actin)</text>
<text x="378.3" y="730.4" font-size="5.4" text-anchor="end">HG</text>
<text x="389.2" y="730.4" font-size="5.6" text-anchor="middle">-</text>
<text x="405.9" y="730.5" font-size="5.8" text-anchor="middle" font-weight="bold">+</text>
<text x="422.5" y="730.5" font-size="5.8" text-anchor="middle" font-weight="bold">+</text>
<text x="439.2" y="730.5" font-size="5.8" text-anchor="middle" font-weight="bold">+</text>
<text x="378.3" y="736.2" font-size="5.4" text-anchor="end">AS-IV</text>
<text x="389.2" y="736.2" font-size="5.6" text-anchor="middle">-</text>
<text x="405.9" y="736.2" font-size="5.6" text-anchor="middle">-</text>
<text x="422.5" y="736.3" font-size="5.8" text-anchor="middle" font-weight="bold">+</text>
<text x="439.2" y="736.3" font-size="5.8" text-anchor="middle" font-weight="bold">+</text>
<text x="378.3" y="742.1" font-size="5.4" text-anchor="end">C16-PAF</text>
<text x="389.2" y="742.1" font-size="5.6" text-anchor="middle">-</text>
<text x="405.9" y="742.1" font-size="5.6" text-anchor="middle">-</text>
<text x="422.5" y="742.1" font-size="5.6" text-anchor="middle">-</text>
<text x="439.2" y="742.2" font-size="5.8" text-anchor="middle" font-weight="bold">+</text>
<rect x="493.5" y="665.9" width="11.4" height="56.4" fill="#d8d8d8" stroke="#b0b0b0" stroke-width="0.7"/>
<line x1="499.2" y1="657" x2="499.2" y2="674.7" stroke="#333" stroke-width="0.7"/>
<line x1="497.4" y1="657" x2="501" y2="657" stroke="#333" stroke-width="0.7"/>
<line x1="497.4" y1="674.7" x2="501" y2="674.7" stroke="#333" stroke-width="0.7"/>
<line x1="499.2" y1="722.3" x2="499.2" y2="724.5" stroke="#000" stroke-width="0.7"/>
<rect x="510.2" y="708.3" width="11.4" height="14" fill="#f07878" stroke="#dc5a5a" stroke-width="0.7"/>
<line x1="515.9" y1="703" x2="515.9" y2="713.6" stroke="#333" stroke-width="0.7"/>
<line x1="514.1" y1="703" x2="517.7" y2="703" stroke="#333" stroke-width="0.7"/>
<line x1="514.1" y1="713.6" x2="517.7" y2="713.6" stroke="#333" stroke-width="0.7"/>
<line x1="515.9" y1="722.3" x2="515.9" y2="724.5" stroke="#000" stroke-width="0.7"/>
<rect x="526.8" y="678.2" width="11.4" height="44.1" fill="#c4fce4" stroke="#8edcb8" stroke-width="0.7"/>
<line x1="532.5" y1="676.7" x2="532.5" y2="679.7" stroke="#333" stroke-width="0.7"/>
<line x1="530.7" y1="676.7" x2="534.3" y2="676.7" stroke="#333" stroke-width="0.7"/>
<line x1="530.7" y1="679.7" x2="534.3" y2="679.7" stroke="#333" stroke-width="0.7"/>
<line x1="532.5" y1="722.3" x2="532.5" y2="724.5" stroke="#000" stroke-width="0.7"/>
<rect x="543.5" y="696.6" width="11.4" height="25.7" fill="#8c8cfa" stroke="#6c6ce6" stroke-width="0.7"/>
<line x1="549.2" y1="692.2" x2="549.2" y2="701" stroke="#333" stroke-width="0.7"/>
<line x1="547.4" y1="692.2" x2="551" y2="692.2" stroke="#333" stroke-width="0.7"/>
<line x1="547.4" y1="701" x2="551" y2="701" stroke="#333" stroke-width="0.7"/>
<line x1="549.2" y1="722.3" x2="549.2" y2="724.5" stroke="#000" stroke-width="0.7"/>
<line x1="487.8" y1="649.5" x2="487.8" y2="722.8" stroke="#000" stroke-width="1.1"/>
<line x1="487.8" y1="722.3" x2="561" y2="722.3" stroke="#000" stroke-width="1.1"/>
<line x1="485.6" y1="722.3" x2="487.8" y2="722.3" stroke="#000" stroke-width="0.8"/>
<text x="484.6" y="724.2" font-size="5.4" text-anchor="end" font-weight="bold">0.0</text>
<line x1="485.6" y1="707.8" x2="487.8" y2="707.8" stroke="#000" stroke-width="0.8"/>
<text x="484.6" y="709.7" font-size="5.4" text-anchor="end" font-weight="bold">0.2</text>
<line x1="485.6" y1="693.4" x2="487.8" y2="693.4" stroke="#000" stroke-width="0.8"/>
<text x="484.6" y="695.3" font-size="5.4" text-anchor="end" font-weight="bold">0.4</text>
<line x1="485.6" y1="678.9" x2="487.8" y2="678.9" stroke="#000" stroke-width="0.8"/>
<text x="484.6" y="680.8" font-size="5.4" text-anchor="end" font-weight="bold">0.6</text>
<line x1="485.6" y1="664.5" x2="487.8" y2="664.5" stroke="#000" stroke-width="0.8"/>
<text x="484.6" y="666.4" font-size="5.4" text-anchor="end" font-weight="bold">0.8</text>
<line x1="485.6" y1="650" x2="487.8" y2="650" stroke="#000" stroke-width="0.8"/>
<text x="484.6" y="651.9" font-size="5.4" text-anchor="end" font-weight="bold">1.0</text>
<line x1="498.8" y1="655.2" x2="512.8" y2="655.2" stroke="#8a8a8a" stroke-width="1.0"/>
<path d="M503.4 648.3V652.3M501.7 649.3L505.2 651.3M501.7 651.3L505.2 649.3M508.1 648.3V652.3M506.4 649.3L509.9 651.3M506.4 651.3L509.9 649.3" stroke="#000" stroke-width="1.25" fill="none"/>
<line x1="515.4" y1="664.5" x2="549.6" y2="664.5" stroke="#8a8a8a" stroke-width="1.0"/>
<path d="M532.5 657.6V661.6M530.8 658.6L534.2 660.6M530.8 660.6L534.2 658.6" stroke="#000" stroke-width="1.25" fill="none"/>
<line x1="515.4" y1="675" x2="531.2" y2="675" stroke="#8a8a8a" stroke-width="1.0"/>
<path d="M520.9 668.1V672.1M519.2 669.1L522.7 671.1M519.2 671.1L522.7 669.1M525.6 668.1V672.1M523.9 669.1L527.4 671.1M523.9 671.1L527.4 669.1" stroke="#000" stroke-width="1.25" fill="none"/>
<text x="467" y="686.6" font-size="6.7" text-anchor="middle" font-weight="bold" transform="rotate(-90 467 686.6)" textLength="78.7" lengthAdjust="spacingAndGlyphs">Relative protein expression</text>
<text x="474" y="686.6" font-size="6.7" text-anchor="middle" font-weight="bold" transform="rotate(-90 474 686.6)" textLength="43.7" lengthAdjust="spacingAndGlyphs">(GPX4/β-actin)</text>
<text x="488.3" y="730.4" font-size="5.4" text-anchor="end">HG</text>
<text x="499.2" y="730.4" font-size="5.6" text-anchor="middle">-</text>
<text x="515.9" y="730.5" font-size="5.8" text-anchor="middle" font-weight="bold">+</text>
<text x="532.5" y="730.5" font-size="5.8" text-anchor="middle" font-weight="bold">+</text>
<text x="549.2" y="730.5" font-size="5.8" text-anchor="middle" font-weight="bold">+</text>
<text x="488.3" y="736.2" font-size="5.4" text-anchor="end">AS-IV</text>
<text x="499.2" y="736.2" font-size="5.6" text-anchor="middle">-</text>
<text x="515.9" y="736.2" font-size="5.6" text-anchor="middle">-</text>
<text x="532.5" y="736.3" font-size="5.8" text-anchor="middle" font-weight="bold">+</text>
<text x="549.2" y="736.3" font-size="5.8" text-anchor="middle" font-weight="bold">+</text>
<text x="488.3" y="742.1" font-size="5.4" text-anchor="end">C16-PAF</text>
<text x="499.2" y="742.1" font-size="5.6" text-anchor="middle">-</text>
<text x="515.9" y="742.1" font-size="5.6" text-anchor="middle">-</text>
<text x="532.5" y="742.1" font-size="5.6" text-anchor="middle">-</text>
<text x="549.2" y="742.2" font-size="5.8" text-anchor="middle" font-weight="bold">+</text>
<rect x="599.5" y="697.3" width="11.4" height="23.3" fill="#d8d8d8" stroke="#b0b0b0" stroke-width="0.7"/>
<line x1="605.2" y1="694" x2="605.2" y2="701" stroke="#333" stroke-width="0.7"/>
<line x1="603.4" y1="694" x2="607" y2="694" stroke="#333" stroke-width="0.7"/>
<line x1="603.4" y1="701" x2="607" y2="701" stroke="#333" stroke-width="0.7"/>
<line x1="605.2" y1="720.6" x2="605.2" y2="722.8" stroke="#000" stroke-width="0.7"/>
<rect x="616.2" y="671.2" width="11.4" height="49.4" fill="#f07878" stroke="#dc5a5a" stroke-width="0.7"/>
<line x1="621.9" y1="669.5" x2="621.9" y2="673" stroke="#333" stroke-width="0.7"/>
<line x1="620.1" y1="669.5" x2="623.7" y2="669.5" stroke="#333" stroke-width="0.7"/>
<line x1="620.1" y1="673" x2="623.7" y2="673" stroke="#333" stroke-width="0.7"/>
<line x1="621.9" y1="720.6" x2="621.9" y2="722.8" stroke="#000" stroke-width="0.7"/>
<rect x="632.8" y="696" width="11.4" height="24.6" fill="#c4fce4" stroke="#8edcb8" stroke-width="0.7"/>
<line x1="638.5" y1="692.2" x2="638.5" y2="699.6" stroke="#333" stroke-width="0.7"/>
<line x1="636.7" y1="692.2" x2="640.3" y2="692.2" stroke="#333" stroke-width="0.7"/>
<line x1="636.7" y1="699.6" x2="640.3" y2="699.6" stroke="#333" stroke-width="0.7"/>
<line x1="638.5" y1="720.6" x2="638.5" y2="722.8" stroke="#000" stroke-width="0.7"/>
<rect x="649.6" y="684.1" width="11.4" height="36.5" fill="#8c8cfa" stroke="#6c6ce6" stroke-width="0.7"/>
<line x1="655.3" y1="677.7" x2="655.3" y2="690.5" stroke="#333" stroke-width="0.7"/>
<line x1="653.5" y1="677.7" x2="657.1" y2="677.7" stroke="#333" stroke-width="0.7"/>
<line x1="653.5" y1="690.5" x2="657.1" y2="690.5" stroke="#333" stroke-width="0.7"/>
<line x1="655.3" y1="720.6" x2="655.3" y2="722.8" stroke="#000" stroke-width="0.7"/>
<line x1="593.6" y1="647.9" x2="593.6" y2="721.1" stroke="#000" stroke-width="1.1"/>
<line x1="593.6" y1="720.6" x2="666.6" y2="720.6" stroke="#000" stroke-width="1.1"/>
<line x1="591.4" y1="720.6" x2="593.6" y2="720.6" stroke="#000" stroke-width="0.8"/>
<text x="590.4" y="722.5" font-size="5.4" text-anchor="end" font-weight="bold">0.0</text>
<line x1="591.4" y1="696.5" x2="593.6" y2="696.5" stroke="#000" stroke-width="0.8"/>
<text x="590.4" y="698.4" font-size="5.4" text-anchor="end" font-weight="bold">0.5</text>
<line x1="591.4" y1="672.5" x2="593.6" y2="672.5" stroke="#000" stroke-width="0.8"/>
<text x="590.4" y="674.4" font-size="5.4" text-anchor="end" font-weight="bold">1.0</text>
<line x1="591.4" y1="648.4" x2="593.6" y2="648.4" stroke="#000" stroke-width="0.8"/>
<text x="590.4" y="650.3" font-size="5.4" text-anchor="end" font-weight="bold">1.5</text>
<line x1="605.6" y1="667.2" x2="620.7" y2="667.2" stroke="#8a8a8a" stroke-width="1.0"/>
<path d="M610.8 660.3V664.3M609.1 661.3L612.5 663.3M609.1 663.3L612.5 661.3M615.5 660.3V664.3M613.8 661.3L617.2 663.3M613.8 663.3L617.2 661.3" stroke="#000" stroke-width="1.25" fill="none"/>
<line x1="621.9" y1="667.2" x2="636.8" y2="667.2" stroke="#8a8a8a" stroke-width="1.0"/>
<path d="M627 660.3V664.3M625.3 661.3L628.7 663.3M625.3 663.3L628.7 661.3M631.7 660.3V664.3M630 661.3L633.4 663.3M630 663.3L633.4 661.3" stroke="#000" stroke-width="1.25" fill="none"/>
<line x1="622.8" y1="655.4" x2="655.2" y2="655.4" stroke="#8a8a8a" stroke-width="1.0"/>
<path d="M639 648.5V652.5M637.3 649.5L640.7 651.5M637.3 651.5L640.7 649.5" stroke="#000" stroke-width="1.25" fill="none"/>
<text x="572.6" y="685" font-size="6.7" text-anchor="middle" font-weight="bold" transform="rotate(-90 572.6 685)" textLength="78.7" lengthAdjust="spacingAndGlyphs">Relative protein expression</text>
<text x="579.6" y="685" font-size="6.7" text-anchor="middle" font-weight="bold" transform="rotate(-90 579.6 685)" textLength="41.5" lengthAdjust="spacingAndGlyphs">(LPO/β-actin)</text>
<text x="591.3" y="728.3" font-size="5.4" text-anchor="end">HG</text>
<text x="605.2" y="728.3" font-size="5.6" text-anchor="middle">-</text>
<text x="621.9" y="728.4" font-size="5.8" text-anchor="middle" font-weight="bold">+</text>
<text x="638.5" y="728.4" font-size="5.8" text-anchor="middle" font-weight="bold">+</text>
<text x="655.3" y="728.4" font-size="5.8" text-anchor="middle" font-weight="bold">+</text>
<text x="591.3" y="733.9" font-size="5.4" text-anchor="end">AS-IV</text>
<text x="605.2" y="733.9" font-size="5.6" text-anchor="middle">-</text>
<text x="621.9" y="733.9" font-size="5.6" text-anchor="middle">-</text>
<text x="638.5" y="734" font-size="5.8" text-anchor="middle" font-weight="bold">+</text>
<text x="655.3" y="734" font-size="5.8" text-anchor="middle" font-weight="bold">+</text>
<text x="591.3" y="739.7" font-size="5.4" text-anchor="end">C16-PAF</text>
<text x="605.2" y="739.7" font-size="5.6" text-anchor="middle">-</text>
<text x="621.9" y="739.7" font-size="5.6" text-anchor="middle">-</text>
<text x="638.5" y="739.7" font-size="5.6" text-anchor="middle">-</text>
<text x="655.3" y="739.8" font-size="5.8" text-anchor="middle" font-weight="bold">+</text>
</svg>
</body></html>
